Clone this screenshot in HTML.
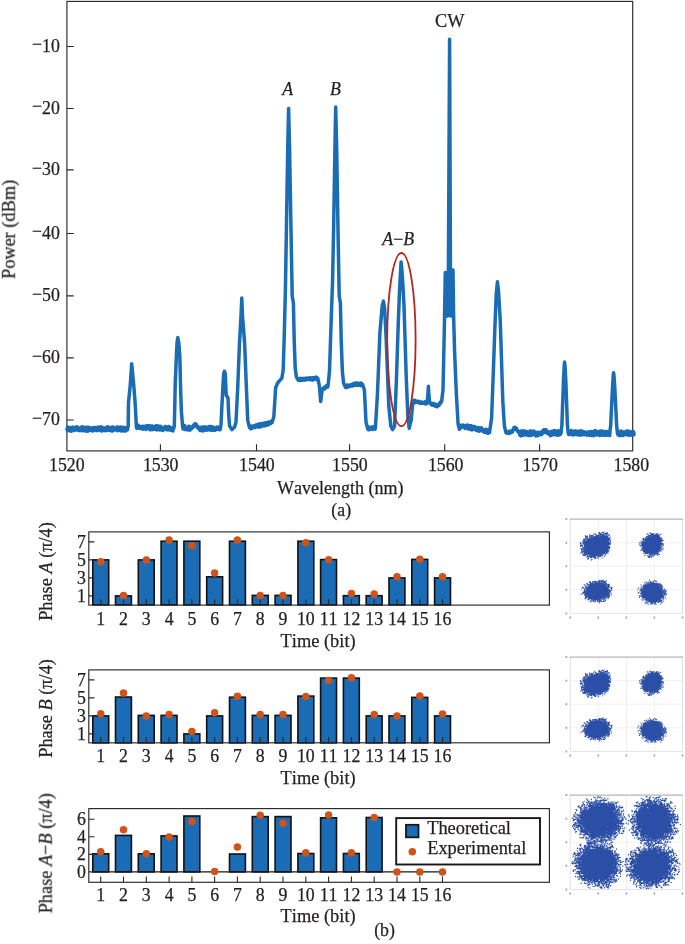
<!DOCTYPE html>
<html lang="en">
<head>
<meta charset="utf-8">
<title>Figure</title>
<style>
html,body{margin:0;padding:0;background:#fff;}
body{width:685px;height:944px;overflow:hidden;font-family:"Liberation Serif",serif;}
svg{display:block;}
svg text{font-family:"Liberation Serif",serif;font-size:17.8px;fill:#231f20;font-kerning:none;stroke:#231f20;stroke-width:0.25px;}
</style>
</head>
<body>
<svg width="685" height="944" viewBox="0 0 685 944">
<rect width="685" height="944" fill="#fff"/>
<g opacity="0.999">
<rect x="66.9" y="1.4" width="565.8000000000001" height="449.5" fill="none" stroke="#2b2728" stroke-width="1.15"/>
<path d="M66.9 420.0h6.8M66.9 357.9h6.8M66.9 295.9h6.8M66.9 233.5h6.8M66.9 169.9h6.8M66.9 108.5h6.8M66.9 46.5h6.8M160.4 450.9v-6.6M256.5 450.9v-6.6M349.6 450.9v-6.6M444.7 450.9v-6.6M539.6 450.9v-6.6" stroke="#2b2728" stroke-width="1.1" fill="none"/>
<text x="59.8" y="425.4" text-anchor="end"><tspan dy="-1.7">−</tspan><tspan dy="1.7">70</tspan></text>
<text x="59.8" y="363.3" text-anchor="end"><tspan dy="-1.7">−</tspan><tspan dy="1.7">60</tspan></text>
<text x="59.8" y="301.3" text-anchor="end"><tspan dy="-1.7">−</tspan><tspan dy="1.7">50</tspan></text>
<text x="59.8" y="238.9" text-anchor="end"><tspan dy="-1.7">−</tspan><tspan dy="1.7">40</tspan></text>
<text x="59.8" y="175.3" text-anchor="end"><tspan dy="-1.7">−</tspan><tspan dy="1.7">30</tspan></text>
<text x="59.8" y="113.9" text-anchor="end"><tspan dy="-1.7">−</tspan><tspan dy="1.7">20</tspan></text>
<text x="59.8" y="51.9" text-anchor="end"><tspan dy="-1.7">−</tspan><tspan dy="1.7">10</tspan></text>
<text x="66.8" y="470.8" text-anchor="middle">1520</text>
<text x="160.7" y="470.8" text-anchor="middle">1530</text>
<text x="256.9" y="470.8" text-anchor="middle">1540</text>
<text x="349.9" y="470.8" text-anchor="middle">1550</text>
<text x="445.7" y="470.8" text-anchor="middle">1560</text>
<text x="540.2" y="470.8" text-anchor="middle">1570</text>
<text x="631.3" y="470.8" text-anchor="middle">1580</text>
<text x="340.2" y="494" text-anchor="middle" style="font-size:18px">Wavelength (nm)</text>
<text x="341.2" y="516.1" text-anchor="middle">(a)</text>
<text transform="translate(14.8 229.4) rotate(-90)" text-anchor="middle" style="font-size:18.3px">Power (dBm)</text>
<text x="287.6" y="95" text-anchor="middle" font-style="italic">A</text>
<text x="335.4" y="95" text-anchor="middle" font-style="italic">B</text>
<text x="398.2" y="244.6" text-anchor="middle"><tspan font-style="italic">A</tspan>−<tspan font-style="italic">B</tspan></text>
<text x="449.8" y="27.4" text-anchor="middle" style="font-size:18.3px">CW</text>
<path d="M67.0 428.9 L67.5 430.7 L68.0 426.9 L68.5 430.1 L69.0 428.5 L69.5 430.7 L70.0 427.7 L70.5 429.8 L71.0 427.6 L71.5 431.2 L72.0 427.7 L72.5 429.6 L73.0 427.1 L73.5 429.5 L74.0 427.9 L74.5 430.5 L75.0 427.4 L75.5 429.3 L76.0 427.1 L76.5 429.7 L77.0 426.8 L77.5 430.1 L78.0 427.7 L78.5 430.6 L79.0 428.2 L79.5 430.5 L80.0 427.8 L80.5 429.5 L81.0 427.6 L81.5 430.7 L82.0 426.8 L82.5 430.5 L83.0 427.1 L83.5 430.0 L84.0 427.5 L84.5 430.8 L85.0 427.2 L85.5 430.9 L86.0 428.4 L86.5 431.2 L87.0 427.2 L87.5 430.0 L88.0 427.3 L88.5 430.9 L89.0 427.4 L89.5 429.9 L90.0 428.5 L90.5 430.2 L91.0 428.0 L91.5 429.4 L92.0 428.1 L92.5 431.1 L93.0 427.7 L93.5 430.8 L94.0 427.5 L94.5 430.0 L95.0 427.4 L95.5 429.9 L96.0 428.5 L96.5 430.5 L97.0 427.9 L97.5 429.5 L98.0 427.1 L98.5 430.4 L99.0 428.0 L99.5 429.6 L100.0 426.9 L100.5 429.8 L101.0 426.8 L101.5 431.0 L102.0 427.8 L102.5 430.7 L103.0 427.9 L103.5 430.4 L104.0 428.2 L104.5 430.5 L105.0 428.1 L105.5 430.7 L106.0 427.6 L106.5 429.9 L107.0 427.8 L107.5 430.0 L108.0 426.8 L108.5 430.4 L109.0 427.5 L109.5 430.2 L110.0 427.7 L110.5 430.3 L111.0 428.2 L111.5 430.9 L112.0 427.0 L112.5 431.1 L113.0 427.0 L113.5 430.6 L114.0 428.0 L114.5 429.7 L115.0 428.1 L115.5 429.6 L116.0 428.2 L116.5 429.4 L117.0 426.9 L117.5 430.8 L118.0 427.2 L118.5 430.1 L119.0 427.3 L119.5 430.5 L120.0 427.7 L120.5 429.7 L121.0 427.0 L121.5 431.0 L122.0 428.3 L122.5 430.7 L123.0 427.5 L123.5 430.2 L124.0 427.4 L124.5 430.9 L125.0 428.0 L125.5 431.1 L126.0 427.8 L126.5 430.3 L127.0 427.7 L127.5 429.9 L127.6 428.9 L128.2 426.0 L128.5 402.5 L130.3 384.6 L131.7 363.7 L133.7 384.6 L135.1 402.5 L136.4 427.0 L136.9 428.4 L137.4 426.3 L137.9 427.9 L138.4 425.2 L138.9 428.3 L139.4 426.1 L139.9 428.2 L140.4 426.7 L140.9 428.6 L141.4 426.8 L141.9 427.8 L142.4 426.3 L142.9 429.2 L143.4 426.5 L143.9 428.7 L144.4 426.4 L144.9 428.7 L145.4 426.9 L145.9 429.5 L146.4 425.8 L146.9 428.2 L147.4 425.6 L147.9 428.6 L148.4 426.1 L148.9 428.2 L149.4 425.9 L149.9 429.7 L150.4 425.9 L150.9 429.5 L151.4 426.0 L151.9 429.7 L152.4 426.1 L152.9 428.9 L153.4 427.5 L153.9 429.2 L154.4 426.6 L154.9 429.3 L155.4 425.9 L155.9 428.9 L156.4 425.7 L156.9 429.9 L157.4 425.8 L157.9 429.1 L158.4 427.2 L158.9 429.6 L159.4 426.2 L159.9 430.0 L160.4 426.2 L160.9 429.3 L161.4 427.1 L161.9 430.0 L162.4 428.0 L162.9 430.6 L163.4 427.4 L163.9 429.1 L164.4 427.8 L164.9 429.0 L165.4 426.5 L165.9 429.4 L166.4 427.6 L166.9 429.6 L167.4 427.1 L167.9 430.0 L168.4 426.5 L168.9 429.2 L169.4 426.8 L169.9 429.9 L170.4 427.9 L170.9 430.4 L171.4 428.1 L171.9 430.1 L172.4 427.9 L172.9 431.0 L173.4 427.2 L173.6 428.9 L174.3 426.0 L174.8 405.0 L175.2 384.6 L176.4 355.8 L177.0 343.0 L177.8 337.5 L178.8 343.0 L179.8 355.8 L180.5 384.6 L181.3 410.0 L182.6 427.0 L183.1 429.0 L183.6 425.7 L184.1 428.2 L184.6 425.5 L185.1 429.6 L185.6 426.9 L186.1 428.6 L186.6 427.5 L187.1 429.7 L187.6 427.3 L188.1 430.0 L188.6 426.2 L189.1 429.8 L189.6 426.6 L190.1 430.1 L190.6 427.5 L191.0 428.9 L191.5 428.8 L192.0 427.7 L192.5 427.9 L193.0 425.7 L193.5 426.8 L194.0 424.7 L194.5 425.8 L195.0 423.7 L195.3 424.0 L195.8 425.1 L196.3 424.2 L196.8 426.5 L197.3 425.8 L197.8 428.0 L198.3 426.9 L198.8 428.9 L199.3 427.7 L199.5 428.9 L200.0 430.4 L200.5 427.4 L201.0 430.5 L201.5 427.7 L202.0 430.1 L202.5 426.9 L203.0 430.9 L203.5 427.7 L204.0 429.3 L204.5 426.9 L205.0 430.3 L205.5 427.1 L206.0 429.7 L206.5 427.6 L207.0 430.2 L207.5 427.5 L208.0 429.8 L208.5 426.8 L209.0 429.6 L209.5 426.6 L210.0 430.0 L210.5 426.5 L211.0 429.7 L211.5 427.5 L212.0 430.4 L212.5 426.7 L213.0 429.7 L213.5 427.5 L214.0 430.3 L214.5 428.0 L215.0 430.3 L215.5 427.9 L216.0 429.4 L216.5 427.3 L217.0 429.3 L217.5 427.1 L218.0 429.5 L218.5 427.2 L219.0 429.0 L219.5 427.3 L220.0 429.8 L220.4 428.3 L221.0 425.0 L221.7 410.0 L223.0 385.0 L223.7 373.6 L224.4 371.2 L225.3 373.6 L226.2 395.2 L228.0 398.0 L228.7 415.0 L229.6 426.0 L232.0 429.6 L234.6 427.0 L236.0 422.0 L237.7 388.0 L239.5 343.0 L241.0 316.0 L241.8 298.0 L242.5 316.0 L244.6 343.0 L246.4 388.0 L247.7 420.0 L249.5 427.6 L250.0 427.9 L250.5 426.0 L251.0 428.9 L251.5 426.2 L252.0 428.3 L252.5 426.2 L253.0 427.6 L253.5 425.9 L254.0 426.9 L254.5 425.8 L255.0 427.6 L255.5 425.4 L256.0 426.8 L256.5 424.9 L257.0 426.8 L257.5 425.3 L258.0 426.5 L258.5 424.0 L259.0 427.2 L259.5 423.9 L260.0 426.5 L260.5 423.7 L261.0 426.8 L261.5 424.3 L262.0 425.5 L262.5 423.5 L263.0 425.8 L263.5 423.3 L264.0 426.0 L264.5 423.5 L265.0 424.7 L265.5 422.8 L266.0 425.5 L266.5 422.8 L267.0 424.1 L267.5 422.8 L268.0 424.9 L268.5 422.0 L269.0 424.6 L269.5 422.9 L270.0 423.5 L270.5 421.7 L271.0 423.3 L271.5 421.0 L272.0 422.6 L273.8 417.0 L274.9 400.0 L275.6 388.0 L277.4 383.5 L277.9 383.0 L278.4 381.7 L278.9 381.6 L279.4 381.0 L279.9 380.4 L280.4 379.6 L280.9 379.5 L281.4 378.6 L281.9 378.0 L283.2 370.0 L284.3 334.0 L285.4 290.0 L286.4 230.0 L287.7 150.0 L288.6 108.4 L289.6 150.0 L291.0 230.0 L292.2 296.0 L293.4 303.0 L294.2 340.0 L295.2 368.0 L296.4 377.0 L298.0 379.8 L298.5 380.5 L299.0 378.9 L299.5 380.5 L300.0 378.6 L300.5 380.2 L301.0 378.4 L301.5 380.4 L302.0 378.9 L302.5 380.1 L303.0 378.5 L303.5 379.8 L304.0 378.6 L304.5 379.9 L305.0 378.5 L305.5 379.9 L306.0 378.1 L306.5 379.8 L307.0 378.5 L307.5 379.5 L308.0 378.1 L308.5 379.3 L309.0 378.4 L309.5 379.2 L310.0 377.8 L310.5 379.9 L311.0 377.9 L311.5 379.3 L312.0 378.4 L312.5 380.0 L313.0 377.6 L313.5 379.7 L314.0 377.9 L314.5 379.2 L315.0 377.6 L315.5 379.0 L316.0 377.1 L316.5 379.4 L317.0 377.5 L317.5 379.0 L317.8 378.3 L319.4 386.0 L320.7 401.5 L322.2 389.0 L322.7 389.6 L323.2 388.4 L323.7 389.0 L324.2 387.4 L324.7 389.0 L325.2 387.2 L325.7 387.7 L326.2 385.9 L326.7 387.3 L327.2 386.2 L327.7 386.8 L328.0 386.3 L329.5 371.0 L331.2 320.0 L332.6 280.0 L333.6 230.0 L334.9 150.0 L335.7 107.0 L336.7 150.0 L338.0 230.0 L339.2 296.0 L340.4 303.0 L341.2 340.0 L342.4 372.0 L343.6 383.0 L345.2 386.8 L345.7 387.6 L346.2 385.3 L346.7 387.4 L347.2 384.9 L347.7 387.2 L348.2 385.4 L348.7 386.6 L349.2 385.2 L349.7 385.9 L350.2 385.1 L350.7 386.2 L351.2 384.5 L351.7 386.0 L352.2 384.5 L352.7 386.0 L353.2 383.9 L353.7 385.5 L354.2 383.8 L354.7 385.3 L355.2 382.9 L355.7 385.3 L356.0 384.2 L356.5 385.0 L357.0 383.0 L357.5 385.3 L358.0 383.8 L358.5 385.3 L359.0 383.2 L359.5 384.8 L360.0 383.7 L360.5 385.6 L361.0 383.0 L361.5 385.6 L362.0 383.7 L362.5 385.7 L362.6 384.6 L364.4 390.0 L366.0 422.0 L367.6 428.5 L368.1 429.6 L368.6 426.9 L369.1 429.8 L369.6 427.7 L370.1 429.2 L370.6 427.5 L371.1 428.5 L371.6 427.1 L372.1 429.5 L372.6 427.4 L373.1 428.7 L373.6 426.8 L374.1 428.9 L374.6 427.2 L375.1 429.3 L375.4 428.0 L377.4 395.0 L379.9 333.0 L382.2 306.0 L383.4 301.1 L384.6 308.0 L386.0 335.0 L388.8 406.0 L390.8 426.0 L392.5 429.6 L393.0 429.1 L393.5 427.7 L394.0 427.3 L394.5 425.9 L394.6 426.0 L396.4 380.0 L398.2 325.0 L399.6 289.0 L401.1 262.0 L402.3 275.0 L404.0 305.0 L406.2 376.0 L407.8 415.0 L409.2 428.2 L409.7 426.3 L410.2 423.5 L410.7 422.4 L411.2 420.0 L412.9 401.5 L413.4 401.9 L413.9 400.4 L414.4 402.7 L414.9 400.4 L415.4 402.6 L415.9 400.9 L416.4 402.2 L416.9 401.7 L417.4 402.2 L417.9 401.3 L418.4 402.7 L418.9 401.4 L419.4 402.8 L419.9 402.1 L420.4 403.5 L420.9 402.0 L421.4 402.7 L421.9 402.1 L422.4 403.2 L422.9 402.5 L423.4 403.2 L423.9 402.7 L424.4 403.7 L424.9 401.9 L425.4 403.5 L425.9 402.2 L426.4 403.9 L426.9 403.1 L427.0 403.2 L427.9 395.0 L428.4 386.3 L428.9 395.0 L429.8 403.2 L430.3 403.5 L430.8 402.9 L431.3 404.6 L431.8 403.2 L432.3 405.3 L432.8 403.9 L433.3 404.9 L433.8 403.5 L434.3 405.2 L434.8 404.0 L435.3 406.3 L435.8 404.5 L436.3 406.4 L436.8 404.9 L437.3 406.8 L437.6 405.8 L438.1 405.5 L438.6 404.2 L439.1 405.2 L439.6 403.2 L440.1 403.8 L440.6 402.1 L441.1 402.4 L441.6 401.5 L443.0 390.0 L444.3 330.0 L445.3 272.6 L446.2 316.0 L446.9 272.6 L447.6 316.0 L448.3 290.0 L449.6 39.2 L450.6 316.0 L451.5 272.0 L452.2 316.0 L453.0 270.0 L453.6 316.0 L454.6 352.0 L456.4 395.0 L458.1 424.0 L459.4 429.4 L459.9 428.8 L460.4 427.0 L460.9 427.5 L461.4 425.3 L461.5 425.8 L462.0 427.1 L462.5 425.3 L463.0 426.7 L463.5 425.1 L464.0 427.3 L464.5 425.9 L465.0 428.5 L465.5 425.6 L466.0 427.8 L466.5 426.0 L467.0 428.0 L467.5 424.9 L468.0 428.9 L468.5 426.1 L469.0 427.8 L469.5 425.8 L470.0 429.3 L470.5 425.9 L471.0 429.3 L471.5 425.7 L472.0 430.0 L472.5 426.6 L473.0 429.0 L473.5 427.1 L474.0 429.2 L474.5 426.4 L475.0 428.9 L475.5 427.8 L476.0 430.1 L476.5 427.5 L477.0 430.3 L477.5 428.0 L478.0 430.9 L478.5 427.6 L479.0 431.2 L479.5 428.4 L480.0 430.8 L480.5 429.3 L481.0 430.2 L481.5 427.7 L482.0 430.6 L482.5 429.4 L483.0 431.5 L483.5 429.8 L484.0 430.4 L484.5 432.3 L485.0 430.1 L485.5 432.4 L486.0 429.3 L486.5 432.4 L487.0 430.4 L487.5 433.3 L488.0 430.1 L488.5 433.3 L489.0 430.5 L489.5 432.6 L491.6 418.0 L493.4 370.0 L494.8 330.0 L496.2 295.0 L497.4 281.8 L498.6 292.0 L500.3 322.0 L502.8 401.0 L504.4 426.0 L505.8 432.0 L506.3 433.2 L506.8 431.4 L507.3 433.0 L507.8 431.8 L508.3 433.1 L508.8 431.8 L509.3 433.5 L509.8 431.1 L510.3 432.9 L510.8 432.2 L511.0 432.6 L511.5 432.3 L512.0 430.9 L512.5 431.9 L513.0 429.6 L513.5 429.7 L514.0 427.5 L514.5 429.3 L515.0 427.2 L515.3 427.2 L515.8 428.7 L516.3 428.1 L516.8 430.3 L517.3 429.8 L517.8 431.4 L518.3 431.0 L518.8 432.7 L519.3 432.0 L519.5 433.4 L520.0 435.2 L520.5 431.2 L521.0 435.9 L521.5 430.9 L522.0 435.2 L522.5 432.2 L523.0 435.2 L523.5 430.7 L524.0 434.3 L524.5 431.3 L525.0 435.1 L525.5 431.4 L526.0 434.2 L526.5 431.2 L527.0 434.1 L527.5 432.1 L528.0 435.4 L528.5 432.1 L529.0 435.4 L529.5 431.4 L530.0 435.5 L530.5 430.8 L531.0 434.5 L531.5 432.4 L532.0 435.2 L532.5 432.8 L533.0 434.4 L533.5 431.0 L534.0 434.5 L534.5 431.7 L535.0 434.8 L535.5 432.1 L536.0 435.9 L536.5 432.5 L537.0 435.2 L537.5 432.6 L538.0 435.7 L538.5 432.3 L539.0 434.9 L539.5 432.4 L540.0 434.3 L540.5 432.5 L541.0 433.4 L541.5 434.7 L542.0 431.7 L542.5 433.4 L543.0 430.4 L543.5 432.9 L544.0 429.8 L544.5 432.3 L545.0 430.4 L545.5 431.3 L546.0 429.7 L546.5 432.6 L547.0 430.9 L547.5 433.6 L548.0 431.4 L548.5 433.7 L549.0 433.4 L549.5 434.5 L550.0 432.1 L550.5 435.7 L551.0 431.6 L551.5 433.8 L552.0 431.5 L552.5 435.0 L553.0 431.5 L553.5 433.8 L554.0 430.7 L554.5 434.6 L555.0 430.6 L555.5 434.6 L556.0 431.5 L556.5 435.1 L557.0 432.5 L557.5 435.3 L558.0 430.8 L558.5 434.6 L559.0 431.6 L559.5 434.9 L560.0 431.0 L560.5 434.3 L561.0 433.0 L561.9 425.0 L562.5 408.0 L563.5 380.0 L564.2 366.0 L564.6 362.1 L565.0 366.0 L565.8 380.0 L566.8 408.0 L567.4 425.0 L568.2 433.0 L568.7 434.4 L569.2 431.7 L569.7 434.3 L570.2 431.0 L570.7 434.4 L571.2 430.6 L571.7 434.6 L572.2 431.5 L572.7 434.2 L573.2 431.3 L573.7 435.1 L574.2 431.9 L574.7 434.2 L575.2 431.0 L575.7 434.0 L576.2 431.0 L576.7 434.4 L577.2 432.4 L577.7 434.8 L578.2 431.4 L578.7 435.0 L579.2 430.9 L579.7 433.9 L580.2 431.5 L580.7 435.1 L581.2 430.8 L581.7 434.9 L582.2 431.8 L582.7 434.8 L583.2 431.4 L583.7 434.5 L584.2 431.9 L584.7 434.6 L585.2 432.4 L585.7 434.1 L586.2 432.4 L586.7 435.3 L587.2 432.3 L587.7 434.2 L588.2 432.2 L588.7 434.4 L589.2 431.7 L589.7 435.4 L590.2 432.0 L590.7 434.0 L591.2 431.5 L591.7 435.4 L592.2 432.1 L592.7 435.6 L593.2 431.6 L593.7 435.7 L594.2 431.1 L594.7 434.5 L595.2 430.6 L595.7 434.2 L596.2 431.2 L596.7 435.1 L597.2 431.4 L597.7 434.5 L598.2 431.9 L598.7 433.9 L599.2 431.5 L599.7 435.5 L600.2 431.0 L600.7 434.8 L601.2 431.1 L601.7 435.3 L602.2 430.9 L602.7 435.1 L603.2 431.8 L603.7 434.1 L604.2 431.8 L604.7 435.5 L605.2 431.6 L605.7 434.2 L606.2 432.3 L606.7 435.3 L607.2 431.4 L607.7 434.9 L608.2 431.7 L608.7 434.6 L609.2 431.9 L609.7 435.6 L609.8 433.2 L610.7 425.0 L611.4 410.0 L612.6 386.0 L613.2 376.0 L613.6 372.7 L614.0 376.0 L614.7 386.0 L615.9 410.0 L616.6 425.0 L617.4 433.2 L617.9 434.5 L618.4 432.6 L618.9 435.5 L619.4 431.6 L619.9 433.8 L620.4 431.9 L620.9 435.6 L621.4 430.9 L621.9 434.1 L622.4 432.0 L622.9 435.5 L623.4 432.0 L623.9 435.0 L624.4 432.7 L624.9 434.5 L625.4 431.7 L625.9 434.8 L626.4 430.9 L626.9 434.0 L627.4 431.9 L627.9 434.0 L628.4 430.9 L628.9 435.5 L629.4 431.9 L629.9 434.5 L630.4 431.9 L630.9 433.8 L631.4 431.8 L631.9 435.2 L632.4 432.2 L632.9 434.3 L633.4 431.5 L633.9 434.8 L634.0 433.2" fill="none" stroke="#1a6cb4" stroke-width="3.5" stroke-linejoin="round" stroke-linecap="round"/>
<ellipse cx="401.4" cy="339.6" rx="14.2" ry="86.6" fill="none" stroke="#b4261c" stroke-width="1.8"/>
<rect x="92.8" y="559.9" width="15.9" height="45.0" fill="#1a6cb4" stroke="#151112" stroke-width="1.6"/>
<rect x="115.5" y="595.9" width="15.9" height="9.0" fill="#1a6cb4" stroke="#151112" stroke-width="1.6"/>
<rect x="138.3" y="559.9" width="15.9" height="45.0" fill="#1a6cb4" stroke="#151112" stroke-width="1.6"/>
<rect x="161.1" y="541.2" width="15.9" height="63.7" fill="#1a6cb4" stroke="#151112" stroke-width="1.6"/>
<rect x="183.9" y="541.2" width="15.9" height="63.7" fill="#1a6cb4" stroke="#151112" stroke-width="1.6"/>
<rect x="206.7" y="576.8" width="15.9" height="28.1" fill="#1a6cb4" stroke="#151112" stroke-width="1.6"/>
<rect x="229.5" y="541.2" width="15.9" height="63.7" fill="#1a6cb4" stroke="#151112" stroke-width="1.6"/>
<rect x="252.3" y="595.4" width="15.9" height="9.5" fill="#1a6cb4" stroke="#151112" stroke-width="1.6"/>
<rect x="275.1" y="595.4" width="15.9" height="9.5" fill="#1a6cb4" stroke="#151112" stroke-width="1.6"/>
<rect x="297.9" y="541.2" width="15.9" height="63.7" fill="#1a6cb4" stroke="#151112" stroke-width="1.6"/>
<rect x="320.6" y="559.6" width="15.9" height="45.3" fill="#1a6cb4" stroke="#151112" stroke-width="1.6"/>
<rect x="343.4" y="595.7" width="15.9" height="9.2" fill="#1a6cb4" stroke="#151112" stroke-width="1.6"/>
<rect x="366.2" y="595.7" width="15.9" height="9.2" fill="#1a6cb4" stroke="#151112" stroke-width="1.6"/>
<rect x="389.0" y="577.9" width="15.9" height="27.0" fill="#1a6cb4" stroke="#151112" stroke-width="1.6"/>
<rect x="411.8" y="559.4" width="15.9" height="45.5" fill="#1a6cb4" stroke="#151112" stroke-width="1.6"/>
<rect x="434.6" y="577.9" width="15.9" height="27.0" fill="#1a6cb4" stroke="#151112" stroke-width="1.6"/>
<rect x="88.8" y="531.9" width="460.59999999999997" height="73.20000000000005" fill="none" stroke="#2b2728" stroke-width="1.15"/>
<text x="86" y="601.8" text-anchor="end">1</text>
<text x="86" y="583.8" text-anchor="end">3</text>
<text x="86" y="565.8" text-anchor="end">5</text>
<text x="86" y="547.8" text-anchor="end">7</text>
<text x="100.7" y="624.8" text-anchor="middle">1</text>
<text x="123.5" y="624.8" text-anchor="middle">2</text>
<text x="146.3" y="624.8" text-anchor="middle">3</text>
<text x="169.1" y="624.8" text-anchor="middle">4</text>
<text x="191.9" y="624.8" text-anchor="middle">5</text>
<text x="214.6" y="624.8" text-anchor="middle">6</text>
<text x="237.4" y="624.8" text-anchor="middle">7</text>
<text x="260.2" y="624.8" text-anchor="middle">8</text>
<text x="283.0" y="624.8" text-anchor="middle">9</text>
<text x="305.8" y="624.8" text-anchor="middle">10</text>
<text x="328.6" y="624.8" text-anchor="middle">11</text>
<text x="351.4" y="624.8" text-anchor="middle">12</text>
<text x="374.2" y="624.8" text-anchor="middle">13</text>
<text x="397.0" y="624.8" text-anchor="middle">14</text>
<text x="419.8" y="624.8" text-anchor="middle">15</text>
<text x="442.5" y="624.8" text-anchor="middle">16</text>
<path d="M88.8 595.9h5.6M88.8 577.9h5.6M88.8 559.9h5.6M88.8 541.9h5.6M100.7 605.1v-5.8M123.5 605.1v-5.8M146.3 605.1v-5.8M169.1 605.1v-5.8M191.9 605.1v-5.8M214.6 605.1v-5.8M237.4 605.1v-5.8M260.2 605.1v-5.8M283.0 605.1v-5.8M305.8 605.1v-5.8M328.6 605.1v-5.8M351.4 605.1v-5.8M374.2 605.1v-5.8M397.0 605.1v-5.8M419.8 605.1v-5.8M442.5 605.1v-5.8" stroke="#2b2728" stroke-width="1.1" fill="none"/>
<circle cx="100.7" cy="561.7" r="3.75" fill="#cf541c"/>
<circle cx="123.5" cy="595.4" r="3.75" fill="#cf541c"/>
<circle cx="146.3" cy="559.9" r="3.75" fill="#cf541c"/>
<circle cx="169.1" cy="540.1" r="3.75" fill="#cf541c"/>
<circle cx="191.9" cy="545.8" r="3.75" fill="#cf541c"/>
<circle cx="214.6" cy="572.9" r="3.75" fill="#cf541c"/>
<circle cx="237.4" cy="540.1" r="3.75" fill="#cf541c"/>
<circle cx="260.2" cy="595.6" r="3.75" fill="#cf541c"/>
<circle cx="283.0" cy="595.6" r="3.75" fill="#cf541c"/>
<circle cx="305.8" cy="542.8" r="3.75" fill="#cf541c"/>
<circle cx="328.6" cy="559.7" r="3.75" fill="#cf541c"/>
<circle cx="351.4" cy="593.5" r="3.75" fill="#cf541c"/>
<circle cx="374.2" cy="593.9" r="3.75" fill="#cf541c"/>
<circle cx="397.0" cy="576.8" r="3.75" fill="#cf541c"/>
<circle cx="419.8" cy="559.3" r="3.75" fill="#cf541c"/>
<circle cx="442.5" cy="576.8" r="3.75" fill="#cf541c"/>
<text x="318.1" y="646.8" text-anchor="middle" style="font-size:18.4px">Time (bit)</text>
<text transform="translate(51.7 571.5) rotate(-90)" text-anchor="middle" style="font-size:18.3px">Phase <tspan font-style="italic">A</tspan> (π/4)</text>
<rect x="92.8" y="715.9" width="15.9" height="27.0" fill="#1a6cb4" stroke="#151112" stroke-width="1.6"/>
<rect x="115.5" y="697.0" width="15.9" height="45.9" fill="#1a6cb4" stroke="#151112" stroke-width="1.6"/>
<rect x="138.3" y="715.4" width="15.9" height="27.5" fill="#1a6cb4" stroke="#151112" stroke-width="1.6"/>
<rect x="161.1" y="715.4" width="15.9" height="27.5" fill="#1a6cb4" stroke="#151112" stroke-width="1.6"/>
<rect x="183.9" y="733.9" width="15.9" height="9.0" fill="#1a6cb4" stroke="#151112" stroke-width="1.6"/>
<rect x="206.7" y="715.9" width="15.9" height="27.0" fill="#1a6cb4" stroke="#151112" stroke-width="1.6"/>
<rect x="229.5" y="697.2" width="15.9" height="45.7" fill="#1a6cb4" stroke="#151112" stroke-width="1.6"/>
<rect x="252.3" y="715.4" width="15.9" height="27.5" fill="#1a6cb4" stroke="#151112" stroke-width="1.6"/>
<rect x="275.1" y="715.4" width="15.9" height="27.5" fill="#1a6cb4" stroke="#151112" stroke-width="1.6"/>
<rect x="297.9" y="696.1" width="15.9" height="46.8" fill="#1a6cb4" stroke="#151112" stroke-width="1.6"/>
<rect x="320.6" y="678.1" width="15.9" height="64.8" fill="#1a6cb4" stroke="#151112" stroke-width="1.6"/>
<rect x="343.4" y="678.1" width="15.9" height="64.8" fill="#1a6cb4" stroke="#151112" stroke-width="1.6"/>
<rect x="366.2" y="715.9" width="15.9" height="27.0" fill="#1a6cb4" stroke="#151112" stroke-width="1.6"/>
<rect x="389.0" y="715.9" width="15.9" height="27.0" fill="#1a6cb4" stroke="#151112" stroke-width="1.6"/>
<rect x="411.8" y="697.4" width="15.9" height="45.5" fill="#1a6cb4" stroke="#151112" stroke-width="1.6"/>
<rect x="434.6" y="715.9" width="15.9" height="27.0" fill="#1a6cb4" stroke="#151112" stroke-width="1.6"/>
<rect x="88.8" y="669.9" width="460.59999999999997" height="72.89999999999998" fill="none" stroke="#2b2728" stroke-width="1.15"/>
<text x="86" y="739.8" text-anchor="end">1</text>
<text x="86" y="721.8" text-anchor="end">3</text>
<text x="86" y="703.8" text-anchor="end">5</text>
<text x="86" y="685.8" text-anchor="end">7</text>
<text x="100.7" y="762.3" text-anchor="middle">1</text>
<text x="123.5" y="762.3" text-anchor="middle">2</text>
<text x="146.3" y="762.3" text-anchor="middle">3</text>
<text x="169.1" y="762.3" text-anchor="middle">4</text>
<text x="191.9" y="762.3" text-anchor="middle">5</text>
<text x="214.6" y="762.3" text-anchor="middle">6</text>
<text x="237.4" y="762.3" text-anchor="middle">7</text>
<text x="260.2" y="762.3" text-anchor="middle">8</text>
<text x="283.0" y="762.3" text-anchor="middle">9</text>
<text x="305.8" y="762.3" text-anchor="middle">10</text>
<text x="328.6" y="762.3" text-anchor="middle">11</text>
<text x="351.4" y="762.3" text-anchor="middle">12</text>
<text x="374.2" y="762.3" text-anchor="middle">13</text>
<text x="397.0" y="762.3" text-anchor="middle">14</text>
<text x="419.8" y="762.3" text-anchor="middle">15</text>
<text x="442.5" y="762.3" text-anchor="middle">16</text>
<path d="M88.8 733.9h5.6M88.8 715.9h5.6M88.8 697.9h5.6M88.8 679.9h5.6M100.7 742.8v-5.8M123.5 742.8v-5.8M146.3 742.8v-5.8M169.1 742.8v-5.8M191.9 742.8v-5.8M214.6 742.8v-5.8M237.4 742.8v-5.8M260.2 742.8v-5.8M283.0 742.8v-5.8M305.8 742.8v-5.8M328.6 742.8v-5.8M351.4 742.8v-5.8M374.2 742.8v-5.8M397.0 742.8v-5.8M419.8 742.8v-5.8M442.5 742.8v-5.8" stroke="#2b2728" stroke-width="1.1" fill="none"/>
<circle cx="100.7" cy="713.8" r="3.75" fill="#cf541c"/>
<circle cx="123.5" cy="692.9" r="3.75" fill="#cf541c"/>
<circle cx="146.3" cy="715.9" r="3.75" fill="#cf541c"/>
<circle cx="169.1" cy="714.5" r="3.75" fill="#cf541c"/>
<circle cx="191.9" cy="731.4" r="3.75" fill="#cf541c"/>
<circle cx="214.6" cy="712.8" r="3.75" fill="#cf541c"/>
<circle cx="237.4" cy="696.2" r="3.75" fill="#cf541c"/>
<circle cx="260.2" cy="714.5" r="3.75" fill="#cf541c"/>
<circle cx="283.0" cy="714.5" r="3.75" fill="#cf541c"/>
<circle cx="305.8" cy="696.4" r="3.75" fill="#cf541c"/>
<circle cx="328.6" cy="680.6" r="3.75" fill="#cf541c"/>
<circle cx="351.4" cy="677.8" r="3.75" fill="#cf541c"/>
<circle cx="374.2" cy="714.4" r="3.75" fill="#cf541c"/>
<circle cx="397.0" cy="715.9" r="3.75" fill="#cf541c"/>
<circle cx="419.8" cy="696.1" r="3.75" fill="#cf541c"/>
<circle cx="442.5" cy="714.1" r="3.75" fill="#cf541c"/>
<text x="318.1" y="784.3" text-anchor="middle" style="font-size:18.4px">Time (bit)</text>
<text transform="translate(51.7 708.4) rotate(-90)" text-anchor="middle" style="font-size:18.3px">Phase <tspan font-style="italic">B</tspan> (π/4)</text>
<rect x="92.8" y="853.8" width="15.9" height="18.1" fill="#1a6cb4" stroke="#151112" stroke-width="1.6"/>
<rect x="115.5" y="835.4" width="15.9" height="36.5" fill="#1a6cb4" stroke="#151112" stroke-width="1.6"/>
<rect x="138.3" y="853.8" width="15.9" height="18.1" fill="#1a6cb4" stroke="#151112" stroke-width="1.6"/>
<rect x="161.1" y="835.9" width="15.9" height="36.0" fill="#1a6cb4" stroke="#151112" stroke-width="1.6"/>
<rect x="183.9" y="816.0" width="15.9" height="55.9" fill="#1a6cb4" stroke="#151112" stroke-width="1.6"/>
<rect x="229.5" y="854.0" width="15.9" height="17.9" fill="#1a6cb4" stroke="#151112" stroke-width="1.6"/>
<rect x="252.3" y="816.6" width="15.9" height="55.3" fill="#1a6cb4" stroke="#151112" stroke-width="1.6"/>
<rect x="275.1" y="816.6" width="15.9" height="55.3" fill="#1a6cb4" stroke="#151112" stroke-width="1.6"/>
<rect x="297.9" y="853.5" width="15.9" height="18.4" fill="#1a6cb4" stroke="#151112" stroke-width="1.6"/>
<rect x="320.6" y="817.8" width="15.9" height="54.1" fill="#1a6cb4" stroke="#151112" stroke-width="1.6"/>
<rect x="343.4" y="853.5" width="15.9" height="18.4" fill="#1a6cb4" stroke="#151112" stroke-width="1.6"/>
<rect x="366.2" y="817.5" width="15.9" height="54.4" fill="#1a6cb4" stroke="#151112" stroke-width="1.6"/>
<path d="M92.2 871.9H442.5" stroke="#1a1617" stroke-width="1.2"/>
<rect x="88.8" y="808.6" width="460.59999999999997" height="73.69999999999993" fill="none" stroke="#2b2728" stroke-width="1.15"/>
<text x="86" y="877.8" text-anchor="end">0</text>
<text x="86" y="860.3" text-anchor="end">2</text>
<text x="86" y="842.7" text-anchor="end">4</text>
<text x="86" y="825.2" text-anchor="end">6</text>
<text x="100.7" y="901.3" text-anchor="middle">1</text>
<text x="123.5" y="901.3" text-anchor="middle">2</text>
<text x="146.3" y="901.3" text-anchor="middle">3</text>
<text x="169.1" y="901.3" text-anchor="middle">4</text>
<text x="191.9" y="901.3" text-anchor="middle">5</text>
<text x="214.6" y="901.3" text-anchor="middle">6</text>
<text x="237.4" y="901.3" text-anchor="middle">7</text>
<text x="260.2" y="901.3" text-anchor="middle">8</text>
<text x="283.0" y="901.3" text-anchor="middle">9</text>
<text x="305.8" y="901.3" text-anchor="middle">10</text>
<text x="328.6" y="901.3" text-anchor="middle">11</text>
<text x="351.4" y="901.3" text-anchor="middle">12</text>
<text x="374.2" y="901.3" text-anchor="middle">13</text>
<text x="397.0" y="901.3" text-anchor="middle">14</text>
<text x="419.8" y="901.3" text-anchor="middle">15</text>
<text x="442.5" y="901.3" text-anchor="middle">16</text>
<path d="M88.8 871.9h5.6M88.8 854.4h5.6M88.8 836.8h5.6M88.8 819.3h5.6M100.7 882.3v-5.8M123.5 882.3v-5.8M146.3 882.3v-5.8M169.1 882.3v-5.8M191.9 882.3v-5.8M214.6 882.3v-5.8M237.4 882.3v-5.8M260.2 882.3v-5.8M283.0 882.3v-5.8M305.8 882.3v-5.8M328.6 882.3v-5.8M351.4 882.3v-5.8M374.2 882.3v-5.8M397.0 882.3v-5.8M419.8 882.3v-5.8M442.5 882.3v-5.8" stroke="#2b2728" stroke-width="1.1" fill="none"/>
<circle cx="100.7" cy="851.7" r="3.75" fill="#cf541c"/>
<circle cx="123.5" cy="829.8" r="3.75" fill="#cf541c"/>
<circle cx="146.3" cy="853.8" r="3.75" fill="#cf541c"/>
<circle cx="169.1" cy="837.1" r="3.75" fill="#cf541c"/>
<circle cx="191.9" cy="821.5" r="3.75" fill="#cf541c"/>
<circle cx="214.6" cy="871.5" r="3.75" fill="#cf541c"/>
<circle cx="237.4" cy="847.1" r="3.75" fill="#cf541c"/>
<circle cx="260.2" cy="815.3" r="3.75" fill="#cf541c"/>
<circle cx="283.0" cy="823.2" r="3.75" fill="#cf541c"/>
<circle cx="305.8" cy="852.8" r="3.75" fill="#cf541c"/>
<circle cx="328.6" cy="814.9" r="3.75" fill="#cf541c"/>
<circle cx="351.4" cy="852.8" r="3.75" fill="#cf541c"/>
<circle cx="374.2" cy="817.4" r="3.75" fill="#cf541c"/>
<circle cx="397.0" cy="871.9" r="3.75" fill="#cf541c"/>
<circle cx="419.8" cy="871.9" r="3.75" fill="#cf541c"/>
<circle cx="442.5" cy="871.9" r="3.75" fill="#cf541c"/>
<text x="318.1" y="922.3" text-anchor="middle" style="font-size:18.4px">Time (bit)</text>
<text transform="translate(51.7 853.3) rotate(-90)" text-anchor="middle" style="font-size:18.3px">Phase <tspan font-style="italic">A</tspan>−<tspan font-style="italic">B</tspan> (π/4)</text>
<rect x="396.2" y="818.1" width="143.8" height="46.4" fill="#fff" stroke="#1a1617" stroke-width="1.9"/>
<rect x="406.0" y="824.8" width="12.5" height="12.5" fill="#1a6cb4" stroke="#1a1617" stroke-width="1.8"/>
<circle cx="412.3" cy="851.7" r="3.75" fill="#cf541c"/>
<text x="427.2" y="833.6" style="font-size:18.4px">Theoretical</text>
<text x="427.2" y="853.8" style="font-size:18.4px">Experimental</text>
<text x="384.5" y="936.2" text-anchor="middle">(b)</text>
<g id="c1"><path d="M598.3 519.1V613.4M626.4 519.1V613.4M654.4 519.1V613.4M570.2 542.7H682.5M570.2 566.2H682.5M570.2 589.8H682.5" stroke="#ebebeb" stroke-width="0.8" fill="none"/><path d="M570.2 519.1V613.4H682.5V519.1" stroke="#dcdcdc" stroke-width="0.8" fill="none"/><path d="M569.7 519.1H683.0" stroke="#9a9a9a" stroke-width="0.9" fill="none"/><path d="M565.6 519.1h1.6M565.6 542.7h1.6M565.6 566.2h1.6M565.6 589.8h1.6M565.6 613.4h1.6M569.4 617.4h1.6M597.5 617.4h1.6M625.6 617.4h1.6M653.6 617.4h1.6M681.7 617.4h1.6" stroke="#777" stroke-width="2" fill="none" opacity="0.7"/><g fill="#2b4ea6"><ellipse cx="594.5" cy="546.4" rx="9.8" ry="8.6" transform="rotate(-15 594.5 546.4)"/><ellipse cx="603.2" cy="544.2" rx="5.4" ry="8.6" transform="rotate(5 603.2 544.2)"/><ellipse cx="651.8" cy="545.1" rx="8.0" ry="7.6" transform="rotate(-30 651.8 545.1)"/><ellipse cx="655.6" cy="540.4" rx="4.8" ry="4.8" transform="rotate(0 655.6 540.4)"/><ellipse cx="596.9" cy="591.2" rx="10.0" ry="7.6" transform="rotate(-8 596.9 591.2)"/><ellipse cx="652.2" cy="592.7" rx="9.2" ry="7.8" transform="rotate(22 652.2 592.7)"/></g><path d="M586.6 541.7h0M594.5 556.4h0M589.1 540.3h0M595.9 554.9h0M583.2 555.4h0M585.1 547.1h0M593.5 538.4h0M595.4 537.5h0M588.2 554.1h0M591.6 555.7h0M601.4 555.1h0M600.7 555.0h0M593.2 537.8h0M583.9 549.4h0M598.5 554.1h0M581.8 545.9h0M589.3 534.8h0M585.4 552.8h0M587.7 552.6h0M600.3 552.3h0M588.3 541.1h0M607.2 539.4h0M592.8 538.6h0M584.8 539.8h0M580.4 545.0h0M598.1 538.7h0M601.9 535.9h0M592.6 538.1h0M594.8 533.2h0M592.8 554.3h0M587.7 559.1h0M589.3 553.9h0M591.1 555.1h0M592.7 556.1h0M592.7 538.2h0M588.4 539.8h0M585.3 545.3h0M591.4 554.2h0M582.7 548.8h0M609.3 543.0h0M585.2 545.5h0M592.2 554.2h0M595.2 554.7h0M585.1 542.9h0M587.6 540.3h0M588.3 540.7h0M590.1 539.7h0M594.3 536.7h0M585.5 537.9h0M585.4 555.7h0M602.4 553.5h0M602.0 534.1h0M585.1 543.1h0M589.2 536.8h0M586.5 542.3h0M587.1 541.4h0M597.0 537.1h0M596.1 554.3h0M597.6 536.3h0M599.6 552.7h0M585.1 543.2h0M596.1 538.2h0M595.0 557.2h0M588.0 552.6h0M595.2 538.4h0M584.6 552.7h0M598.4 555.0h0M599.8 538.3h0M597.2 555.3h0M600.8 553.3h0M599.2 555.6h0M592.4 538.8h0M588.7 553.7h0M595.5 557.4h0M585.4 553.0h0M587.6 541.0h0M589.2 557.0h0M600.0 537.7h0M589.6 556.1h0M583.0 541.3h0M598.3 538.0h0M588.2 541.1h0M591.6 556.8h0M583.9 542.4h0M596.4 536.9h0M584.3 545.6h0M587.8 555.6h0M595.9 557.0h0M581.3 548.7h0M580.7 553.1h0M594.3 554.4h0M589.2 553.4h0M605.0 553.0h0M605.1 551.0h0M585.8 549.5h0M594.1 537.4h0M588.1 556.0h0M585.1 542.2h0M593.2 538.2h0M587.8 541.6h0M595.6 558.3h0M584.9 551.7h0M583.9 547.0h0M585.2 551.3h0M583.9 547.8h0M582.1 552.1h0M597.2 537.0h0M583.6 543.6h0M584.6 553.2h0M604.8 552.0h0M594.3 556.7h0M584.1 540.7h0M593.7 535.1h0M599.4 533.3h0M585.4 546.4h0M586.1 543.4h0M583.9 540.5h0M594.8 554.4h0M585.5 554.5h0M585.7 554.1h0M601.9 555.0h0M587.2 542.1h0M586.6 550.6h0M581.0 545.4h0M585.1 544.9h0M590.6 536.9h0M585.1 541.6h0M597.9 557.5h0M599.9 552.4h0M585.0 552.1h0M590.5 539.2h0M590.2 555.1h0M588.4 539.3h0M594.3 556.9h0M584.3 549.4h0M600.3 554.4h0M586.5 550.7h0M590.4 539.4h0M590.3 539.0h0M587.7 555.7h0M601.7 555.6h0M586.7 557.1h0M601.1 535.8h0M595.4 554.6h0M581.6 544.1h0M580.4 542.6h0M604.6 551.5h0M592.2 554.7h0M585.7 541.0h0M585.3 548.6h0M596.7 555.4h0M604.3 556.5h0M582.2 546.3h0M594.9 536.8h0M592.6 536.4h0M582.8 542.8h0M585.8 542.3h0M596.3 536.5h0M587.4 552.4h0M595.9 558.5h0M598.3 536.3h0M591.4 538.7h0M595.2 555.2h0M588.4 556.3h0M585.3 545.5h0M588.5 540.2h0M586.5 554.0h0M585.7 545.0h0M604.5 536.4h0M586.9 552.6h0M581.2 550.8h0M590.2 536.7h0M586.5 541.6h0M584.8 541.4h0M585.7 549.3h0M590.8 539.2h0M608.4 551.0h0M585.8 538.7h0M583.1 548.8h0M597.5 554.3h0M605.5 554.8h0M599.9 552.6h0M585.2 548.4h0M606.0 550.1h0M581.2 545.5h0M593.7 534.3h0M594.6 536.9h0M601.4 552.5h0M583.1 541.1h0M591.1 557.5h0M587.2 536.4h0M584.5 555.4h0M598.3 536.8h0M595.2 536.3h0M582.9 552.8h0M586.7 552.8h0M598.5 538.3h0M588.5 553.7h0M583.9 543.2h0M587.1 542.2h0M586.1 550.9h0M609.7 542.7h0M584.8 546.0h0M588.6 540.2h0M596.8 555.5h0M598.6 554.6h0M586.5 536.8h0M594.8 537.1h0M582.9 549.6h0M590.8 537.4h0M584.3 542.4h0M585.5 544.9h0M581.7 550.1h0M584.8 546.5h0M600.4 554.0h0M599.4 554.1h0M590.2 553.9h0M587.2 536.4h0M584.8 548.4h0M588.2 538.7h0M593.4 556.8h0M591.8 554.1h0M596.8 538.7h0M599.2 537.7h0M601.5 553.0h0M600.0 539.0h0M588.1 541.2h0M582.4 549.7h0M590.4 556.6h0M596.6 555.3h0M583.4 551.5h0M587.8 554.9h0M584.7 551.4h0M597.5 538.6h0M589.5 538.0h0M585.6 544.6h0M589.0 540.1h0M598.6 556.0h0M604.5 552.1h0M589.3 557.2h0M586.0 544.5h0M586.5 552.8h0M586.6 538.1h0M599.9 538.9h0M582.8 548.8h0M591.5 554.6h0M587.8 552.5h0M585.1 550.3h0M589.4 554.7h0M588.1 557.9h0M586.0 550.4h0M590.9 553.9h0M592.7 556.4h0M592.4 537.2h0M595.2 554.9h0M597.1 537.5h0M587.7 553.9h0M585.1 538.9h0M595.7 536.5h0M585.4 535.6h0M583.6 540.8h0M602.9 553.9h0M586.4 539.8h0M588.8 538.5h0M587.6 540.3h0M600.8 538.0h0M587.6 541.6h0M581.5 549.0h0M600.4 556.3h0M598.3 554.5h0M591.4 535.4h0M598.5 558.5h0M599.5 535.2h0M590.9 538.0h0M585.4 535.9h0M594.5 538.4h0M589.2 556.7h0M594.4 554.9h0M609.4 543.7h0M593.9 537.9h0M585.1 546.1h0M590.6 555.5h0M585.7 551.0h0M589.7 554.6h0M595.8 538.1h0M597.7 538.5h0M593.0 537.3h0M595.5 534.6h0M586.4 552.9h0M607.7 546.7h0M585.9 542.8h0M583.9 538.9h0M592.5 535.5h0M591.4 537.9h0M595.9 536.8h0M591.8 538.6h0M586.8 552.7h0M585.9 541.4h0M601.3 551.6h0M587.6 556.3h0M585.6 542.1h0M587.6 539.2h0M598.6 538.5h0M585.5 549.2h0M582.9 554.1h0M581.1 548.4h0M584.4 544.1h0M583.2 550.8h0M586.9 553.2h0M602.2 557.8h0M590.8 553.9h0M592.0 554.8h0M595.1 537.5h0M587.4 541.7h0M594.1 557.7h0M580.4 546.1h0M587.8 558.9h0M584.0 550.5h0M585.4 544.5h0M593.9 538.5h0M598.1 554.0h0M590.9 537.7h0M588.0 553.2h0M598.6 553.6h0M587.7 540.2h0M592.8 536.9h0M582.7 551.9h0M594.0 555.7h0M591.9 557.5h0M594.3 537.6h0M584.4 551.0h0M585.6 549.8h0M598.0 536.9h0M599.4 552.7h0M598.6 535.4h0M596.2 538.4h0M590.0 554.7h0M597.3 536.5h0M588.6 553.3h0M601.3 552.7h0M602.6 555.6h0M585.2 550.9h0M601.2 537.1h0M599.5 539.3h0M592.0 537.7h0M584.1 543.2h0M596.7 555.0h0M599.3 554.1h0M585.7 548.3h0M586.2 551.4h0M585.2 543.7h0M594.5 558.1h0M598.8 533.8h0M598.8 536.3h0M586.2 551.7h0M586.2 541.4h0M591.8 536.4h0M592.5 555.2h0M588.3 541.0h0M586.8 553.6h0M589.5 539.9h0M593.5 556.6h0M592.6 555.7h0M600.4 555.4h0M584.4 544.5h0M588.8 539.9h0M587.7 541.7h0M584.8 544.8h0M586.9 554.8h0M585.7 551.1h0M591.7 556.3h0M592.0 559.5h0M583.9 551.7h0M590.2 535.6h0M584.8 551.4h0M586.5 541.3h0M601.6 536.8h0M598.6 539.0h0M599.8 553.0h0M585.9 552.7h0M599.4 554.1h0M584.7 553.0h0M593.2 555.5h0M581.6 551.8h0M598.5 555.5h0M594.3 555.2h0M603.5 536.2h0M599.4 537.8h0M595.7 534.5h0M597.6 556.3h0M606.7 550.7h0M596.8 555.8h0M586.7 552.7h0M580.5 543.4h0M598.9 533.1h0M597.9 537.8h0M608.0 547.6h0M585.7 550.5h0M599.4 537.0h0M599.4 556.4h0M584.6 554.2h0M598.2 537.8h0M582.8 547.3h0M606.5 552.6h0M597.6 538.8h0M593.7 555.2h0M584.2 547.0h0M596.8 555.1h0M585.1 541.2h0M609.1 550.6h0M584.6 549.6h0M594.2 554.8h0M594.1 554.6h0M595.1 536.5h0M596.5 554.0h0M589.8 536.3h0M597.7 538.8h0M601.3 553.0h0M583.8 554.4h0M585.9 540.9h0M601.9 552.4h0M587.4 537.5h0M596.4 535.4h0M585.8 540.9h0M600.8 552.6h0M586.1 550.8h0M598.5 538.8h0M592.6 554.3h0M582.8 541.8h0M598.1 538.7h0M585.6 536.4h0M595.4 555.6h0M589.1 539.4h0M592.6 555.7h0M601.8 552.1h0M599.5 538.4h0M588.5 553.3h0M592.3 554.4h0M598.2 538.0h0M596.3 555.6h0M597.5 535.7h0M584.6 551.3h0M583.9 544.3h0M586.0 550.0h0M584.9 546.6h0M587.1 551.7h0M581.6 552.1h0M591.4 559.9h0M598.5 553.7h0M587.3 541.8h0M583.5 551.3h0M593.9 538.1h0M580.9 543.5h0M605.6 537.1h0M590.6 557.5h0M585.9 541.4h0M597.1 538.5h0M593.1 555.5h0M582.4 545.4h0M596.3 535.9h0M584.5 548.1h0M592.3 538.2h0M593.8 555.2h0M596.9 538.6h0M592.1 554.2h0M584.7 548.1h0M600.4 535.5h0M602.6 552.7h0M587.9 552.5h0M582.1 545.6h0M597.4 538.4h0M583.3 540.1h0M596.6 535.1h0M588.7 558.8h0M603.6 552.2h0M585.4 545.6h0M584.4 539.5h0M585.6 549.7h0M590.7 538.5h0M587.9 553.3h0M583.7 544.1h0M587.5 536.2h0M591.1 555.5h0M606.7 533.7h0M609.5 548.6h0M603.9 553.6h0M600.1 538.8h0M607.5 532.8h0M608.2 539.7h0M608.3 543.5h0M609.5 544.4h0M610.4 544.2h0M608.0 550.9h0M600.5 534.9h0M606.6 536.7h0M607.6 547.0h0M608.4 539.6h0M598.2 553.7h0M607.8 550.1h0M605.7 533.4h0M607.7 540.1h0M610.2 544.2h0M606.7 548.8h0M601.8 534.3h0M601.4 551.6h0M609.3 540.1h0M604.9 534.5h0M600.5 536.1h0M605.0 552.0h0M608.1 545.2h0M602.2 552.3h0M600.5 553.5h0M600.6 538.2h0M598.2 538.2h0M606.2 533.3h0M599.6 553.4h0M608.1 552.8h0M605.4 551.1h0M607.9 536.4h0M609.1 538.5h0M600.1 536.8h0M606.5 553.2h0M601.9 532.4h0M608.5 547.5h0M601.2 536.8h0M607.8 535.9h0M604.3 552.4h0M598.8 536.8h0M609.0 547.4h0M601.4 554.8h0M608.8 540.5h0M604.8 536.1h0M606.6 538.2h0M602.1 532.4h0M602.8 532.4h0M607.1 549.9h0M606.6 551.4h0M603.8 552.7h0M608.2 542.1h0M607.7 540.3h0M603.0 552.3h0M609.9 537.0h0M607.1 548.1h0M605.2 535.0h0M608.8 544.0h0M600.9 537.2h0M599.3 539.1h0M603.8 535.5h0M606.2 536.5h0M605.7 551.9h0M599.7 535.3h0M597.4 538.6h0M609.7 543.0h0M607.2 538.4h0M597.2 537.2h0M598.3 537.0h0M606.7 534.2h0M607.6 552.0h0M598.7 538.6h0M606.5 537.3h0M599.7 537.6h0M608.7 534.6h0M603.7 552.8h0M601.6 537.1h0M605.6 533.4h0M600.1 538.0h0M605.0 535.9h0M608.5 541.1h0M607.0 535.9h0M598.3 554.0h0M600.0 537.4h0M607.1 538.6h0M604.1 552.9h0M599.3 537.0h0M601.4 553.1h0M607.2 549.0h0M603.1 535.3h0M600.1 534.7h0M606.7 551.5h0M609.3 543.3h0M608.7 542.4h0M600.3 533.5h0M600.3 536.7h0M600.5 536.7h0M608.0 548.8h0M608.5 541.7h0M604.8 535.8h0M602.5 535.0h0M601.7 536.1h0M605.8 550.3h0M604.5 552.0h0M606.2 550.7h0M608.1 540.6h0M604.9 553.5h0M603.7 552.9h0M606.3 551.4h0M603.4 536.2h0M603.1 554.0h0M601.6 554.3h0M603.2 553.4h0M604.5 535.9h0M607.0 538.4h0M601.5 555.4h0M608.8 548.8h0M608.1 546.4h0M608.3 539.5h0M607.3 547.5h0M603.0 535.9h0M605.9 533.6h0M600.6 537.4h0M599.6 553.9h0M603.9 552.3h0M608.8 543.2h0M606.6 550.2h0M603.4 553.7h0M601.6 534.3h0M607.2 551.5h0M610.1 539.0h0M599.9 552.6h0M608.5 547.1h0M600.3 537.9h0M608.1 551.4h0M604.2 552.1h0M602.9 552.1h0M605.6 537.2h0M610.3 542.9h0M600.9 537.1h0M601.7 536.6h0M598.8 555.2h0M607.0 548.3h0M606.8 533.0h0M602.2 552.1h0M602.8 536.4h0M598.2 538.0h0M600.9 536.9h0M602.3 536.5h0M603.7 533.7h0M603.6 552.2h0M607.4 538.9h0M600.2 552.9h0M609.3 535.4h0M603.1 534.3h0M608.1 539.4h0M608.2 545.6h0M600.2 555.2h0M603.6 553.5h0M608.2 548.2h0M600.0 539.1h0M608.9 538.5h0M608.2 548.1h0M606.6 536.6h0M608.0 545.6h0M607.7 549.8h0M607.4 538.2h0M598.8 535.9h0M605.0 534.1h0M600.0 552.9h0M601.2 537.0h0M610.4 540.5h0M609.1 543.4h0M608.6 541.5h0M599.0 553.1h0M606.3 536.1h0M608.1 547.6h0M603.0 552.5h0M606.8 553.5h0M599.1 538.7h0M600.7 537.6h0M606.6 550.2h0M600.9 533.5h0M602.6 552.8h0M604.8 555.0h0M608.5 543.4h0M607.4 533.5h0M607.9 542.5h0M601.3 534.3h0M602.7 553.9h0M605.1 536.1h0M600.5 536.6h0M608.8 546.2h0M607.5 537.5h0M608.4 546.0h0M599.7 554.2h0M608.4 537.8h0M600.2 537.4h0M604.0 533.7h0M600.7 552.8h0M603.5 533.9h0M609.8 543.8h0M605.3 536.6h0M600.8 551.6h0M604.6 551.9h0M610.0 537.7h0M607.8 544.6h0M605.6 551.5h0M608.6 542.2h0M604.1 532.1h0M597.4 535.8h0M606.7 534.5h0M607.7 538.1h0M602.7 535.4h0M608.3 541.0h0M606.7 538.2h0M606.4 536.0h0M608.3 540.9h0M609.7 543.5h0M602.4 553.7h0M607.9 547.0h0M602.0 536.2h0M609.3 539.7h0M600.5 552.9h0M608.0 545.0h0M608.0 538.6h0M610.7 541.3h0M602.0 535.9h0M599.8 538.6h0M607.3 538.8h0M608.7 541.7h0M606.5 551.3h0M604.8 534.8h0M609.0 542.6h0M599.5 532.7h0M609.7 547.8h0M608.4 538.9h0M609.8 546.8h0M608.6 542.5h0M603.5 535.1h0M607.5 550.3h0M606.3 549.6h0M599.6 537.3h0M604.0 552.2h0M601.9 536.2h0M608.0 541.5h0M607.2 534.2h0M596.5 536.5h0M607.0 549.5h0M601.1 536.8h0M605.2 553.6h0M599.3 538.4h0M658.9 549.4h0M643.1 544.9h0M655.3 551.4h0M644.5 539.3h0M660.9 545.6h0M651.4 536.3h0M644.5 550.9h0M645.9 538.1h0M643.4 545.5h0M643.2 538.2h0M658.4 548.3h0M656.0 553.6h0M641.5 549.1h0M659.1 550.0h0M644.5 545.8h0M646.2 539.7h0M644.8 542.1h0M656.0 550.9h0M643.5 544.9h0M656.4 552.0h0M647.4 539.2h0M650.5 554.1h0M658.5 548.1h0M644.9 539.7h0M640.4 546.0h0M647.0 537.8h0M643.7 544.6h0M643.2 547.6h0M647.8 539.2h0M652.2 534.4h0M659.9 541.5h0M658.8 547.0h0M644.7 543.0h0M641.7 543.3h0M644.1 544.7h0M649.0 553.3h0M645.9 552.5h0M652.5 553.5h0M650.6 553.4h0M645.4 549.4h0M651.7 553.5h0M658.1 548.7h0M644.1 543.7h0M647.3 533.9h0M659.8 546.1h0M645.3 549.2h0M649.8 537.9h0M648.8 538.1h0M646.9 540.0h0M658.5 554.2h0M646.4 550.6h0M643.5 545.6h0M644.1 546.2h0M660.1 539.8h0M658.1 553.8h0M645.5 541.0h0M644.3 542.5h0M650.0 552.2h0M642.4 550.2h0M645.8 549.7h0M658.9 543.5h0M647.4 553.4h0M646.6 551.7h0M648.0 537.0h0M650.9 537.3h0M659.6 548.9h0M646.6 551.7h0M645.3 541.1h0M659.6 541.1h0M648.2 552.7h0M641.1 541.5h0M655.9 551.6h0M646.8 536.9h0M644.4 545.8h0M656.9 536.2h0M660.1 550.5h0M662.5 540.5h0M651.1 534.2h0M657.6 551.7h0M648.1 534.2h0M652.9 537.1h0M650.9 537.5h0M655.9 551.8h0M647.2 552.1h0M658.6 552.0h0M650.4 537.6h0M660.4 547.2h0M644.9 542.2h0M647.8 551.2h0M652.8 553.3h0M643.9 543.9h0M653.7 551.7h0M658.0 550.1h0M644.9 540.0h0M645.3 552.8h0M655.1 552.7h0M643.5 544.3h0M645.5 549.2h0M660.8 544.8h0M643.0 543.1h0M644.9 540.8h0M642.2 542.1h0M651.5 555.5h0M659.5 549.3h0M644.3 550.3h0M642.7 548.1h0M655.9 550.6h0M651.5 553.3h0M659.4 554.5h0M656.1 550.9h0M646.7 551.7h0M651.6 554.1h0M656.5 550.8h0M647.1 550.8h0M645.8 549.3h0M643.2 540.6h0M648.2 539.0h0M645.5 551.1h0M643.2 548.0h0M645.8 539.7h0M661.3 540.5h0M646.6 538.8h0M643.8 539.5h0M658.1 549.0h0M656.3 553.0h0M647.1 553.4h0M644.0 546.2h0M644.7 552.1h0M645.4 549.0h0M661.9 549.0h0M644.3 548.4h0M649.8 537.8h0M656.8 551.3h0M653.2 537.2h0M645.7 541.8h0M646.6 551.2h0M647.6 551.9h0M660.3 541.9h0M646.6 553.5h0M653.5 552.1h0M660.1 547.7h0M648.5 538.2h0M641.8 542.6h0M656.7 550.4h0M643.9 544.3h0M655.7 536.4h0M647.2 538.4h0M658.2 552.0h0M648.9 538.2h0M652.9 552.5h0M659.0 547.7h0M653.2 553.0h0M649.0 557.3h0M649.9 552.3h0M654.2 553.0h0M659.3 543.4h0M644.3 542.4h0M653.5 552.3h0M660.3 544.4h0M645.7 554.0h0M653.0 555.1h0M644.9 547.8h0M650.5 552.3h0M643.9 544.6h0M648.3 551.6h0M652.4 554.0h0M643.6 538.5h0M663.0 540.4h0M643.9 549.8h0M640.8 545.6h0M643.9 544.7h0M645.3 542.2h0M653.0 536.4h0M648.3 551.9h0M649.8 552.0h0M645.3 542.3h0M657.6 550.3h0M655.3 536.0h0M643.1 547.0h0M642.9 545.3h0M648.2 552.8h0M655.4 551.4h0M648.4 538.5h0M659.1 551.6h0M656.7 535.6h0M654.4 552.8h0M661.1 551.2h0M643.9 543.0h0M648.8 537.8h0M659.9 542.9h0M652.9 534.9h0M647.0 536.7h0M649.1 552.0h0M650.1 538.1h0M644.8 549.3h0M653.4 555.1h0M643.8 548.9h0M651.7 537.2h0M659.5 547.6h0M656.2 553.2h0M642.3 544.0h0M657.1 536.2h0M645.9 538.5h0M660.6 542.8h0M650.9 536.3h0M652.3 552.0h0M644.8 548.2h0M650.6 535.1h0M643.5 545.2h0M644.0 551.7h0M651.1 537.3h0M644.6 542.4h0M658.6 548.7h0M644.5 545.4h0M649.2 537.9h0M657.4 535.1h0M649.3 552.2h0M644.6 544.6h0M658.3 549.3h0M641.9 545.6h0M654.2 552.9h0M644.1 544.4h0M660.3 548.8h0M649.8 533.2h0M659.2 549.5h0M649.4 538.0h0M647.3 552.1h0M644.0 539.8h0M651.1 554.4h0M652.9 556.3h0M661.7 544.0h0M659.8 542.6h0M659.2 537.1h0M659.2 544.9h0M647.2 539.2h0M645.7 538.5h0M642.1 543.0h0M661.9 544.3h0M657.1 549.8h0M648.4 537.7h0M645.4 540.4h0M646.1 541.2h0M644.6 545.2h0M647.1 538.7h0M648.1 538.6h0M659.9 545.6h0M657.5 555.2h0M651.3 553.4h0M659.8 542.1h0M660.8 543.2h0M651.2 537.8h0M661.4 546.1h0M642.6 545.8h0M657.5 550.0h0M643.3 543.7h0M643.7 544.4h0M654.9 535.5h0M647.0 540.2h0M644.5 544.5h0M645.3 549.6h0M649.9 538.1h0M655.4 553.4h0M640.0 543.2h0M646.0 550.3h0M652.7 552.1h0M663.3 544.7h0M659.5 547.2h0M659.6 549.7h0M659.0 542.8h0M657.7 550.9h0M645.4 539.8h0M659.9 543.7h0M655.7 552.7h0M661.0 541.7h0M662.5 543.8h0M650.4 537.4h0M659.6 539.1h0M653.1 551.9h0M661.0 544.1h0M642.3 542.0h0M656.7 550.2h0M659.0 545.6h0M646.4 539.3h0M660.2 541.3h0M654.8 551.3h0M661.9 543.3h0M643.7 553.2h0M655.2 552.5h0M659.7 545.2h0M656.3 554.2h0M663.1 548.1h0M653.8 552.4h0M648.7 551.9h0M645.0 541.8h0M647.4 551.2h0M644.8 543.0h0M648.9 551.7h0M652.4 537.6h0M658.0 548.5h0M648.6 552.5h0M645.0 542.1h0M642.8 545.8h0M644.3 549.2h0M648.7 537.0h0M651.7 536.0h0M645.2 553.5h0M652.7 551.9h0M651.5 533.6h0M643.1 540.8h0M650.6 537.9h0M660.0 541.3h0M650.2 537.3h0M660.7 542.0h0M650.4 552.5h0M656.7 551.5h0M658.8 546.7h0M646.3 551.6h0M643.7 550.1h0M648.1 551.3h0M659.3 543.9h0M657.0 550.4h0M646.9 551.0h0M646.1 541.1h0M653.6 552.5h0M661.9 538.1h0M652.1 536.1h0M642.2 548.3h0M651.6 536.9h0M663.2 545.3h0M655.0 535.8h0M643.9 543.9h0M645.1 541.1h0M645.7 538.3h0M649.2 551.7h0M644.2 546.1h0M643.5 549.6h0M651.5 538.0h0M648.9 556.3h0M641.8 544.7h0M644.3 544.6h0M659.7 541.4h0M642.7 543.8h0M652.6 552.2h0M647.8 539.1h0M643.1 544.7h0M643.7 551.3h0M646.0 550.3h0M646.0 551.5h0M654.8 536.4h0M660.0 540.2h0M654.4 553.7h0M656.9 551.7h0M660.3 541.2h0M645.1 551.6h0M652.8 553.5h0M660.5 540.3h0M654.0 551.7h0M648.9 535.6h0M652.7 537.3h0M653.0 556.2h0M661.4 546.2h0M650.0 556.4h0M651.7 553.8h0M651.4 537.7h0M644.8 550.8h0M643.8 542.7h0M644.9 550.2h0M644.8 555.6h0M646.8 539.3h0M646.1 539.6h0M657.1 536.6h0M649.0 551.6h0M657.1 553.7h0M649.7 537.0h0M649.5 553.8h0M647.7 539.3h0M646.4 550.8h0M661.2 544.1h0M651.4 535.9h0M660.0 543.9h0M662.8 549.7h0M654.1 536.2h0M644.1 546.9h0M660.3 542.2h0M648.6 538.4h0M652.8 553.0h0M659.0 543.8h0M645.6 540.4h0M650.9 553.0h0M661.4 541.3h0M651.6 552.4h0M643.7 548.7h0M645.0 541.3h0M654.4 552.6h0M659.3 544.3h0M645.1 541.8h0M642.4 546.0h0M646.6 550.2h0M661.8 541.1h0M645.2 542.7h0M644.1 551.4h0M652.9 552.5h0M660.4 545.3h0M661.3 540.5h0M644.9 539.9h0M654.9 535.8h0M656.6 550.1h0M643.9 544.8h0M648.0 536.1h0M649.0 538.4h0M659.6 545.2h0M660.1 545.0h0M643.3 551.3h0M645.6 548.8h0M643.0 546.2h0M651.5 538.0h0M651.5 552.2h0M655.7 551.2h0M654.8 552.7h0M647.0 552.7h0M645.6 539.7h0M658.7 551.0h0M655.9 536.2h0M653.7 552.1h0M649.2 537.1h0M643.5 540.0h0M655.6 552.3h0M643.2 541.7h0M644.4 547.8h0M653.6 551.8h0M651.5 537.2h0M654.4 555.0h0M641.3 545.7h0M652.7 537.4h0M646.4 551.2h0M646.6 551.4h0M642.9 541.4h0M660.7 539.5h0M653.1 553.1h0M644.2 539.3h0M660.7 540.0h0M643.3 548.7h0M639.2 544.8h0M657.1 549.9h0M655.8 553.1h0M661.2 540.2h0M644.0 544.7h0M650.9 552.6h0M644.4 543.5h0M660.5 550.3h0M650.6 552.0h0M641.2 541.3h0M639.7 542.5h0M642.7 547.9h0M662.9 546.1h0M648.3 538.9h0M644.8 541.2h0M645.7 539.5h0M652.9 555.4h0M652.4 552.6h0M660.7 545.6h0M646.4 552.1h0M655.2 554.2h0M649.8 535.7h0M656.4 552.3h0M642.8 543.5h0M644.6 542.5h0M641.0 545.0h0M643.7 548.6h0M658.6 535.9h0M659.7 550.4h0M647.0 538.5h0M646.9 552.5h0M643.4 548.1h0M650.2 532.9h0M658.0 549.3h0M649.5 552.1h0M657.3 551.4h0M657.4 550.0h0M645.9 538.7h0M646.7 539.2h0M643.6 542.9h0M654.2 552.0h0M651.0 553.3h0M646.6 536.3h0M644.0 539.3h0M658.4 547.8h0M658.3 536.6h0M661.0 544.5h0M643.7 547.3h0M661.6 543.3h0M649.5 536.5h0M646.6 540.5h0M646.5 551.0h0M649.3 555.8h0M647.1 551.5h0M646.8 540.4h0M643.7 543.4h0M645.0 541.6h0M660.1 541.5h0M642.8 544.8h0M655.8 551.1h0M648.1 536.3h0M657.6 552.8h0M659.6 539.8h0M646.7 538.4h0M652.6 553.9h0M644.1 542.7h0M645.4 548.8h0M657.2 549.8h0M654.4 553.7h0M660.1 541.4h0M643.9 544.9h0M651.4 557.2h0M646.4 539.8h0M649.7 557.3h0M653.0 553.7h0M650.6 556.2h0M655.9 551.4h0M652.6 536.6h0M645.3 549.1h0M644.5 546.3h0M644.8 542.0h0M643.4 550.2h0M658.0 549.7h0M643.8 550.3h0M658.8 537.4h0M659.3 537.7h0M661.0 538.2h0M649.0 538.6h0M658.0 548.5h0M654.2 535.5h0M648.4 538.9h0M659.3 545.9h0M642.0 547.9h0M646.5 540.7h0M656.6 551.7h0M647.9 551.1h0M642.8 543.4h0M656.0 551.6h0M652.0 552.2h0M645.8 540.7h0M646.4 552.5h0M645.2 542.3h0M649.0 554.5h0M643.2 549.5h0M653.4 552.4h0M644.4 548.0h0M652.9 552.1h0M659.2 543.9h0M649.8 552.0h0M659.1 546.7h0M643.5 544.0h0M658.1 548.3h0M659.5 545.9h0M640.9 550.4h0M645.9 551.7h0M659.9 542.2h0M646.4 538.5h0M646.6 539.7h0M660.5 542.2h0M644.5 542.5h0M659.0 548.7h0M645.3 537.5h0M653.4 552.8h0M663.0 543.5h0M644.3 543.1h0M644.8 551.3h0M644.7 545.8h0M642.1 548.1h0M647.7 555.7h0M648.8 553.1h0M645.4 541.9h0M651.7 553.2h0M649.6 554.2h0M659.1 547.3h0M653.4 537.0h0M648.3 557.0h0M643.5 546.7h0M644.8 542.4h0M650.6 537.9h0M651.7 537.8h0M644.9 540.0h0M654.4 535.0h0M645.2 551.2h0M644.3 543.1h0M657.2 551.7h0M642.8 539.2h0M659.9 543.0h0M650.6 554.6h0M648.3 535.7h0M661.3 548.6h0M661.6 547.3h0M660.4 539.6h0M660.1 549.1h0M646.1 549.6h0M646.4 550.3h0M646.8 550.5h0M662.1 540.5h0M649.9 552.3h0M644.3 547.8h0M655.3 551.5h0M652.0 552.4h0M660.1 542.9h0M659.1 543.4h0M650.4 552.4h0M654.7 552.7h0M645.3 548.5h0M651.1 535.7h0M660.1 550.1h0M654.0 554.6h0M651.3 537.4h0M646.6 539.2h0M659.5 544.1h0M659.9 537.2h0M658.8 538.0h0M660.3 541.5h0M659.0 542.5h0M659.6 542.9h0M660.1 540.7h0M659.4 543.0h0M659.0 537.1h0M661.0 541.6h0M659.4 544.9h0M660.0 540.8h0M655.8 534.2h0M651.6 536.2h0M653.4 536.5h0M651.3 534.3h0M660.7 534.4h0M660.4 539.3h0M659.2 544.2h0M659.9 537.7h0M660.7 542.7h0M660.6 538.6h0M659.9 538.7h0M658.0 536.6h0M658.3 535.8h0M659.9 540.5h0M657.7 536.8h0M656.5 535.9h0M659.4 541.8h0M661.1 539.6h0M662.2 541.1h0M661.2 540.5h0M653.7 535.5h0M659.8 540.8h0M657.9 533.8h0M653.9 534.7h0M657.3 535.6h0M653.9 534.7h0M655.2 535.7h0M652.3 535.2h0M653.9 535.8h0M657.1 536.4h0M652.8 537.1h0M659.6 539.4h0M659.6 538.3h0M656.1 534.4h0M653.1 536.6h0M659.8 542.5h0M651.3 535.5h0M660.4 540.9h0M651.5 535.8h0M659.4 537.7h0M653.2 536.1h0M661.0 538.8h0M656.9 533.5h0M655.2 536.0h0M657.1 536.7h0M660.2 538.3h0M655.7 535.2h0M650.4 537.2h0M662.0 540.1h0M658.9 537.1h0M655.8 535.8h0M659.5 535.1h0M651.9 536.9h0M653.8 533.7h0M650.8 534.9h0M661.2 540.3h0M662.3 539.9h0M652.6 537.7h0M652.4 538.0h0M655.2 535.8h0M659.8 543.1h0M653.3 535.7h0M661.0 543.2h0M654.8 535.5h0M651.9 537.5h0M659.2 536.7h0M649.5 537.6h0M660.2 539.0h0M658.3 535.4h0M652.7 533.8h0M649.5 537.0h0M652.9 536.5h0M658.1 534.4h0M650.4 538.3h0M659.9 540.5h0M657.9 535.2h0M653.3 536.8h0M658.0 535.0h0M655.7 534.9h0M657.4 536.6h0M659.9 541.8h0M657.4 535.6h0M658.7 543.0h0M656.8 535.1h0M656.5 535.9h0M653.2 535.2h0M659.8 542.2h0M654.8 535.5h0M659.7 544.0h0M652.4 538.1h0M588.0 590.1h0M601.4 597.7h0M597.0 598.3h0M586.6 595.1h0M597.2 582.8h0M591.7 585.5h0M608.5 589.0h0M587.2 584.6h0M606.4 584.9h0M605.5 586.7h0M603.5 584.7h0M598.4 584.2h0M599.2 600.2h0M587.7 594.9h0M606.1 587.8h0M593.5 600.1h0M604.4 601.4h0M600.7 599.1h0M587.3 595.7h0M606.6 591.4h0M609.7 586.8h0M586.5 596.0h0M599.5 581.7h0M591.7 599.4h0M606.8 589.4h0M586.8 588.4h0M591.8 583.2h0M588.8 594.9h0M586.1 588.2h0M588.4 595.4h0M605.5 587.9h0M588.8 588.0h0M593.7 598.2h0M612.1 587.5h0M594.9 598.7h0M581.8 588.8h0M586.0 596.6h0M590.2 597.4h0M604.0 596.4h0M604.5 585.4h0M600.7 597.7h0M602.1 585.0h0M605.9 586.4h0M585.4 587.9h0M604.4 595.6h0M597.3 601.2h0M602.7 584.9h0M581.3 594.2h0M599.4 597.6h0M591.5 597.7h0M602.7 581.2h0M587.4 587.3h0M599.7 597.9h0M587.5 591.2h0M589.7 581.3h0M606.0 587.0h0M587.4 592.7h0M595.2 581.4h0M589.9 597.5h0M594.8 598.2h0M603.8 585.0h0M608.8 584.3h0M606.2 594.8h0M605.5 587.6h0M597.9 598.6h0M586.7 595.1h0M608.5 590.5h0M587.7 594.9h0M586.2 593.3h0M599.5 598.6h0M609.1 585.2h0M584.6 584.9h0M597.7 599.2h0M602.3 585.3h0M593.2 598.6h0M586.5 592.4h0M600.0 598.3h0M590.4 596.8h0M589.3 597.9h0M590.7 586.5h0M599.4 602.8h0M585.0 592.0h0M606.0 589.0h0M589.0 598.9h0M594.8 583.0h0M587.3 588.2h0M611.7 589.5h0M585.4 591.1h0M605.5 594.3h0M601.9 597.6h0M611.3 590.3h0M590.9 585.9h0M599.9 597.5h0M607.1 588.9h0M590.4 583.0h0M608.2 588.6h0M606.4 593.3h0M594.2 583.2h0M605.2 584.0h0M599.3 599.4h0M599.7 582.9h0M584.7 588.9h0M586.8 593.5h0M587.2 595.7h0M605.6 596.3h0M585.7 587.9h0M609.5 595.3h0M609.5 596.7h0M588.7 587.7h0M595.6 583.5h0M606.0 588.9h0M605.0 587.3h0M605.2 594.3h0M591.8 598.7h0M588.0 599.4h0M600.4 581.9h0M588.4 586.8h0M605.5 593.6h0M606.3 580.8h0M607.5 594.6h0M609.1 590.0h0M584.1 590.7h0M596.8 583.5h0M606.8 589.6h0M602.6 599.1h0M608.3 587.4h0M604.2 586.2h0M598.2 583.3h0M589.4 584.8h0M604.4 594.7h0M600.9 600.7h0M591.2 597.4h0M587.1 593.3h0M600.8 597.1h0M599.7 602.7h0M585.7 597.5h0M601.9 584.8h0M603.9 583.8h0M604.8 596.0h0M585.7 591.2h0M600.0 597.8h0M603.5 585.0h0M603.1 597.0h0M587.1 592.1h0M594.1 584.2h0M605.1 584.8h0M593.0 600.7h0M607.8 593.2h0M591.7 597.3h0M585.3 587.5h0M603.2 596.4h0M603.5 585.7h0M585.1 588.6h0M588.7 586.1h0M596.2 584.2h0M585.0 593.1h0M588.4 588.3h0M601.2 584.7h0M593.4 599.9h0M602.1 598.9h0M597.7 599.6h0M592.3 597.9h0M587.1 589.9h0M598.1 598.0h0M597.5 600.5h0M596.0 599.8h0M585.3 595.8h0M588.5 584.8h0M589.8 586.7h0M606.7 592.2h0M594.1 582.7h0M584.8 590.2h0M609.6 589.9h0M584.6 592.5h0M598.1 582.4h0M599.9 601.1h0M601.8 583.1h0M586.7 592.3h0M589.3 587.1h0M597.1 583.7h0M586.0 591.2h0M589.0 586.6h0M599.2 598.2h0M608.0 590.2h0M586.8 593.9h0M611.0 588.3h0M588.5 594.7h0M605.0 586.7h0M593.8 599.2h0M606.4 592.7h0M607.4 593.9h0M611.0 587.4h0M605.8 587.1h0M611.6 595.1h0M591.8 585.6h0M584.9 598.6h0M608.0 592.7h0M605.9 592.1h0M606.0 591.9h0M608.6 587.2h0M607.1 592.3h0M588.0 594.8h0M604.3 585.3h0M601.1 597.2h0M602.6 585.3h0M585.9 590.5h0M605.6 581.8h0M601.3 584.1h0M587.9 596.9h0M598.0 601.4h0M608.3 584.5h0M595.3 599.8h0M607.5 596.6h0M596.6 581.6h0M608.0 587.3h0M606.6 590.8h0M596.2 598.3h0M601.5 584.6h0M595.4 600.6h0M604.6 586.0h0M597.1 598.1h0M596.6 583.1h0M594.2 583.7h0M589.6 597.1h0M592.1 597.9h0M604.9 581.4h0M589.9 585.4h0M596.2 584.4h0M599.0 598.5h0M591.6 586.0h0M590.5 586.4h0M599.1 599.3h0M606.3 588.2h0M591.1 598.4h0M605.3 597.7h0M586.6 594.8h0M608.6 593.9h0M594.7 584.4h0M597.7 582.5h0M593.8 584.8h0M589.8 598.3h0M587.9 589.6h0M586.6 594.0h0M596.0 599.4h0M594.5 581.6h0M603.2 579.9h0M587.8 591.1h0M605.5 600.3h0M605.5 586.8h0M592.1 584.2h0M593.3 601.1h0M603.9 596.2h0M605.7 583.9h0M589.5 586.7h0M608.5 592.7h0M584.7 589.7h0M587.9 597.0h0M603.7 595.5h0M589.7 582.5h0M591.0 601.0h0M589.8 581.8h0M599.0 584.3h0M599.9 600.0h0M607.4 591.9h0M586.7 593.0h0M607.2 590.9h0M599.9 584.6h0M586.3 591.1h0M604.9 597.0h0M598.6 581.0h0M595.9 584.0h0M603.3 585.3h0M599.5 599.1h0M587.4 587.7h0M597.0 581.3h0M586.9 583.5h0M594.5 599.7h0M590.2 597.7h0M583.1 593.3h0M589.7 586.2h0M588.8 586.8h0M582.5 587.4h0M607.7 584.3h0M608.3 598.3h0M603.9 596.9h0M587.6 584.3h0M591.2 585.6h0M591.5 585.1h0M610.0 592.1h0M587.9 596.9h0M600.8 597.5h0M607.0 584.8h0M604.3 584.0h0M604.0 583.3h0M602.1 599.2h0M592.7 584.6h0M584.3 590.8h0M609.3 592.2h0M612.0 587.8h0M598.9 598.3h0M594.5 599.6h0M601.3 601.5h0M604.9 595.9h0M596.4 584.4h0M586.5 589.2h0M596.7 598.2h0M609.2 589.9h0M607.3 588.5h0M591.4 585.4h0M600.1 584.1h0M585.2 593.9h0M590.9 585.8h0M606.3 586.6h0M601.7 581.9h0M595.4 598.8h0M598.0 584.1h0M604.0 581.3h0M603.4 601.4h0M607.2 587.0h0M604.4 599.0h0M605.2 582.8h0M605.1 595.4h0M586.3 592.2h0M605.2 584.4h0M600.5 600.7h0M588.2 597.1h0M586.6 596.3h0M589.0 586.0h0M592.7 598.0h0M583.2 592.8h0M608.8 596.2h0M592.9 598.4h0M605.4 593.6h0M606.5 585.8h0M582.4 593.0h0M589.0 599.4h0M601.0 598.4h0M608.6 596.6h0M597.9 584.2h0M607.1 591.5h0M606.2 590.6h0M596.2 583.2h0M594.9 584.5h0M608.5 591.1h0M589.8 597.4h0M597.3 601.0h0M587.4 587.3h0M605.2 585.6h0M587.3 590.8h0M608.3 594.1h0M588.7 585.2h0M591.2 597.6h0M584.1 592.3h0M609.2 594.7h0M588.6 595.5h0M593.5 597.8h0M607.3 588.5h0M603.9 599.9h0M593.8 601.2h0M606.4 585.4h0M600.0 598.8h0M588.4 599.9h0M588.7 587.3h0M587.7 592.5h0M600.5 584.4h0M585.5 594.1h0M592.6 584.8h0M586.6 586.5h0M607.4 593.6h0M607.7 595.3h0M593.2 598.5h0M603.4 596.5h0M603.1 596.5h0M591.2 585.7h0M596.6 583.8h0M606.2 596.5h0M604.4 586.1h0M605.9 596.5h0M595.9 598.2h0M587.7 594.0h0M588.6 588.5h0M606.5 587.1h0M603.9 585.5h0M591.3 586.0h0M607.9 588.9h0M599.0 599.4h0M602.8 599.1h0M591.7 597.7h0M595.5 599.3h0M587.8 597.7h0M598.6 599.6h0M586.9 596.5h0M584.4 590.6h0M587.6 592.4h0M599.3 583.2h0M597.1 599.1h0M590.0 598.4h0M606.1 593.5h0M607.7 598.2h0M608.7 586.7h0M599.7 598.0h0M600.5 584.1h0M587.9 590.1h0M589.6 596.8h0M583.5 592.3h0M589.4 596.1h0M590.3 596.8h0M594.0 598.5h0M605.2 584.2h0M593.0 583.6h0M602.2 585.3h0M599.8 597.9h0M605.2 593.9h0M606.2 588.6h0M608.3 589.9h0M594.6 583.3h0M592.0 597.8h0M586.7 597.1h0M583.6 588.1h0M604.6 595.1h0M593.5 584.3h0M596.2 599.6h0M588.2 594.2h0M599.1 599.0h0M595.4 598.2h0M584.4 591.0h0M600.1 583.3h0M585.9 586.4h0M587.4 592.2h0M595.4 583.3h0M601.4 582.3h0M606.3 589.8h0M595.0 600.8h0M608.1 586.4h0M605.3 597.8h0M592.0 598.0h0M606.6 588.8h0M587.1 587.9h0M586.3 594.9h0M601.5 596.9h0M608.5 585.4h0M606.1 588.4h0M604.9 585.4h0M599.5 584.0h0M607.2 593.3h0M604.0 595.5h0M586.8 593.0h0M606.3 588.3h0M607.4 593.8h0M611.5 588.5h0M585.6 598.6h0M600.1 580.4h0M591.8 597.9h0M606.3 590.5h0M589.9 596.8h0M609.6 593.9h0M606.3 593.8h0M608.1 593.7h0M590.0 586.9h0M604.3 597.7h0M590.7 582.7h0M595.0 584.2h0M595.0 601.9h0M590.3 596.5h0M602.0 583.0h0M590.4 585.1h0M593.0 585.0h0M589.9 584.1h0M594.0 581.3h0M594.0 598.5h0M595.9 584.3h0M609.6 592.3h0M599.9 597.8h0M598.3 584.0h0M606.7 595.0h0M609.5 594.5h0M606.8 589.9h0M599.0 601.1h0M596.8 584.3h0M592.4 599.2h0M588.3 597.0h0M606.2 593.1h0M600.5 599.3h0M608.0 595.7h0M605.5 594.8h0M599.6 597.6h0M603.7 597.5h0M603.3 596.1h0M594.1 599.9h0M592.0 583.8h0M604.4 596.9h0M594.8 582.7h0M592.8 585.2h0M593.2 584.7h0M598.6 597.8h0M589.1 585.8h0M609.1 585.5h0M586.0 598.5h0M600.8 597.4h0M600.0 597.9h0M590.3 596.8h0M596.0 598.6h0M587.3 589.4h0M598.9 598.9h0M593.4 597.8h0M596.9 599.0h0M606.5 585.5h0M605.7 592.6h0M593.4 598.8h0M587.4 595.1h0M601.4 584.3h0M589.8 587.2h0M592.2 597.7h0M606.1 595.2h0M609.3 591.2h0M598.9 581.9h0M603.7 597.2h0M604.9 586.1h0M586.1 593.2h0M597.6 584.2h0M601.3 584.1h0M584.6 591.1h0M588.2 589.2h0M603.4 582.1h0M585.3 593.2h0M597.4 599.5h0M607.8 588.2h0M588.1 589.5h0M606.9 595.6h0M609.2 584.0h0M587.6 584.6h0M591.0 583.0h0M599.0 597.9h0M587.4 588.1h0M583.4 587.8h0M596.6 598.5h0M594.8 598.8h0M605.9 587.2h0M588.5 595.1h0M589.3 597.4h0M596.4 584.3h0M607.0 588.6h0M610.3 590.9h0M606.1 591.7h0M582.8 587.4h0M592.7 582.6h0M592.0 584.5h0M603.6 583.5h0M591.3 584.6h0M592.7 581.7h0M595.9 582.0h0M599.9 599.1h0M599.6 597.6h0M584.2 594.6h0M597.1 599.2h0M599.0 598.6h0M587.7 584.0h0M606.1 590.0h0M588.5 598.8h0M588.0 587.2h0M587.7 591.3h0M585.8 585.7h0M588.4 588.7h0M590.5 585.0h0M600.1 583.7h0M590.6 598.2h0M590.3 598.2h0M585.9 592.6h0M587.8 592.7h0M606.5 583.1h0M585.1 592.3h0M611.1 593.2h0M598.3 597.9h0M608.0 595.6h0M596.5 598.1h0M587.1 593.7h0M596.6 584.0h0M595.7 599.1h0M602.0 583.5h0M607.2 591.2h0M599.7 600.3h0M604.7 586.2h0M586.9 592.9h0M608.4 597.2h0M606.1 588.4h0M602.1 580.7h0M587.8 588.6h0M589.5 597.5h0M587.3 592.7h0M603.8 585.7h0M592.3 598.8h0M587.2 589.3h0M601.7 597.0h0M592.9 584.5h0M601.8 596.7h0M598.4 583.8h0M605.3 582.1h0M592.4 585.5h0M596.6 584.2h0M585.3 596.7h0M605.9 598.9h0M608.4 590.6h0M606.8 591.8h0M590.6 586.1h0M604.6 582.4h0M593.9 599.3h0M596.8 599.7h0M599.7 598.7h0M605.2 594.8h0M606.9 589.5h0M583.7 592.0h0M592.2 597.8h0M588.3 588.6h0M607.3 589.3h0M597.2 584.0h0M587.1 593.8h0M607.4 586.9h0M604.3 599.4h0M604.1 585.2h0M589.7 585.2h0M609.0 586.9h0M586.6 590.6h0M593.1 584.1h0M608.2 585.8h0M587.5 591.5h0M592.8 597.9h0M595.6 583.4h0M601.4 580.9h0M600.8 583.5h0M600.4 598.5h0M593.0 583.9h0M603.7 600.0h0M587.3 591.9h0M585.1 595.2h0M590.3 583.7h0M587.4 589.1h0M608.0 589.0h0M605.2 595.9h0M599.5 600.5h0M590.9 600.1h0M589.1 597.0h0M605.3 595.4h0M599.4 583.5h0M603.0 596.6h0M608.1 594.7h0M606.2 588.3h0M608.5 596.9h0M585.0 592.2h0M607.7 590.4h0M587.0 591.3h0M586.9 592.5h0M588.7 587.8h0M586.9 594.7h0M594.1 599.2h0M606.7 597.2h0M608.6 591.2h0M598.5 583.7h0M584.1 585.0h0M602.6 583.7h0M587.4 593.5h0M590.2 601.8h0M595.7 584.0h0M607.9 590.8h0M601.2 581.5h0M606.0 593.7h0M605.1 597.2h0M588.6 596.7h0M589.2 599.0h0M607.5 591.4h0M596.4 583.5h0M608.0 585.9h0M589.7 596.1h0M584.7 593.0h0M590.5 596.7h0M601.6 584.8h0M588.2 594.6h0M591.9 601.2h0M603.2 582.5h0M601.9 601.2h0M595.6 584.5h0M587.1 595.7h0M593.3 598.5h0M606.5 588.1h0M606.6 594.6h0M587.3 587.1h0M604.0 598.4h0M587.2 583.3h0M604.6 585.4h0M587.7 595.3h0M588.9 585.4h0M608.9 594.4h0M602.5 598.1h0M586.0 586.3h0M588.5 587.5h0M604.5 594.8h0M605.3 587.0h0M587.7 594.5h0M607.0 587.4h0M587.4 589.2h0M602.4 597.6h0M599.1 583.4h0M590.6 586.6h0M595.9 581.9h0M606.6 592.4h0M601.6 597.1h0M599.6 580.6h0M597.9 582.9h0M596.5 584.2h0M606.3 593.6h0M590.6 597.4h0M586.6 588.8h0M602.1 597.2h0M589.7 597.6h0M597.3 584.3h0M604.1 586.2h0M590.9 600.1h0M584.2 592.0h0M589.1 587.3h0M608.7 589.7h0M610.4 591.7h0M605.3 585.9h0M597.0 584.0h0M587.1 593.1h0M659.7 601.2h0M644.9 599.5h0M653.9 602.6h0M661.2 591.6h0M653.9 585.5h0M642.2 589.5h0M647.0 598.6h0M652.8 600.7h0M655.0 585.6h0M651.8 585.0h0M649.4 600.3h0M652.5 583.6h0M642.8 591.0h0M658.9 584.4h0M646.1 586.8h0M655.2 585.2h0M655.9 586.0h0M658.8 598.3h0M652.4 583.6h0M661.9 588.0h0M643.9 595.0h0M660.1 601.1h0M647.3 586.1h0M661.3 592.3h0M637.8 589.8h0M657.8 599.0h0M659.0 587.9h0M654.4 585.7h0M659.2 588.3h0M661.7 590.8h0M656.1 584.3h0M646.2 600.9h0M644.5 586.2h0M655.7 602.3h0M648.3 584.1h0M658.6 585.6h0M648.3 599.3h0M650.8 582.3h0M643.1 595.0h0M645.6 584.6h0M660.0 586.4h0M650.0 584.5h0M643.8 596.0h0M645.2 602.5h0M648.3 584.8h0M641.5 592.3h0M643.9 594.4h0M659.3 589.7h0M660.3 590.7h0M660.8 597.9h0M650.1 599.8h0M643.2 587.5h0M657.4 586.1h0M647.5 599.2h0M656.2 600.6h0M644.9 597.0h0M646.4 597.6h0M664.2 592.5h0M661.4 590.7h0M655.5 581.2h0M646.8 584.9h0M649.6 585.1h0M659.4 597.5h0M653.3 600.1h0M661.2 593.6h0M648.9 599.4h0M660.2 589.7h0M659.2 589.7h0M661.3 598.0h0M654.5 585.5h0M644.5 588.3h0M660.3 590.6h0M657.6 598.7h0M656.9 584.6h0M661.3 594.2h0M662.1 602.3h0M649.4 585.3h0M660.5 591.6h0M653.6 584.9h0M656.0 603.9h0M645.6 599.3h0M656.1 586.3h0M646.5 599.9h0M645.9 587.3h0M648.7 600.2h0M660.5 596.8h0M661.8 596.4h0M661.8 589.4h0M650.2 583.1h0M660.5 597.6h0M638.2 593.0h0M663.9 597.9h0M641.3 590.2h0M662.6 589.3h0M650.7 583.3h0M647.4 583.6h0M657.9 587.4h0M643.6 592.5h0M653.9 602.0h0M652.7 584.3h0M660.7 584.2h0M655.3 600.8h0M643.2 594.2h0M666.0 590.1h0M652.8 585.6h0M643.1 592.4h0M647.9 599.2h0M666.3 594.3h0M654.2 599.9h0M658.9 585.7h0M663.0 596.1h0M659.2 600.0h0M648.7 601.8h0M642.1 594.8h0M654.3 601.1h0M656.2 586.3h0M657.0 586.4h0M646.2 598.5h0M649.8 585.0h0M660.3 596.6h0M646.7 586.5h0M652.0 599.9h0M642.8 591.2h0M650.1 600.7h0M643.1 591.4h0M647.2 599.9h0M648.9 601.9h0M663.6 601.0h0M660.5 588.3h0M643.5 595.3h0M663.4 591.0h0M644.7 585.9h0M643.4 589.5h0M650.7 585.1h0M643.9 591.4h0M651.2 600.1h0M647.7 586.0h0M643.9 589.4h0M648.3 604.1h0M658.7 587.7h0M645.9 586.0h0M649.2 599.2h0M657.8 588.1h0M660.4 598.4h0M655.2 583.7h0M658.3 598.9h0M642.5 596.7h0M647.6 583.5h0M646.1 586.5h0M643.8 589.7h0M663.4 595.9h0M646.8 585.5h0M660.5 596.0h0M650.1 601.7h0M648.3 582.4h0M649.1 600.2h0M659.3 588.0h0M660.1 586.8h0M662.2 593.1h0M661.9 595.9h0M657.6 600.1h0M646.3 597.1h0M649.2 600.0h0M661.7 594.3h0M644.8 585.9h0M653.9 583.6h0M663.0 596.4h0M649.0 600.1h0M660.2 591.0h0M659.6 585.2h0M648.1 584.1h0M656.9 600.6h0M650.7 600.6h0M643.1 598.7h0M660.1 588.1h0M644.8 585.7h0M647.9 599.5h0M658.1 599.8h0M644.8 587.0h0M645.0 596.4h0M651.4 603.8h0M661.5 596.3h0M658.7 586.5h0M658.8 588.7h0M643.4 595.5h0M651.9 601.2h0M647.1 584.9h0M652.3 585.0h0M659.5 590.2h0M645.5 596.4h0M659.1 588.2h0M652.5 584.7h0M654.7 585.0h0M646.7 598.0h0M656.5 585.7h0M644.6 595.2h0M645.7 597.2h0M655.8 583.6h0M641.9 599.5h0M649.8 582.0h0M664.2 593.0h0M645.4 584.4h0M662.2 594.6h0M652.4 585.1h0M655.3 600.9h0M662.7 593.6h0M661.3 602.2h0M641.8 590.8h0M665.7 598.1h0M649.9 599.5h0M650.7 584.2h0M661.6 600.7h0M643.8 587.9h0M644.5 588.6h0M653.4 585.7h0M641.8 588.8h0M661.3 590.7h0M662.9 590.2h0M661.1 589.6h0M647.1 603.7h0M645.7 585.3h0M641.5 593.1h0M649.6 584.6h0M647.3 585.6h0M643.8 598.8h0M651.7 585.4h0M660.9 591.2h0M652.7 584.7h0M656.7 586.2h0M656.7 583.6h0M641.9 590.9h0M644.9 595.7h0M649.8 599.5h0M660.7 591.2h0M664.1 595.7h0M658.6 584.6h0M659.2 602.1h0M644.5 586.8h0M660.2 600.2h0M657.0 601.6h0M664.4 592.1h0M641.7 593.9h0M638.6 587.9h0M640.2 588.8h0M651.4 600.6h0M659.6 596.7h0M643.7 593.1h0M661.7 594.2h0M651.5 601.2h0M662.1 589.1h0M650.9 583.0h0M657.7 585.9h0M656.3 600.8h0M643.7 590.4h0M661.0 597.1h0M650.2 601.7h0M657.5 599.4h0M660.4 596.0h0M652.3 584.4h0M644.5 597.3h0M647.4 585.9h0M661.4 593.2h0M652.4 601.2h0M653.5 584.0h0M644.0 595.0h0M648.2 582.0h0M660.3 597.4h0M643.4 591.6h0M656.0 586.7h0M647.9 599.7h0M643.7 591.9h0M646.9 599.1h0M655.3 603.9h0M662.5 594.5h0M650.2 583.1h0M661.0 592.7h0M644.3 586.1h0M658.3 598.8h0M654.8 585.2h0M658.6 588.3h0M649.4 600.0h0M649.4 599.9h0M651.8 600.0h0M647.0 598.0h0M659.8 597.3h0M653.9 582.7h0M643.3 591.0h0M660.3 595.5h0M658.7 587.8h0M644.9 585.4h0M644.9 588.1h0M645.9 582.9h0M643.6 588.9h0M642.7 594.1h0M649.2 599.5h0M660.0 596.2h0M655.2 602.8h0M645.8 598.3h0M656.3 585.9h0M653.8 599.9h0M644.8 597.4h0M648.7 599.2h0M657.1 599.9h0M644.9 588.4h0M658.5 585.6h0M653.6 600.5h0M660.5 591.6h0M641.9 595.4h0M665.1 590.3h0M660.6 594.2h0M655.5 601.0h0M656.6 600.6h0M656.1 583.2h0M659.9 589.3h0M643.4 596.5h0M642.1 594.5h0M642.0 589.8h0M657.0 599.3h0M643.7 595.9h0M652.6 584.4h0M662.6 589.7h0M645.1 596.1h0M653.0 600.1h0M643.3 592.9h0M653.7 600.1h0M650.4 585.1h0M653.0 600.7h0M642.9 589.6h0M638.1 593.0h0M649.0 585.7h0M656.9 587.0h0M653.0 601.5h0M656.0 600.1h0M641.0 584.8h0M660.8 593.3h0M660.0 600.6h0M645.3 596.1h0M659.5 601.0h0M650.2 584.2h0M660.3 598.6h0M647.0 584.0h0M650.6 602.2h0M651.6 585.2h0M656.2 600.7h0M650.5 599.8h0M646.5 598.6h0M662.1 585.7h0M646.2 598.7h0M656.3 601.3h0M661.7 587.0h0M660.5 591.5h0M644.2 587.8h0M654.8 600.8h0M666.1 591.6h0M649.3 585.6h0M645.2 587.5h0M662.1 591.7h0M640.1 590.3h0M659.1 597.4h0M654.0 600.8h0M647.5 598.2h0M654.0 584.3h0M644.9 596.3h0M662.5 597.9h0M662.3 594.4h0M644.1 588.3h0M660.4 585.3h0M658.3 586.6h0M651.9 584.6h0M648.1 598.6h0M660.0 598.7h0M655.3 583.5h0M656.2 584.2h0M653.6 601.1h0M651.0 599.9h0M645.4 586.0h0M658.1 598.8h0M661.4 592.2h0M664.3 595.1h0M641.4 587.0h0M652.8 603.8h0M648.6 600.8h0M658.2 588.3h0M663.1 592.1h0M647.0 586.4h0M641.9 596.0h0M657.0 599.2h0M644.9 596.0h0M642.9 593.0h0M642.0 594.7h0M658.1 585.5h0M662.8 591.2h0M649.3 600.1h0M651.0 602.1h0M664.3 594.8h0M640.6 593.8h0M644.2 587.9h0M648.4 599.0h0M643.3 590.9h0M656.6 585.5h0M656.0 599.7h0M643.1 592.8h0M652.3 602.5h0M646.6 582.1h0M661.0 596.2h0M663.4 596.7h0M655.3 586.0h0M647.5 601.1h0M663.5 596.2h0M658.1 587.0h0M660.0 591.0h0M657.7 598.6h0M662.2 594.6h0M658.1 588.1h0M662.7 594.8h0M643.5 597.7h0M642.9 595.9h0M639.2 592.2h0M657.1 586.9h0M663.2 598.3h0M652.4 601.5h0M648.5 600.4h0M651.1 583.5h0M660.9 593.9h0M664.7 591.1h0M650.8 583.4h0M665.4 593.2h0M643.8 596.3h0M650.5 600.0h0M652.1 583.9h0M644.0 595.4h0M661.2 592.4h0M646.1 585.7h0M661.3 593.0h0M662.6 596.6h0M656.0 585.8h0M652.4 585.5h0M654.9 600.6h0M648.6 599.4h0M647.5 585.8h0M655.6 583.9h0M643.2 595.3h0M660.6 594.0h0M665.9 595.8h0M650.5 583.2h0M660.5 599.6h0M660.4 585.6h0M641.8 593.9h0M646.2 587.0h0M660.4 594.5h0M645.1 603.2h0M657.8 587.6h0M651.5 583.6h0M655.3 602.2h0M661.2 595.5h0M659.6 589.0h0M646.3 587.0h0M655.8 584.8h0M661.4 592.0h0M655.6 585.9h0M648.7 601.6h0M657.5 585.4h0M642.9 600.7h0M643.9 594.4h0M642.8 588.1h0M655.6 584.5h0M659.3 598.7h0M661.7 596.0h0M643.1 585.7h0M646.0 600.2h0M643.1 592.4h0M642.0 594.2h0M643.8 593.8h0M656.6 583.6h0M659.0 587.1h0M639.5 597.4h0M656.1 599.8h0M645.4 587.7h0M646.5 597.9h0M660.3 598.0h0M648.7 600.1h0M656.5 583.8h0M654.7 583.7h0M656.6 600.0h0M645.3 586.7h0M654.9 602.1h0M646.8 598.1h0M662.0 600.0h0M657.8 602.1h0M660.8 591.5h0M660.5 590.2h0M658.6 599.3h0M653.2 583.0h0M653.1 600.5h0M660.3 595.7h0M666.2 593.7h0M643.7 586.6h0M650.7 585.2h0M644.3 589.1h0M644.3 586.3h0M642.9 594.0h0M654.2 583.5h0M643.9 587.3h0M648.6 585.7h0M648.2 599.2h0M665.5 591.9h0M647.1 599.0h0M643.8 588.6h0M662.2 595.0h0M656.9 599.4h0M651.4 584.8h0M642.4 592.5h0M641.3 586.5h0M655.7 600.9h0M644.0 596.6h0M657.3 587.3h0M652.7 585.5h0M647.1 586.4h0M659.8 588.9h0M656.9 583.4h0M641.2 592.8h0M653.0 581.5h0M648.4 584.0h0M645.5 596.3h0M644.5 595.5h0M657.2 586.6h0M649.0 601.0h0M653.0 583.2h0M650.5 604.1h0M660.9 603.9h0M651.2 583.8h0M654.6 604.1h0M659.1 601.3h0M645.3 598.0h0M661.6 586.1h0M660.6 590.4h0M659.9 596.6h0M647.1 586.5h0M643.3 593.4h0M646.1 598.2h0M640.0 596.0h0M663.0 591.9h0M648.2 598.8h0M648.2 599.0h0M661.2 600.6h0M644.3 595.0h0M659.1 587.6h0M654.8 600.3h0M652.1 602.4h0M641.0 591.0h0M650.4 584.3h0M662.5 593.5h0M649.2 599.1h0M653.1 585.6h0M642.9 587.5h0M653.7 584.2h0M640.7 593.7h0M655.6 586.5h0M647.1 602.1h0M642.9 590.8h0M645.0 597.1h0M648.8 585.7h0M652.4 584.2h0M659.2 598.6h0M657.3 599.6h0M664.7 590.1h0M657.0 585.6h0M646.2 586.1h0M650.8 585.4h0M644.3 582.8h0M648.8 584.5h0M658.5 584.4h0M654.3 601.1h0M644.5 594.4h0M658.0 586.7h0M644.7 597.2h0M651.2 599.9h0M662.0 593.2h0M661.6 585.2h0M662.9 595.3h0M644.0 597.5h0M654.5 585.3h0M660.5 593.7h0M664.0 594.2h0M655.5 584.4h0M652.5 603.0h0M653.5 581.0h0M660.7 587.1h0M655.8 600.8h0M660.4 587.6h0M648.3 583.7h0M645.1 596.8h0M657.4 586.4h0M650.2 583.7h0M660.6 591.1h0M649.4 601.9h0M660.7 593.2h0M658.5 585.0h0M658.6 583.3h0M657.5 599.0h0M650.4 584.5h0M660.8 590.9h0M649.3 584.2h0M655.0 585.7h0M643.2 595.1h0M645.0 584.9h0M646.1 587.1h0M661.2 592.5h0M659.0 588.3h0M642.9 594.6h0M658.5 599.8h0M647.8 585.7h0M648.7 600.9h0M657.6 584.0h0M650.9 582.8h0M658.9 598.6h0M642.8 595.5h0M658.5 601.3h0M660.7 601.3h0M660.4 596.4h0M643.2 588.4h0M657.4 599.4h0M657.6 587.3h0M652.1 603.3h0M644.7 585.9h0M657.0 599.4h0M658.3 601.4h0M662.6 595.4h0M661.2 591.4h0M651.0 581.9h0M650.1 584.8h0M660.3 591.6h0M656.6 585.1h0M639.1 595.6h0M654.7 580.5h0M652.8 600.1h0M651.0 584.4h0M658.2 602.2h0M659.9 583.9h0M661.2 591.0h0M661.3 589.2h0M647.8 599.7h0M663.2 592.4h0M645.8 587.4h0M647.4 586.0h0M659.3 597.6h0M652.8 584.9h0M651.6 600.7h0M659.1 589.3h0M660.8 588.2h0M660.6 599.8h0M647.2 598.0h0M654.5 601.7h0M661.7 597.2h0M651.5 601.0h0M643.7 595.8h0M644.0 591.5h0M642.5 597.5h0M642.5 596.1h0M647.9 599.0h0M643.2 590.7h0M659.2 599.4h0M656.7 581.3h0M643.1 589.9h0M657.3 600.9h0M651.6 585.4h0M658.7 588.8h0M663.8 593.3h0M656.6 586.8h0M659.0 598.2h0M660.7 594.9h0M651.8 582.6h0M651.7 603.0h0M646.6 602.4h0M647.4 583.5h0M649.7 580.2h0M663.5 590.5h0M658.9 599.0h0M644.2 596.7h0M652.8 584.7h0M664.9 594.2h0M652.9 585.4h0M649.3 599.2h0M643.7 590.1h0M644.8 595.2h0M651.0 584.0h0M642.9 593.9h0M652.9 600.1h0M641.2 589.0h0M657.1 586.9h0M649.9 582.9h0M655.5 586.3h0M640.9 593.5h0M651.3 601.9h0M664.5 589.1h0M651.8 599.9h0M645.5 586.6h0M656.3 599.5h0M642.3 591.9h0M644.3 585.8h0M660.1 590.0h0M659.0 584.5h0M641.8 595.2h0M644.2 589.8h0M645.7 587.1h0M645.4 587.8h0M645.4 596.2h0M652.1 583.2h0M658.6 587.4h0M661.0 589.8h0M651.2 602.4h0M650.9 600.4h0M650.8 581.5h0M649.7 601.6h0M649.6 585.4h0M643.8 587.7h0M663.0 595.3h0M658.0 586.8h0M651.9 585.4h0M651.7 584.8h0M645.0 587.1h0M655.7 583.7h0M654.3 585.8h0M651.4 583.9h0M657.1 600.4h0M645.4 597.7h0M645.7 599.6h0M643.6 591.3h0M649.8 599.5h0M640.7 596.2h0M641.2 592.1h0M661.2 588.7h0M661.0 593.4h0M641.0 588.8h0M657.2 599.2h0M643.6 585.1h0M662.8 587.0h0M643.2 591.4h0M659.5 587.6h0M661.9 587.5h0M657.9 598.7h0M663.2 599.2h0M651.3 583.4h0" stroke="#2b4ea6" stroke-width="1.25" stroke-linecap="round" fill="none"/></g>
<use href="#c1" y="138"/>
<path d="M598.3 795.1V889.4M626.4 795.1V889.4M654.4 795.1V889.4M570.2 818.7H682.5M570.2 842.2H682.5M570.2 865.8H682.5" stroke="#ebebeb" stroke-width="0.8" fill="none"/><path d="M570.2 795.1V889.4H682.5V795.1" stroke="#dcdcdc" stroke-width="0.8" fill="none"/><path d="M569.7 795.1H683.0" stroke="#9a9a9a" stroke-width="0.9" fill="none"/><path d="M565.6 795.1h1.6M565.6 818.7h1.6M565.6 842.2h1.6M565.6 865.8h1.6M565.6 889.4h1.6M569.4 893.4h1.6M597.5 893.4h1.6M625.6 893.4h1.6M653.6 893.4h1.6M681.7 893.4h1.6" stroke="#777" stroke-width="2" fill="none" opacity="0.7"/><g fill="#2b4ea6"><ellipse cx="599.6" cy="820.5" rx="14.4" ry="12.8" transform="rotate(-8 599.6 820.5)"/><ellipse cx="654.1" cy="821.3" rx="13.8" ry="13.4" transform="rotate(30 654.1 821.3)"/><ellipse cx="597.7" cy="864.2" rx="13.6" ry="13.1" transform="rotate(30 597.7 864.2)"/><ellipse cx="652.2" cy="866.1" rx="14.7" ry="12.5" transform="rotate(-8 652.2 866.1)"/></g><path d="M615.7 803.0h0M577.3 827.1h0M596.2 832.7h0M593.9 809.2h0M581.2 820.0h0M605.5 800.3h0M612.8 814.1h0M617.3 821.6h0M593.9 797.1h0M574.8 826.7h0M585.9 831.1h0M610.5 807.2h0M598.8 802.6h0M611.5 833.3h0M578.0 827.8h0M607.4 831.1h0M606.4 836.8h0M583.9 814.8h0M604.4 805.6h0M580.1 813.0h0M611.1 827.6h0M579.3 815.4h0M614.8 825.6h0M584.1 821.5h0M615.0 821.4h0M608.6 811.2h0M590.0 803.8h0M612.9 826.7h0M588.1 833.3h0M592.4 807.9h0M603.0 807.7h0M584.0 821.5h0M599.7 807.3h0M594.1 832.4h0M621.5 811.2h0M612.0 812.1h0M611.2 806.0h0M582.2 828.4h0M592.5 809.6h0M580.8 834.1h0M611.3 828.0h0M588.8 806.8h0M616.2 806.1h0M614.0 809.4h0M610.3 808.1h0M614.7 830.9h0M592.8 832.0h0M623.6 831.8h0M608.6 829.9h0M584.6 812.3h0M590.6 809.6h0M603.8 808.4h0M614.2 814.5h0M579.9 815.4h0M606.9 805.5h0M613.8 817.6h0M618.4 814.8h0M621.2 833.2h0M599.4 808.5h0M613.4 814.3h0M610.5 830.6h0M595.4 832.4h0M607.5 836.2h0M612.0 803.5h0M599.4 806.4h0M586.9 834.4h0M586.0 837.4h0M602.2 843.2h0M596.0 806.8h0M580.6 823.6h0M587.5 811.8h0M610.9 828.4h0M581.2 816.0h0M600.5 834.8h0M583.7 821.4h0M587.7 815.1h0M607.0 833.2h0M615.4 820.4h0M588.8 809.1h0M596.4 801.7h0M620.6 821.8h0M620.5 822.0h0M587.6 811.4h0M598.1 807.8h0M607.6 830.3h0M598.1 832.6h0M617.7 826.2h0M584.8 834.0h0M586.6 827.3h0M615.4 815.0h0M614.1 804.5h0M592.8 809.3h0M599.1 804.5h0M585.5 807.6h0M583.3 814.4h0M611.9 809.5h0M591.5 835.7h0M600.2 805.4h0M593.2 805.5h0M590.0 836.1h0M586.2 826.6h0M588.3 811.9h0M607.4 832.6h0M591.1 809.9h0M572.6 826.4h0M604.9 807.0h0M612.5 816.1h0M611.5 805.0h0M588.7 812.7h0M613.1 822.5h0M609.6 837.6h0M602.7 805.1h0M620.8 820.3h0M575.3 812.5h0M593.3 833.3h0M613.9 823.2h0M591.3 806.5h0M587.7 814.8h0M603.0 807.4h0M608.0 836.8h0M596.1 837.2h0M615.1 818.5h0M596.7 833.1h0M610.9 830.9h0M580.6 808.5h0M604.9 806.9h0M594.3 807.3h0M611.0 809.2h0M613.9 825.0h0M617.0 813.2h0M580.6 817.5h0M607.5 809.4h0M586.4 812.6h0M592.7 809.4h0M584.7 829.1h0M586.7 830.8h0M597.4 833.9h0M597.3 807.6h0M591.2 807.3h0M610.7 835.5h0M594.0 806.3h0M608.9 833.0h0M614.3 813.0h0M623.6 823.8h0M578.7 819.4h0M597.6 806.9h0M586.8 799.0h0M585.1 818.8h0M600.7 841.9h0M585.9 814.2h0M587.4 811.7h0M616.2 823.9h0M590.0 831.1h0M612.0 804.0h0M614.4 817.4h0M603.3 835.3h0M618.1 827.7h0M601.3 835.0h0M589.8 829.7h0M615.6 824.9h0M604.4 837.6h0M614.6 823.1h0M611.8 825.7h0M594.0 804.8h0M584.4 823.5h0M607.2 837.4h0M597.3 805.5h0M614.7 816.6h0M580.0 825.1h0M592.7 838.8h0M596.1 834.4h0M605.8 831.7h0M612.2 825.9h0M622.6 817.6h0M580.0 821.6h0M610.6 829.2h0M590.7 808.2h0M599.7 835.8h0M608.0 830.4h0M612.4 831.7h0M599.6 837.8h0M593.8 832.1h0M583.3 818.8h0M615.5 827.3h0M622.4 826.4h0M576.7 810.5h0M598.6 802.6h0M608.8 829.9h0M613.9 833.8h0M614.2 825.4h0M586.5 807.4h0M586.0 814.0h0M596.0 804.0h0M615.6 826.9h0M609.1 808.2h0M581.9 829.2h0M614.5 821.3h0M610.6 836.6h0M601.7 803.2h0M605.4 808.5h0M605.1 804.1h0M623.5 823.9h0M621.2 823.2h0M612.7 827.4h0M616.4 828.5h0M596.4 833.5h0M588.1 829.8h0M600.9 805.8h0M608.4 831.7h0M616.6 827.2h0M579.8 819.4h0M613.7 833.8h0M582.5 817.6h0M584.9 823.6h0M605.7 841.4h0M584.7 826.3h0M616.5 826.2h0M572.9 818.0h0M619.1 823.8h0M595.4 800.9h0M604.0 837.0h0M590.4 831.6h0M612.5 824.1h0M608.9 829.2h0M584.8 806.6h0M591.2 804.9h0M593.6 832.5h0M591.7 831.4h0M613.7 824.8h0M591.1 830.5h0M585.6 823.5h0M596.7 832.9h0M585.0 813.4h0M614.0 820.6h0M584.6 830.5h0M612.6 807.8h0M613.9 815.7h0M594.0 808.5h0M587.5 813.2h0M619.1 830.3h0M583.8 818.9h0M590.2 836.8h0M585.0 826.7h0M610.6 828.3h0M587.1 831.1h0M582.6 819.4h0M586.3 831.5h0M608.5 808.6h0M615.1 836.7h0M609.6 830.5h0M594.3 832.3h0M592.4 837.5h0M605.6 834.6h0M593.0 834.0h0M587.9 810.5h0M607.3 806.4h0M616.3 820.7h0M612.8 808.1h0M619.1 818.7h0M585.9 824.8h0M615.6 837.6h0M584.8 820.0h0M591.8 834.2h0M613.6 824.4h0M607.3 832.6h0M585.1 824.6h0M587.1 829.3h0M583.8 832.7h0M597.3 807.0h0M593.1 809.7h0M613.2 825.0h0M613.8 824.6h0M604.6 800.7h0M593.3 837.8h0M586.2 818.0h0M595.4 807.6h0M610.5 807.2h0M586.0 809.6h0M581.3 832.3h0M597.3 797.9h0M588.1 827.9h0M592.5 808.9h0M591.9 832.9h0M614.2 829.9h0M583.5 823.6h0M608.1 804.9h0M600.0 832.7h0M614.7 821.1h0M613.4 818.6h0M606.0 804.2h0M585.9 818.4h0M590.9 810.5h0M613.2 811.2h0M617.2 810.0h0M585.8 816.9h0M573.6 828.3h0M592.1 833.9h0M615.3 815.6h0M614.8 814.2h0M585.8 825.1h0M624.7 828.0h0M612.5 827.3h0M608.0 834.5h0M613.7 814.2h0M592.0 809.9h0M613.9 803.8h0M615.2 812.2h0M606.6 805.3h0M610.4 811.4h0M619.6 826.7h0M593.3 807.5h0M610.8 832.9h0M585.3 811.5h0M582.1 823.4h0M580.1 831.1h0M595.3 845.0h0M609.5 807.3h0M602.3 836.4h0M593.9 808.0h0M598.1 833.3h0M603.3 803.2h0M596.7 804.7h0M580.1 823.0h0M590.1 810.9h0M604.8 839.5h0M608.7 810.4h0M601.4 808.5h0M605.3 840.3h0M584.1 816.8h0M583.5 814.6h0M612.5 825.3h0M586.0 823.5h0M610.4 810.8h0M593.3 836.4h0M589.4 811.5h0M584.1 808.5h0M611.3 828.5h0M611.6 811.5h0M586.7 825.3h0M592.2 802.5h0M578.2 806.5h0M611.6 828.3h0M595.0 832.2h0M610.6 829.7h0M585.9 821.5h0M589.9 835.7h0M578.8 805.9h0M586.0 810.1h0M603.3 805.4h0M616.5 812.9h0M607.6 834.1h0M597.3 807.0h0M588.2 813.4h0M594.8 841.6h0M610.8 835.4h0M612.9 834.2h0M603.4 832.9h0M603.4 840.3h0M584.5 809.7h0M593.3 807.9h0M586.1 818.6h0M580.4 823.3h0M611.3 811.4h0M600.2 804.4h0M589.7 831.6h0M602.3 805.7h0M617.3 820.8h0M586.6 826.0h0M591.3 832.9h0M613.6 820.2h0M589.2 803.8h0M619.1 826.8h0M590.0 830.1h0M607.0 807.7h0M600.7 832.7h0M586.9 828.3h0M614.1 805.8h0M614.4 816.2h0M584.5 819.6h0M610.1 811.2h0M602.5 839.8h0M591.0 811.2h0M611.1 834.8h0M586.4 824.9h0M611.8 829.5h0M596.3 833.9h0M580.0 816.4h0M605.6 833.2h0M589.0 812.3h0M620.9 821.1h0M621.6 823.0h0M611.1 828.7h0M613.7 813.4h0M597.4 807.1h0M583.4 830.7h0M589.9 836.9h0M583.7 826.1h0M589.1 803.7h0M613.9 829.2h0M593.3 807.7h0M614.7 806.5h0M613.6 819.5h0M583.4 813.5h0M606.6 809.8h0M604.7 808.3h0M585.0 814.8h0M619.3 833.3h0M609.3 829.5h0M605.7 806.7h0M613.3 821.4h0M608.6 830.5h0M595.0 836.5h0M611.6 811.8h0M623.1 819.0h0M613.1 818.4h0M603.8 802.3h0M595.9 805.2h0M590.8 804.9h0M601.5 807.4h0M581.3 827.0h0M608.6 831.0h0M590.8 808.9h0M596.2 808.8h0M612.8 824.5h0M588.3 811.5h0M623.0 828.5h0M577.9 822.1h0M614.6 837.0h0M587.9 807.1h0M585.6 818.9h0M593.9 834.5h0M613.5 813.9h0M604.9 831.4h0M605.9 806.7h0M597.1 800.6h0M594.1 836.0h0M586.7 826.5h0M613.0 809.5h0M589.5 832.1h0M582.6 816.8h0M591.4 810.4h0M591.7 835.9h0M583.1 827.2h0M595.7 809.1h0M601.3 804.5h0M606.5 836.2h0M607.3 808.2h0M586.8 830.0h0M593.9 835.8h0M595.4 835.0h0M612.0 832.3h0M595.6 807.6h0M583.2 826.8h0M584.5 824.2h0M593.7 836.1h0M616.3 833.0h0M601.7 833.2h0M592.3 835.2h0M612.6 810.3h0M612.2 815.1h0M597.9 833.9h0M596.8 804.2h0M617.0 816.4h0M603.3 835.6h0M604.7 798.0h0M611.2 827.9h0M576.1 822.9h0M599.3 841.5h0M614.6 825.6h0M614.0 831.5h0M595.9 836.7h0M596.0 807.0h0M614.3 812.7h0M611.7 827.0h0M586.9 828.9h0M614.1 817.8h0M605.2 835.6h0M588.9 837.7h0M616.3 815.9h0M593.1 809.8h0M614.9 837.8h0M602.7 834.3h0M613.8 823.4h0M595.0 833.2h0M609.4 809.1h0M613.0 817.2h0M611.7 801.9h0M614.4 839.6h0M611.3 837.9h0M614.7 832.1h0M584.9 819.9h0M598.6 808.5h0M596.4 835.5h0M599.6 804.1h0M603.8 834.6h0M606.2 833.8h0M612.9 833.9h0M610.5 829.6h0M583.6 824.4h0M596.9 801.1h0M614.4 818.3h0M577.4 825.8h0M594.9 809.2h0M587.0 833.1h0M589.7 812.1h0M605.4 803.5h0M583.8 813.1h0M606.1 808.0h0M620.1 821.3h0M613.1 823.6h0M602.8 836.3h0M612.5 810.1h0M613.5 827.3h0M618.2 815.1h0M622.8 831.0h0M616.7 820.9h0M596.9 807.8h0M608.1 833.2h0M594.6 832.9h0M608.0 831.3h0M601.1 805.7h0M584.8 827.3h0M611.9 814.0h0M579.2 823.4h0M592.5 835.5h0M596.7 832.9h0M618.4 825.5h0M608.5 833.4h0M620.9 822.5h0M609.3 840.2h0M595.1 809.3h0M576.1 809.6h0M583.0 825.1h0M613.9 820.3h0M611.8 809.4h0M592.3 831.4h0M614.0 807.3h0M591.8 810.5h0M575.1 824.0h0M613.4 819.6h0M602.7 837.6h0M613.1 810.2h0M616.8 807.5h0M619.1 811.6h0M611.0 811.7h0M613.3 829.9h0M602.7 804.6h0M604.2 836.4h0M612.6 808.8h0M588.6 829.5h0M586.7 837.6h0M588.0 828.7h0M578.1 823.0h0M612.8 811.4h0M591.9 806.1h0M600.0 832.9h0M587.5 810.9h0M621.0 820.6h0M597.1 806.6h0M604.4 806.5h0M586.0 826.5h0M586.8 814.7h0M605.2 806.8h0M586.3 816.6h0M598.7 807.7h0M610.2 807.3h0M616.7 820.4h0M603.8 807.7h0M608.2 801.9h0M591.7 837.4h0M586.3 826.5h0M615.4 822.5h0M586.8 826.1h0M605.4 808.7h0M585.1 822.3h0M594.7 808.4h0M583.1 813.6h0M620.2 828.2h0M588.1 834.2h0M583.5 803.7h0M595.7 832.4h0M580.7 810.5h0M590.0 830.1h0M597.0 806.6h0M610.6 809.5h0M618.6 827.1h0M603.4 806.2h0M588.7 812.5h0M590.3 804.3h0M582.8 829.8h0M616.6 805.7h0M613.4 809.1h0M614.5 823.7h0M598.5 835.0h0M614.9 818.3h0M581.7 815.3h0M605.3 833.7h0M612.7 805.9h0M585.6 812.6h0M615.7 823.8h0M589.9 808.5h0M592.2 842.4h0M598.1 796.7h0M590.5 806.2h0M582.2 829.0h0M587.1 826.4h0M584.0 807.6h0M623.5 815.1h0M588.4 809.6h0M586.8 802.3h0M581.0 821.0h0M608.8 807.3h0M616.3 811.1h0M600.6 805.5h0M583.2 810.3h0M585.9 820.9h0M614.7 829.8h0M588.7 811.2h0M576.9 810.4h0M598.9 832.8h0M585.1 830.6h0M594.5 801.9h0M590.1 830.9h0M584.7 822.2h0M591.6 838.3h0M600.7 832.7h0M595.8 805.9h0M613.4 821.0h0M583.6 816.3h0M588.9 806.3h0M596.5 833.9h0M614.9 823.6h0M586.6 811.8h0M575.7 824.1h0M616.4 836.1h0M587.6 828.6h0M609.8 834.7h0M609.5 805.9h0M615.5 819.7h0M596.4 834.2h0M600.9 803.2h0M585.8 813.1h0M616.9 818.2h0M593.4 834.3h0M600.7 800.1h0M616.6 820.7h0M590.1 829.7h0M581.6 828.4h0M597.8 808.0h0M609.3 811.4h0M602.9 804.8h0M609.2 834.0h0M618.2 824.5h0M619.5 820.6h0M610.3 839.1h0M603.9 835.3h0M617.5 821.8h0M598.6 802.7h0M588.8 805.7h0M609.4 811.6h0M595.6 832.2h0M578.1 829.4h0M579.8 815.7h0M582.0 812.3h0M606.5 807.2h0M591.6 809.5h0M580.8 831.4h0M604.6 835.8h0M605.8 831.6h0M581.3 806.6h0M599.2 803.4h0M589.3 836.5h0M592.6 831.1h0M626.2 823.3h0M605.1 804.9h0M599.8 807.9h0M614.4 807.6h0M607.7 830.1h0M600.3 834.0h0M620.2 829.1h0M610.5 807.4h0M618.1 823.9h0M577.1 820.6h0M615.2 809.9h0M618.8 814.8h0M595.9 838.3h0M613.8 826.7h0M612.8 823.2h0M611.3 827.1h0M591.8 832.3h0M590.4 811.3h0M583.7 818.7h0M603.5 836.3h0M617.2 821.9h0M603.9 807.7h0M610.5 811.0h0M581.0 817.3h0M615.8 807.9h0M603.3 799.6h0M606.1 807.8h0M592.3 833.5h0M614.6 824.6h0M585.0 825.8h0M615.4 815.6h0M616.0 832.6h0M598.2 839.1h0M612.1 810.5h0M594.3 805.9h0M613.8 829.3h0M601.2 834.5h0M601.9 806.3h0M586.7 830.5h0M603.1 836.8h0M582.4 830.0h0M606.6 808.6h0M618.2 824.0h0M583.9 831.3h0M592.5 806.2h0M584.1 825.6h0M582.7 823.8h0M613.4 825.3h0M590.4 808.0h0M594.2 803.3h0M582.4 810.4h0M576.5 823.6h0M622.1 820.9h0M593.8 808.6h0M578.0 815.0h0M591.7 833.6h0M597.9 807.1h0M622.5 823.6h0M594.5 808.0h0M612.7 816.5h0M585.6 813.2h0M596.1 834.5h0M606.9 808.0h0M611.8 814.0h0M612.3 804.8h0M608.0 834.2h0M590.7 808.5h0M619.0 820.6h0M611.0 828.1h0M583.1 822.3h0M607.1 830.5h0M616.3 825.9h0M579.2 819.7h0M618.6 809.2h0M593.9 807.5h0M584.5 804.6h0M603.6 806.9h0M608.9 807.3h0M591.7 803.2h0M587.8 802.8h0M598.4 802.9h0M591.5 842.3h0M621.6 820.7h0M574.5 825.4h0M590.9 833.0h0M597.6 832.6h0M584.1 816.8h0M581.4 822.9h0M586.0 819.8h0M594.3 834.5h0M623.5 813.6h0M595.0 837.4h0M609.6 811.6h0M610.6 827.5h0M581.2 815.4h0M581.3 818.1h0M600.8 808.2h0M600.5 840.0h0M606.7 835.4h0M619.2 829.9h0M602.7 837.6h0M581.8 808.6h0M585.8 827.4h0M599.2 835.7h0M616.5 803.2h0M584.1 810.3h0M610.9 834.2h0M616.2 802.4h0M599.8 836.6h0M586.5 830.5h0M587.0 808.4h0M574.8 822.6h0M585.3 811.3h0M605.4 834.7h0M587.2 832.1h0M585.7 831.1h0M584.3 829.7h0M606.4 832.4h0M601.0 834.4h0M605.6 835.2h0M594.6 832.4h0M596.4 805.0h0M613.4 805.0h0M603.9 808.2h0M606.3 809.2h0M596.7 806.9h0M617.1 818.9h0M585.0 827.3h0M617.7 829.7h0M607.3 807.1h0M587.3 813.7h0M595.8 838.9h0M580.9 826.0h0M616.9 835.3h0M582.1 805.0h0M597.8 841.3h0M616.9 823.0h0M585.9 827.0h0M595.3 806.7h0M585.3 822.6h0M614.4 808.1h0M613.5 820.6h0M582.5 830.4h0M613.5 814.7h0M582.8 834.6h0M604.0 835.6h0M587.0 826.8h0M598.0 807.4h0M596.7 805.9h0M597.5 835.4h0M612.6 827.6h0M613.9 819.6h0M613.6 821.2h0M592.7 835.8h0M608.3 830.8h0M589.8 804.5h0M614.5 825.3h0M607.7 809.6h0M604.4 807.8h0M582.1 821.9h0M595.8 806.8h0M595.4 809.0h0M602.2 807.0h0M582.1 823.0h0M582.2 805.5h0M611.3 813.6h0M617.9 814.9h0M614.9 814.5h0M581.0 809.2h0M595.6 837.0h0M585.3 819.5h0M615.8 813.5h0M612.6 809.6h0M600.0 834.1h0M587.0 825.9h0M613.2 812.2h0M598.4 835.1h0M583.9 835.1h0M582.8 819.5h0M599.4 801.0h0M580.9 809.6h0M612.1 814.6h0M583.8 831.3h0M584.2 813.3h0M584.7 811.4h0M609.0 806.0h0M585.8 829.4h0M602.3 806.3h0M611.4 805.2h0M615.0 813.2h0M591.2 810.4h0M603.5 837.0h0M596.1 835.4h0M578.5 826.0h0M585.0 817.2h0M612.8 828.0h0M610.1 830.9h0M610.8 805.6h0M592.9 839.5h0M581.4 821.3h0M584.5 816.4h0M605.9 833.0h0M580.8 827.6h0M604.0 833.1h0M611.6 812.8h0M590.6 844.2h0M615.9 825.5h0M595.4 842.9h0M617.3 814.6h0M585.4 829.0h0M581.8 813.5h0M610.3 807.9h0M618.8 822.3h0M618.1 813.9h0M580.2 823.6h0M616.2 803.2h0M600.0 832.5h0M591.4 833.0h0M599.1 833.6h0M618.0 822.5h0M591.4 810.4h0M597.9 833.3h0M610.0 830.2h0M583.2 816.2h0M587.0 805.2h0M604.9 807.8h0M586.1 818.6h0M601.7 805.0h0M574.1 824.1h0M624.2 816.8h0M614.8 824.7h0M590.9 834.5h0M590.5 835.4h0M614.2 817.1h0M589.5 830.5h0M588.8 813.0h0M608.0 810.0h0M617.0 821.4h0M618.1 812.1h0M607.8 833.0h0M617.6 812.9h0M596.5 804.4h0M582.5 827.9h0M588.9 829.5h0M601.3 805.5h0M601.7 805.0h0M592.8 808.1h0M608.2 807.9h0M611.8 809.5h0M592.5 806.2h0M600.7 807.6h0M595.7 808.0h0M581.2 811.9h0M611.6 813.8h0M593.9 838.3h0M603.3 803.9h0M617.7 825.4h0M606.8 803.9h0M597.3 832.8h0M586.1 833.7h0M608.2 835.9h0M584.7 823.5h0M612.5 842.1h0M585.7 827.2h0M580.0 816.0h0M622.5 833.5h0M573.8 819.6h0M581.9 837.7h0M608.6 805.0h0M591.4 834.4h0M577.2 819.4h0M613.8 816.5h0M613.1 813.8h0M618.6 820.0h0M614.0 823.6h0M599.5 803.6h0M581.6 815.8h0M621.5 821.2h0M573.3 820.7h0M616.6 815.7h0M611.3 835.5h0M591.2 802.0h0M606.5 835.9h0M583.5 830.5h0M585.8 812.2h0M576.2 823.5h0M615.1 833.5h0M605.3 831.7h0M612.7 825.9h0M591.2 807.0h0M603.9 834.0h0M589.8 831.4h0M581.7 820.6h0M610.7 812.1h0M612.6 814.3h0M612.4 815.4h0M581.3 813.9h0M614.5 808.6h0M585.5 826.1h0M602.4 836.1h0M598.3 804.4h0M617.6 810.1h0M612.5 814.9h0M619.1 807.8h0M585.0 834.6h0M586.8 813.9h0M610.8 827.5h0M604.7 806.6h0M593.7 834.5h0M607.7 830.7h0M612.4 830.1h0M614.6 821.9h0M591.0 811.5h0M601.8 807.7h0M585.6 833.4h0M602.3 832.8h0M586.8 840.0h0M617.9 819.5h0M608.6 809.9h0M577.4 821.0h0M610.8 832.4h0M604.1 803.0h0M589.4 811.0h0M611.5 826.1h0M614.5 834.5h0M608.9 839.0h0M600.7 833.4h0M584.5 826.7h0M604.5 833.9h0M608.9 833.9h0M606.3 803.5h0M594.9 808.0h0M605.6 806.3h0M585.5 829.2h0M615.2 816.9h0M614.1 806.1h0M595.8 799.6h0M613.9 825.9h0M622.0 817.9h0M612.6 813.6h0M585.2 834.8h0M588.2 812.9h0M588.6 828.0h0M614.7 813.2h0M589.6 832.6h0M587.3 838.6h0M579.5 824.2h0M614.2 813.5h0M596.1 804.6h0M597.8 807.0h0M583.3 820.9h0M613.6 816.2h0M579.2 817.6h0M615.5 821.0h0M611.5 832.6h0M608.7 802.4h0M588.2 814.2h0M590.0 832.9h0M615.1 829.9h0M617.8 823.0h0M613.9 828.5h0M598.0 840.4h0M586.1 827.1h0M597.2 839.7h0M611.0 811.8h0M586.9 814.5h0M597.8 807.9h0M612.9 817.3h0M608.9 809.2h0M585.7 830.0h0M598.8 832.8h0M605.2 832.4h0M582.2 810.3h0M582.9 829.2h0M582.1 806.4h0M583.0 812.8h0M614.1 831.8h0M616.8 832.7h0M584.9 823.8h0M606.9 806.5h0M609.0 836.9h0M585.1 809.1h0M594.1 834.8h0M603.9 840.3h0M589.8 809.4h0M607.6 832.4h0M617.5 815.5h0M599.9 801.8h0M600.4 797.1h0M584.5 821.8h0M604.3 844.0h0M606.1 841.6h0M610.1 835.7h0M621.2 812.9h0M593.1 834.9h0M616.3 810.9h0M607.7 806.5h0M601.4 835.3h0M587.8 830.1h0M614.3 809.0h0M580.4 834.2h0M587.4 827.1h0M582.1 816.1h0M585.0 823.0h0M603.6 833.5h0M580.2 816.0h0M590.2 806.1h0M575.8 813.6h0M594.6 808.3h0M573.6 816.0h0M586.2 818.2h0M618.0 810.1h0M598.3 806.9h0M587.9 811.8h0M590.4 806.2h0M599.7 834.6h0M606.7 840.2h0M601.8 808.1h0M602.1 837.3h0M593.5 836.3h0M597.7 837.3h0M599.7 835.5h0M607.6 833.0h0M611.6 812.6h0M593.9 836.9h0M583.3 837.7h0M586.6 831.5h0M615.6 826.2h0M599.3 836.0h0M593.3 802.1h0M616.0 816.3h0M578.3 820.1h0M585.0 829.4h0M619.2 812.7h0M611.8 811.6h0M597.2 808.6h0M614.5 815.7h0M587.2 827.7h0M606.0 800.0h0M586.8 811.8h0M603.0 807.3h0M614.0 828.9h0M605.3 809.3h0M600.3 806.3h0M606.4 831.8h0M614.1 815.4h0M613.9 824.0h0M584.7 817.0h0M596.9 832.5h0M586.5 807.2h0M587.1 826.3h0M612.5 814.2h0M615.2 808.7h0M578.2 821.8h0M609.0 810.6h0M575.6 831.9h0M613.3 832.1h0M603.6 806.7h0M617.1 810.0h0M609.8 810.5h0M580.1 815.2h0M604.2 835.6h0M609.5 833.4h0M583.7 816.3h0M587.7 830.5h0M623.7 810.0h0M606.0 806.0h0M605.9 807.0h0M587.2 815.1h0M610.7 829.4h0M602.5 806.7h0M617.9 829.8h0M597.3 836.1h0M584.0 816.3h0M582.8 816.5h0M599.7 807.6h0M609.3 830.9h0M585.3 822.7h0M614.7 821.7h0M587.8 829.1h0M608.0 834.6h0M599.7 806.7h0M584.2 819.6h0M608.3 804.5h0M586.0 828.2h0M611.3 804.5h0M594.4 833.8h0M584.9 824.2h0M575.7 819.2h0M590.7 811.2h0M576.5 817.4h0M584.2 822.8h0M622.1 807.3h0M574.7 816.2h0M590.0 834.5h0M594.2 834.7h0M619.2 825.8h0M616.0 827.9h0M590.1 809.9h0M586.2 814.7h0M615.3 812.3h0M608.0 832.6h0M614.4 826.3h0M609.4 831.9h0M593.6 807.6h0M589.9 835.8h0M612.8 811.6h0M588.4 834.7h0M593.7 809.8h0M609.2 834.8h0M589.7 832.1h0M584.1 826.1h0M585.6 818.0h0M601.6 833.7h0M606.7 809.1h0M609.7 809.0h0M586.0 824.2h0M611.3 835.5h0M597.4 804.8h0M585.1 830.2h0M601.0 838.2h0M576.7 831.6h0M593.8 808.8h0M587.0 826.5h0M579.8 815.1h0M594.2 807.2h0M592.2 806.5h0M608.3 830.5h0M601.6 806.8h0M612.4 830.8h0M608.8 838.7h0M588.1 842.0h0M600.1 837.6h0M582.8 810.9h0M617.3 825.8h0M599.6 806.8h0M590.9 832.3h0M608.6 830.5h0M595.9 834.4h0M597.2 835.8h0M608.8 809.4h0M621.1 813.9h0M586.4 826.5h0M590.8 836.1h0M583.8 818.4h0M610.2 829.1h0M608.1 810.4h0M574.6 829.9h0M608.1 831.3h0M596.1 842.7h0M612.9 825.9h0M618.2 817.0h0M611.4 842.6h0M612.0 827.7h0M606.4 800.6h0M617.8 816.4h0M583.2 812.1h0M621.8 820.2h0M581.8 827.1h0M605.1 831.4h0M582.7 837.6h0M608.5 804.9h0M585.8 817.5h0M614.9 817.9h0M605.1 832.2h0M611.2 831.4h0M601.4 837.3h0M612.7 810.2h0M577.7 817.9h0M611.8 829.2h0M600.3 808.3h0M611.5 829.5h0M592.3 831.3h0M602.5 836.9h0M613.1 833.7h0M601.9 797.9h0M600.2 835.5h0M618.7 808.2h0M621.1 808.0h0M604.6 809.1h0M598.4 806.7h0M607.1 830.6h0M612.6 825.1h0M609.2 829.6h0M602.9 839.0h0M594.3 841.2h0M586.5 808.2h0M600.8 841.5h0M614.4 823.9h0M591.2 810.6h0M601.0 838.0h0M586.7 827.8h0M580.6 830.8h0M589.8 835.0h0M585.2 810.6h0M604.9 837.6h0M591.3 809.4h0M615.4 817.6h0M580.6 807.7h0M619.2 806.2h0M601.5 801.1h0M598.6 804.6h0M611.3 833.0h0M578.7 815.4h0M616.1 823.8h0M582.4 815.3h0M614.4 823.7h0M610.1 832.0h0M598.8 807.7h0M614.9 815.4h0M608.3 838.1h0M606.9 830.5h0M596.7 836.1h0M580.7 828.8h0M582.1 818.3h0M599.5 832.9h0M597.4 806.9h0M595.3 833.5h0M592.0 809.6h0M602.2 834.5h0M621.5 807.2h0M601.9 834.7h0M611.7 826.7h0M619.9 823.3h0M585.9 829.1h0M587.1 842.5h0M617.0 817.9h0M611.2 807.4h0M588.5 809.6h0M619.2 829.2h0M613.3 821.6h0M585.0 821.3h0M584.9 826.8h0M593.7 806.8h0M587.9 829.6h0M586.5 816.4h0M591.4 831.9h0M591.7 810.0h0M613.2 829.7h0M591.4 808.7h0M585.8 819.5h0M618.0 819.0h0M610.2 810.1h0M615.4 826.4h0M584.3 822.7h0M598.6 808.5h0M589.1 810.0h0M583.5 819.8h0M587.3 815.7h0M611.9 806.9h0M585.5 838.6h0M614.2 817.6h0M594.1 808.5h0M584.0 819.9h0M616.3 822.3h0M618.6 828.4h0M608.5 830.0h0M592.1 835.6h0M606.8 807.4h0M599.8 837.7h0M591.9 836.7h0M605.4 832.6h0M603.1 803.4h0M616.4 812.9h0M584.8 829.4h0M581.3 816.4h0M582.7 831.9h0M584.7 816.9h0M615.4 821.8h0M606.2 832.1h0M603.7 834.3h0M606.6 830.9h0M603.2 804.0h0M593.5 836.6h0M579.1 821.2h0M590.4 830.0h0M612.2 825.1h0M611.1 840.8h0M604.0 807.2h0M609.7 833.8h0M610.6 811.3h0M595.9 834.8h0M584.1 825.7h0M596.8 833.2h0M594.2 808.8h0M584.5 834.5h0M600.4 803.5h0M596.6 841.3h0M582.3 817.2h0M591.4 837.4h0M588.6 801.5h0M583.2 818.8h0M591.4 806.7h0M613.2 807.5h0M600.6 800.7h0M586.0 828.1h0M597.5 807.0h0M609.1 807.6h0M582.3 829.7h0M582.0 813.9h0M585.2 832.7h0M576.2 827.4h0M591.2 830.2h0M589.0 810.2h0M579.8 821.4h0M617.6 834.6h0M618.7 821.6h0M614.9 829.4h0M589.0 811.3h0M616.3 818.8h0M617.7 815.6h0M617.4 820.4h0M617.0 818.8h0M587.8 813.3h0M594.7 841.9h0M578.8 826.2h0M615.1 836.2h0M605.8 832.5h0M608.3 807.3h0M603.1 835.7h0M615.3 808.4h0M585.6 822.6h0M614.2 827.2h0M583.2 820.9h0M617.0 817.0h0M585.6 821.8h0M579.0 806.5h0M624.9 817.4h0M596.1 833.0h0M612.0 806.9h0M609.7 829.5h0M591.8 809.9h0M586.9 826.4h0M619.5 815.3h0M607.4 830.7h0M609.5 811.0h0M614.2 823.3h0M613.2 815.3h0M599.6 834.4h0M614.7 821.2h0M614.7 815.9h0M585.6 831.1h0M602.9 832.6h0M613.2 817.1h0M617.0 822.2h0M613.4 814.7h0M581.9 817.4h0M598.4 838.6h0M592.4 809.8h0M620.4 826.8h0M590.7 831.3h0M591.1 810.0h0M589.1 829.5h0M585.7 811.9h0M608.1 834.5h0M614.9 821.7h0M616.8 822.7h0M591.6 809.2h0M604.3 804.7h0M611.0 833.4h0M589.4 808.8h0M604.2 803.1h0M613.6 825.4h0M605.8 840.0h0M607.8 840.0h0M582.3 813.9h0M606.3 831.6h0M591.3 807.9h0M600.5 808.5h0M598.8 836.1h0M616.6 827.4h0M611.5 810.3h0M610.9 831.9h0M584.0 814.4h0M590.8 810.7h0M584.4 815.0h0M620.6 815.0h0M586.7 812.2h0M610.7 830.2h0M602.6 808.2h0M578.5 815.9h0M592.8 806.5h0M609.4 829.8h0M590.1 830.5h0M611.3 826.9h0M583.3 821.7h0M595.1 797.8h0M610.4 812.9h0M606.4 832.0h0M588.5 827.8h0M606.5 835.8h0M612.6 827.8h0M590.3 810.8h0M595.8 804.7h0M586.2 814.9h0M603.7 807.0h0M584.8 816.1h0M586.5 815.6h0M586.2 837.0h0M584.9 821.9h0M614.5 817.9h0M618.1 816.7h0M620.5 807.8h0M609.8 803.1h0M617.2 821.0h0M598.8 832.9h0M612.9 838.8h0M604.2 808.2h0M580.1 818.1h0M575.8 822.9h0M605.2 832.5h0M613.3 819.2h0M574.1 814.6h0M586.4 826.2h0M591.9 832.3h0M587.9 833.6h0M603.6 842.3h0M596.5 804.5h0M614.3 813.4h0M584.0 814.0h0M576.3 825.8h0M619.7 806.1h0M575.4 829.0h0M585.5 824.3h0M610.7 836.9h0M613.5 812.9h0M589.8 804.9h0M599.5 833.1h0M610.6 834.2h0M617.7 814.6h0M587.7 827.1h0M593.4 831.7h0M620.1 814.1h0M618.0 802.0h0M584.3 830.7h0M612.4 832.8h0M616.4 817.8h0M615.2 831.0h0M582.6 817.6h0M581.3 815.6h0M587.0 815.4h0M612.6 811.3h0M593.9 834.8h0M610.1 812.2h0M608.9 838.5h0M598.1 805.7h0M599.4 806.6h0M612.3 825.3h0M598.1 803.1h0M585.6 827.0h0M619.2 823.0h0M588.3 811.2h0M615.3 820.5h0M583.6 811.1h0M616.3 828.6h0M580.2 807.8h0M611.2 830.0h0M609.2 804.5h0M606.0 803.9h0M587.6 827.2h0M623.9 830.6h0M621.3 824.0h0M586.6 832.2h0M607.8 834.8h0M595.1 807.0h0M588.0 829.5h0M588.8 813.3h0M618.0 828.8h0M583.6 826.3h0M585.7 820.4h0M603.8 836.3h0M607.7 810.6h0M614.0 812.7h0M587.8 829.5h0M615.8 826.5h0M613.7 823.4h0M595.3 808.4h0M592.6 831.9h0M587.6 814.4h0M603.0 839.1h0M605.7 831.7h0M621.0 822.8h0M609.3 830.5h0M614.8 822.4h0M611.2 813.2h0M580.8 826.3h0M603.7 800.4h0M614.5 826.5h0M602.7 807.1h0M616.0 812.1h0M612.3 825.6h0M607.1 803.8h0M594.2 832.3h0M582.4 831.2h0M581.3 830.3h0M594.2 833.6h0M613.9 814.9h0M584.2 815.7h0M594.8 840.7h0M613.0 808.1h0M583.9 816.8h0M615.6 810.9h0M593.3 833.5h0M593.0 808.4h0M589.5 805.4h0M586.8 809.8h0M585.7 813.1h0M614.5 814.3h0M614.8 813.8h0M585.5 828.8h0M612.1 802.5h0M585.8 827.1h0M615.8 818.4h0M597.8 833.5h0M590.5 810.0h0M605.9 832.5h0M612.8 827.4h0M602.6 833.2h0M604.1 832.0h0M607.3 805.2h0M614.9 818.5h0M599.9 805.7h0M584.7 805.2h0M612.3 833.1h0M609.0 809.3h0M607.7 806.5h0M603.3 835.8h0M586.3 829.1h0M602.1 832.8h0M587.4 833.4h0M609.3 809.2h0M592.9 835.1h0M612.0 808.9h0M588.1 835.6h0M616.4 818.1h0M591.4 805.5h0M612.6 814.9h0M604.2 808.8h0M611.8 808.1h0M587.5 826.4h0M574.5 819.4h0M589.4 828.8h0M587.5 827.8h0M588.0 810.4h0M606.3 807.8h0M584.8 821.2h0M588.6 829.8h0M588.2 833.1h0M604.6 831.8h0M586.4 825.5h0M619.4 831.2h0M610.2 802.9h0M580.9 825.2h0M616.3 819.7h0M604.5 834.1h0M582.0 824.2h0M605.9 808.2h0M607.4 809.9h0M614.6 805.9h0M600.6 834.1h0M579.3 815.0h0M617.3 828.3h0M614.3 822.0h0M595.8 806.0h0M585.9 830.3h0M625.9 819.2h0M612.6 826.5h0M582.8 827.8h0M615.2 830.1h0M603.6 832.1h0M617.2 814.2h0M612.9 812.1h0M587.2 804.3h0M599.0 834.5h0M575.8 817.3h0M594.8 806.5h0M583.9 830.4h0M578.2 825.1h0M600.0 835.8h0M589.2 806.7h0M592.9 838.4h0M605.3 806.3h0M600.5 806.8h0M611.2 831.8h0M604.7 806.4h0M605.3 832.5h0M576.7 824.0h0M598.8 808.4h0M592.3 836.1h0M593.3 840.9h0M613.6 821.5h0M593.0 841.7h0M578.2 826.6h0M584.8 814.1h0M585.6 810.2h0M592.8 831.7h0M614.5 828.4h0M611.8 833.4h0M614.6 819.7h0M601.7 839.1h0M579.8 834.4h0M586.3 817.5h0M614.0 829.6h0M611.2 827.9h0M574.9 824.4h0M593.1 835.9h0M605.5 836.0h0M604.0 831.8h0M597.7 808.3h0M611.3 810.7h0M593.0 802.8h0M588.6 812.2h0M616.3 810.8h0M610.4 835.2h0M603.2 806.0h0M608.4 838.1h0M605.4 831.7h0M617.8 820.2h0M600.1 833.1h0M591.0 830.5h0M605.5 806.3h0M596.1 808.3h0M616.2 829.6h0M601.9 840.9h0M608.8 810.9h0M578.0 816.1h0M586.6 827.4h0M600.4 807.6h0M573.7 824.9h0M590.3 810.1h0M594.6 807.7h0M613.3 821.1h0M581.7 831.8h0M584.0 836.0h0M601.1 837.5h0M593.6 834.7h0M589.4 812.6h0M599.1 837.0h0M586.4 830.6h0M586.9 826.2h0M612.3 807.1h0M584.5 812.9h0M613.2 815.1h0M596.4 834.9h0M604.5 805.7h0M610.5 811.1h0M581.7 829.6h0M613.2 818.6h0M589.7 833.2h0M612.6 807.2h0M606.2 806.3h0M582.9 812.7h0M618.4 822.3h0M611.5 807.7h0M573.0 818.4h0M598.0 801.0h0M611.1 812.5h0M604.6 833.5h0M602.9 834.6h0M586.9 828.7h0M603.8 835.0h0M589.7 808.5h0M583.6 821.8h0M585.6 826.4h0M607.9 798.8h0M609.0 830.2h0M615.3 818.7h0M607.5 806.9h0M586.7 814.3h0M595.5 838.0h0M614.6 817.5h0M583.7 832.1h0M607.7 833.2h0M606.3 808.5h0M605.1 833.8h0M610.0 828.4h0M600.0 833.5h0M610.8 811.6h0M616.9 814.6h0M597.6 833.1h0M612.6 826.8h0M594.3 804.4h0M617.8 821.0h0M577.7 814.5h0M615.3 817.8h0M597.1 833.4h0M603.3 835.4h0M620.5 816.7h0M602.6 807.0h0M617.4 822.8h0M608.5 808.3h0M584.1 816.1h0M616.2 818.7h0M602.0 803.6h0M615.1 834.3h0M594.5 807.3h0M609.0 807.9h0M581.4 823.5h0M614.7 814.3h0M613.5 814.7h0M584.0 814.9h0M618.4 825.0h0M593.4 809.4h0M605.5 808.8h0M582.8 802.6h0M596.0 807.2h0M614.8 832.8h0M581.9 818.7h0M611.9 832.0h0M620.3 826.8h0M619.7 829.8h0M617.6 822.7h0M603.5 834.4h0M595.3 833.4h0M613.3 820.5h0M585.8 819.6h0M585.8 822.7h0M580.5 827.8h0M590.4 810.3h0M582.2 812.5h0M599.7 833.5h0M613.1 825.1h0M588.8 828.5h0M583.1 820.7h0M618.0 819.7h0M582.0 823.5h0M582.0 814.7h0M615.5 822.8h0M589.3 810.9h0M586.8 831.6h0M587.2 834.3h0M585.6 816.9h0M580.1 837.7h0M590.8 836.4h0M594.7 835.4h0M591.0 838.7h0M601.5 833.3h0M622.1 818.8h0M587.9 828.2h0M580.9 821.8h0M600.2 840.4h0M594.1 806.4h0M591.5 806.5h0M573.7 820.5h0M601.3 832.8h0M593.7 834.2h0M599.7 797.2h0M602.1 832.4h0M614.4 825.7h0M586.8 808.5h0M604.5 800.3h0M614.3 831.0h0M602.5 832.7h0M614.9 825.3h0M620.8 828.2h0M593.9 832.7h0M614.9 813.4h0M590.0 808.4h0M593.4 805.6h0M618.2 831.6h0M611.8 814.7h0M618.7 820.9h0M584.0 829.7h0M601.8 840.1h0M610.4 805.1h0M612.6 826.4h0M615.1 812.2h0M584.7 829.7h0M584.1 801.6h0M609.1 808.2h0M585.2 832.1h0M585.4 823.8h0M611.8 812.1h0M597.6 804.3h0M580.9 811.4h0M614.0 810.4h0M592.3 832.1h0M613.2 823.4h0M587.2 813.8h0M615.1 821.5h0M587.8 829.1h0M616.0 803.7h0M588.5 806.8h0M619.6 810.3h0M581.0 832.7h0M599.6 804.5h0M610.2 804.3h0M615.6 817.5h0M614.7 831.9h0M592.3 807.7h0M616.5 823.5h0M613.4 817.0h0M606.6 809.6h0M582.2 818.2h0M589.7 803.8h0M618.9 825.7h0M583.0 828.6h0M583.4 814.2h0M584.3 823.2h0M585.6 812.6h0M589.1 831.4h0M619.2 831.7h0M607.6 835.5h0M585.8 825.3h0M579.0 807.0h0M600.9 833.0h0M592.2 834.8h0M615.6 829.4h0M589.4 830.5h0M582.3 820.2h0M577.7 818.9h0M591.4 799.4h0M587.4 800.2h0M589.2 829.6h0M614.6 828.6h0M592.2 810.5h0M599.3 835.3h0M585.7 819.2h0M589.4 808.9h0M616.0 825.2h0M583.0 826.8h0M584.0 808.3h0M612.5 827.4h0M594.7 832.4h0M605.5 806.1h0M579.4 824.4h0M593.8 809.5h0M581.0 822.8h0M580.4 820.6h0M587.1 816.2h0M585.9 832.5h0M616.6 824.7h0M608.0 829.9h0M586.7 828.4h0M600.9 832.8h0M592.7 804.5h0M589.0 801.2h0M611.7 835.1h0M604.2 807.9h0M614.7 819.6h0M588.7 838.8h0M583.6 811.3h0M613.8 817.4h0M606.3 806.2h0M607.4 809.1h0M579.0 822.7h0M595.3 841.1h0M578.1 829.6h0M588.1 832.6h0M591.3 809.8h0M614.7 813.4h0M609.3 832.0h0M612.9 831.8h0M582.8 818.3h0M612.4 809.7h0M609.6 829.5h0M586.4 832.6h0M600.2 837.0h0M615.9 820.8h0M613.3 808.7h0M613.6 827.0h0M582.8 817.3h0M583.9 811.2h0M586.9 826.6h0M596.8 835.9h0M606.9 809.7h0M601.7 803.3h0M602.8 835.8h0M584.4 820.5h0M619.5 814.2h0M597.8 833.6h0M590.7 839.7h0M612.6 828.3h0M602.3 800.3h0M599.7 832.6h0M622.7 807.6h0M592.1 809.5h0M614.2 826.1h0M597.6 836.8h0M600.1 835.3h0M615.1 817.4h0M587.9 830.1h0M597.9 806.1h0M604.6 838.4h0M607.2 810.0h0M589.8 809.9h0M589.1 843.7h0M596.7 833.0h0M591.4 834.3h0M585.2 820.4h0M587.7 828.1h0M609.3 804.8h0M615.0 824.8h0M589.9 811.1h0M588.7 830.3h0M589.5 812.1h0M578.6 829.3h0M603.8 840.4h0M586.4 830.4h0M584.3 808.9h0M585.4 815.8h0M588.8 806.8h0M616.2 822.0h0M613.0 828.4h0M595.8 837.3h0M579.7 826.5h0M613.0 833.4h0M583.8 830.1h0M615.3 820.1h0M608.6 836.8h0M617.6 809.4h0M609.1 831.7h0M610.5 812.0h0M618.5 826.3h0M596.0 837.9h0M586.0 819.0h0M606.2 808.5h0M611.6 810.4h0M583.2 810.6h0M617.7 813.8h0M620.7 824.2h0M616.8 827.8h0M617.9 823.5h0M612.6 832.7h0M603.2 805.8h0M601.6 806.6h0M611.4 808.4h0M615.6 825.2h0M616.6 807.4h0M586.4 811.8h0M583.9 824.7h0M589.8 809.7h0M583.4 820.7h0M613.2 812.8h0M585.4 829.8h0M580.4 807.7h0M610.9 826.9h0M596.1 833.9h0M591.6 809.0h0M584.2 812.0h0M586.0 822.6h0M622.0 816.0h0M587.3 813.6h0M584.9 809.5h0M591.3 806.4h0M617.6 828.3h0M601.8 839.9h0M581.3 823.1h0M613.6 826.0h0M603.6 832.4h0M608.4 833.6h0M613.2 814.5h0M595.9 806.6h0M585.6 810.2h0M614.9 819.5h0M595.1 832.6h0M617.2 810.1h0M592.9 832.7h0M596.9 803.2h0M609.0 829.4h0M595.8 802.8h0M597.1 833.9h0M605.7 807.0h0M621.7 820.9h0M612.3 806.2h0M583.8 824.2h0M582.7 825.5h0M592.4 808.5h0M586.0 811.7h0M594.5 804.5h0M608.9 809.4h0M612.4 827.4h0M584.9 812.8h0M588.6 830.3h0M592.2 831.5h0M610.8 805.3h0M578.9 819.4h0M602.7 807.2h0M589.7 806.2h0M584.7 812.9h0M616.8 811.6h0M602.8 832.3h0M610.7 812.9h0M613.8 824.7h0M596.9 832.7h0M586.4 812.1h0M600.2 801.8h0M615.3 821.7h0M614.0 802.0h0M611.1 840.0h0M587.7 828.2h0M580.4 818.2h0M611.8 802.2h0M595.6 835.8h0M593.5 837.0h0M592.0 810.4h0M612.7 811.3h0M580.9 812.5h0M576.1 814.9h0M585.1 813.2h0M615.1 812.0h0M617.8 816.4h0M573.3 825.2h0M596.2 800.9h0M605.4 808.9h0M600.0 835.7h0M617.7 816.3h0M608.4 830.3h0M589.2 802.0h0M601.6 840.3h0M608.1 810.0h0M609.6 831.2h0M582.3 814.0h0M589.8 840.6h0M591.9 831.5h0M617.8 829.5h0M609.9 804.9h0M606.5 804.4h0M591.3 832.9h0M614.6 808.1h0M617.9 810.7h0M585.0 831.6h0M601.0 834.1h0M590.2 833.0h0M581.8 824.8h0M611.8 810.5h0M601.4 832.9h0M602.8 833.1h0M601.3 839.1h0M590.7 802.5h0M617.7 828.7h0M613.2 808.1h0M594.8 832.6h0M614.4 826.3h0M603.3 805.0h0M613.9 807.5h0M577.2 819.9h0M585.5 820.1h0M592.1 831.6h0M613.3 835.9h0M605.1 837.8h0M582.9 805.3h0M585.2 832.1h0M583.2 823.0h0M587.3 811.0h0M617.0 806.3h0M594.4 840.7h0M586.2 813.6h0M618.4 823.5h0M584.4 820.1h0M610.2 832.2h0M603.8 803.2h0M585.1 819.6h0M613.8 819.6h0M584.9 822.7h0M591.5 834.2h0M615.1 813.0h0M592.8 831.4h0M592.6 806.0h0M581.2 816.2h0M614.1 820.6h0M584.6 827.8h0M577.6 821.8h0M616.5 830.3h0M614.7 830.0h0M611.3 827.1h0M600.2 804.2h0M580.3 830.4h0M578.5 824.9h0M602.7 832.2h0M595.5 807.5h0M585.6 824.4h0M584.3 812.9h0M593.8 831.6h0M620.8 822.7h0M580.9 812.3h0M598.4 807.4h0M587.3 813.9h0M612.9 822.6h0M594.0 837.4h0M592.1 834.5h0M592.4 809.7h0M594.8 835.2h0M579.0 825.4h0M593.3 806.9h0M614.8 814.8h0M601.0 806.4h0M614.9 829.0h0M602.8 803.8h0M592.6 809.8h0M615.2 815.3h0M615.0 826.9h0M590.8 835.0h0M611.7 810.8h0M594.0 834.5h0M590.0 808.5h0M611.3 809.0h0M611.6 808.4h0M593.0 809.1h0M589.7 812.5h0M619.6 817.8h0M611.8 835.8h0M621.9 825.7h0M609.6 838.6h0M589.3 834.5h0M622.8 811.2h0M588.1 831.9h0M600.8 839.7h0M594.6 834.3h0M608.6 802.9h0M591.3 830.4h0M590.8 806.0h0M612.2 813.0h0M623.2 820.1h0M575.9 831.6h0M582.5 821.7h0M617.6 822.3h0M613.0 804.5h0M622.8 820.0h0M584.0 817.9h0M611.3 808.0h0M591.7 810.3h0M623.1 824.2h0M587.0 827.2h0M595.0 802.8h0M602.5 806.0h0M616.8 821.9h0M593.4 807.0h0M606.1 807.9h0M608.4 832.4h0M591.3 834.6h0M592.2 836.6h0M605.2 808.2h0M583.7 818.1h0M589.1 812.8h0M591.2 811.3h0M612.6 808.9h0M596.6 832.6h0M595.1 807.4h0M587.9 813.6h0M582.8 822.6h0M611.7 831.3h0M614.3 815.8h0M588.4 809.9h0M641.1 817.8h0M671.3 815.6h0M645.5 810.7h0M639.9 811.0h0M668.4 829.3h0M640.5 824.0h0M669.2 816.9h0M643.6 812.2h0M667.7 829.5h0M641.0 831.7h0M673.8 817.8h0M674.6 820.0h0M637.9 805.9h0M670.1 827.6h0M664.0 833.9h0M644.7 830.6h0M634.6 832.5h0M662.5 804.8h0M655.9 834.3h0M678.1 817.1h0M647.5 832.3h0M650.9 834.3h0M638.4 828.1h0M653.8 808.3h0M656.3 835.2h0M659.7 807.0h0M633.5 830.7h0M663.3 833.3h0M642.0 807.4h0M655.8 835.5h0M654.5 805.4h0M640.8 833.7h0M658.0 805.4h0M666.8 817.7h0M649.1 806.7h0M667.7 820.1h0M651.2 806.2h0M635.9 817.1h0M637.9 820.6h0M659.0 805.9h0M641.0 827.1h0M650.7 808.8h0M636.2 831.7h0M668.4 824.1h0M644.6 809.7h0M668.7 808.4h0M641.7 833.6h0M639.1 803.7h0M674.4 821.1h0M644.1 810.0h0M640.3 831.4h0M650.6 801.9h0M667.6 820.3h0M660.9 806.9h0M648.8 807.5h0M638.4 826.6h0M668.7 817.2h0M650.4 803.6h0M633.1 835.2h0M643.0 810.1h0M653.9 838.2h0M666.6 827.8h0M637.0 838.0h0M633.3 832.7h0M667.1 806.5h0M641.7 813.4h0M669.6 814.7h0M640.6 822.6h0M648.1 833.9h0M672.0 802.7h0M661.0 842.6h0M660.3 808.4h0M655.3 837.7h0M668.5 830.5h0M663.4 832.0h0M671.4 834.6h0M662.7 837.7h0M649.6 798.5h0M656.7 797.4h0M664.9 810.6h0M649.5 837.0h0M678.2 831.3h0M668.4 818.8h0M672.8 822.0h0M665.7 827.4h0M638.9 809.9h0M643.0 810.1h0M652.8 805.5h0M640.7 815.1h0M666.9 818.9h0M639.5 818.8h0M641.1 802.9h0M666.8 814.7h0M652.6 806.2h0M666.4 827.4h0M642.7 808.3h0M640.6 822.3h0M641.0 818.1h0M667.6 828.7h0M670.5 820.6h0M661.2 841.1h0M652.7 808.1h0M661.6 835.5h0M640.4 814.8h0M634.6 838.0h0M636.9 827.7h0M651.3 835.6h0M663.9 831.5h0M644.6 839.3h0M644.3 837.3h0M647.5 805.9h0M636.1 828.3h0M636.7 827.1h0M636.8 816.7h0M668.1 820.9h0M647.4 805.5h0M654.0 805.9h0M647.1 804.9h0M650.0 834.8h0M638.5 829.7h0M672.2 822.9h0M646.0 843.2h0M650.0 836.9h0M664.9 814.1h0M661.1 839.8h0M655.0 834.7h0M666.5 825.4h0M667.8 822.9h0M667.2 817.0h0M656.1 836.3h0M643.9 808.0h0M638.0 826.0h0M653.7 835.5h0M641.4 833.0h0M663.4 837.5h0M640.4 834.0h0M650.0 804.1h0M667.6 829.1h0M642.0 802.4h0M668.3 825.9h0M671.7 816.9h0M666.2 830.1h0M638.3 839.3h0M672.0 818.9h0M667.6 822.2h0M662.0 808.5h0M668.7 818.2h0M652.7 834.3h0M652.9 805.1h0M644.8 842.6h0M651.9 806.1h0M651.4 835.9h0M642.6 799.9h0M656.1 807.0h0M666.1 828.4h0M662.2 806.8h0M666.8 830.4h0M668.6 836.1h0M670.6 818.1h0M640.9 822.7h0M672.4 832.5h0M655.1 806.4h0M657.2 808.2h0M649.6 835.2h0M640.6 826.3h0M660.1 837.9h0M640.5 823.9h0M666.3 817.5h0M666.0 829.2h0M642.6 809.4h0M648.4 808.6h0M673.5 814.4h0M647.9 806.6h0M672.3 809.1h0M642.0 828.4h0M650.5 802.7h0M640.2 814.8h0M648.2 834.1h0M639.1 829.1h0M648.5 834.9h0M674.9 822.0h0M667.0 836.4h0M655.3 835.0h0M634.2 818.8h0M629.2 816.3h0M660.3 807.1h0M636.7 816.8h0M644.9 834.8h0M643.8 835.5h0M640.1 824.7h0M662.1 807.2h0M666.0 815.9h0M642.8 811.4h0M644.7 809.2h0M672.2 829.8h0M655.7 841.6h0M659.7 808.2h0M677.6 830.1h0M650.8 834.2h0M645.4 835.8h0M670.0 819.2h0M644.9 811.4h0M670.9 801.4h0M649.8 808.2h0M644.6 829.7h0M640.7 824.4h0M666.8 810.9h0M642.0 803.9h0M664.7 811.5h0M645.5 806.9h0M635.8 830.3h0M636.1 811.8h0M663.5 807.1h0M639.1 816.7h0M665.7 812.5h0M672.0 833.0h0M655.0 839.6h0M664.4 829.2h0M638.0 826.9h0M656.9 808.2h0M648.7 839.1h0M649.9 804.8h0M642.2 809.7h0M652.0 803.9h0M662.5 833.2h0M668.6 816.5h0M669.7 824.5h0M656.5 808.3h0M649.0 838.0h0M650.5 836.2h0M638.6 827.0h0M654.9 806.5h0M640.8 822.0h0M652.5 835.1h0M651.8 834.6h0M641.6 835.7h0M639.6 815.2h0M665.6 811.2h0M672.6 812.1h0M641.5 810.0h0M669.0 824.1h0M661.6 834.6h0M640.8 821.3h0M636.5 802.8h0M651.1 808.7h0M670.0 819.1h0M670.2 830.5h0M667.5 818.7h0M652.5 837.3h0M657.8 807.4h0M648.0 833.2h0M656.7 806.6h0M642.7 812.2h0M638.7 830.6h0M633.0 825.9h0M667.9 833.9h0M638.5 818.2h0M636.0 816.2h0M650.8 800.7h0M640.4 813.9h0M657.3 805.1h0M657.7 805.4h0M646.9 808.9h0M636.8 835.1h0M640.9 812.5h0M663.1 835.3h0M645.2 810.9h0M660.1 809.7h0M662.7 810.3h0M638.8 815.2h0M650.9 838.7h0M647.9 842.9h0M642.9 837.3h0M646.0 804.7h0M670.5 831.3h0M670.3 821.1h0M649.3 835.3h0M660.3 803.7h0M638.9 837.9h0M662.8 843.4h0M677.1 820.3h0M644.6 838.7h0M650.8 837.2h0M636.5 815.9h0M670.8 827.1h0M669.8 829.6h0M638.6 820.4h0M640.9 821.4h0M636.5 821.8h0M654.1 838.0h0M664.3 810.7h0M649.8 808.0h0M640.8 807.9h0M667.1 824.3h0M643.6 828.7h0M655.2 837.1h0M670.4 819.5h0M653.3 804.9h0M638.4 824.0h0M670.0 821.9h0M662.7 808.2h0M660.4 834.0h0M668.2 825.9h0M663.0 800.4h0M664.4 830.0h0M646.9 833.1h0M668.4 824.4h0M665.4 810.2h0M664.1 812.7h0M660.1 807.7h0M675.6 830.8h0M666.2 831.6h0M636.7 829.6h0M630.6 821.4h0M659.9 807.7h0M666.3 809.1h0M647.6 805.3h0M661.0 805.7h0M641.8 816.5h0M667.7 811.8h0M640.1 823.7h0M637.3 831.9h0M654.7 838.9h0M654.3 840.8h0M639.5 818.0h0M665.1 838.8h0M652.7 835.9h0M648.5 833.2h0M642.9 828.0h0M667.9 817.4h0M644.4 811.2h0M665.5 830.0h0M651.5 841.0h0M661.1 807.6h0M672.1 816.5h0M640.7 835.4h0M643.8 808.6h0M639.1 815.4h0M665.4 836.4h0M668.0 830.5h0M648.0 832.8h0M643.0 804.4h0M677.1 818.9h0M660.6 807.3h0M647.0 834.0h0M639.8 817.7h0M655.8 806.8h0M665.6 811.9h0M663.4 809.3h0M636.3 806.3h0M652.9 835.1h0M637.5 822.1h0M662.7 808.3h0M669.8 827.7h0M672.7 817.0h0M659.7 833.1h0M670.1 828.6h0M655.2 798.7h0M644.7 810.9h0M633.4 828.5h0M674.1 817.2h0M669.4 831.5h0M640.0 820.1h0M667.9 829.7h0M644.3 833.9h0M659.6 837.1h0M651.7 842.3h0M651.3 807.4h0M632.7 816.4h0M659.3 834.9h0M650.8 834.5h0M652.5 839.1h0M639.7 818.1h0M664.8 812.8h0M664.2 800.0h0M665.4 798.6h0M658.9 809.2h0M658.4 833.5h0M653.6 835.7h0M666.7 816.7h0M657.7 834.6h0M674.3 816.9h0M653.9 807.0h0M662.0 835.1h0M641.2 832.3h0M669.4 817.2h0M641.3 828.6h0M668.7 821.2h0M670.2 836.6h0M643.2 829.8h0M680.4 824.4h0M676.5 822.4h0M672.7 821.9h0M636.6 812.1h0M641.8 838.2h0M674.4 818.8h0M642.1 813.7h0M649.2 837.7h0M641.1 819.1h0M651.4 806.7h0M675.0 814.8h0M672.1 814.6h0M665.7 800.3h0M642.8 831.9h0M661.2 837.3h0M643.3 813.1h0M667.8 819.8h0M662.4 807.4h0M664.4 830.7h0M655.7 835.3h0M653.7 800.8h0M642.6 812.6h0M661.2 809.1h0M648.4 806.5h0M670.1 832.7h0M636.3 816.2h0M638.7 812.4h0M652.3 836.9h0M652.9 806.4h0M665.5 827.8h0M666.7 817.7h0M641.1 805.2h0M661.9 832.3h0M653.6 806.7h0M669.2 817.1h0M649.3 807.4h0M664.5 801.6h0M668.3 824.1h0M661.4 809.4h0M667.2 817.8h0M639.8 825.4h0M647.2 810.2h0M637.8 819.9h0M673.9 833.9h0M647.0 810.4h0M651.2 800.7h0M648.9 836.1h0M647.2 833.6h0M661.8 809.5h0M675.3 816.1h0M641.7 829.1h0M636.5 819.2h0M669.4 815.3h0M671.6 814.2h0M661.6 835.6h0M643.8 812.8h0M664.9 829.7h0M671.2 825.9h0M663.7 812.5h0M639.0 830.0h0M666.4 817.1h0M650.0 803.1h0M638.1 825.4h0M657.5 836.3h0M650.0 808.4h0M642.7 832.4h0M645.4 810.3h0M662.7 810.5h0M662.6 807.1h0M642.2 829.9h0M659.9 833.1h0M651.1 802.8h0M634.6 812.0h0M643.8 830.5h0M670.2 832.3h0M646.5 833.4h0M643.6 835.3h0M662.7 811.1h0M665.7 810.3h0M635.4 835.3h0M661.8 803.4h0M658.6 833.3h0M641.6 815.2h0M655.9 837.8h0M669.4 818.1h0M640.9 831.8h0M668.8 831.4h0M666.3 817.5h0M644.5 840.0h0M659.2 834.2h0M633.3 827.4h0M667.2 804.9h0M641.5 810.9h0M649.4 807.1h0M645.5 832.4h0M668.6 823.3h0M666.7 829.1h0M642.0 808.0h0M653.9 835.8h0M638.9 817.0h0M648.7 807.1h0M638.2 822.9h0M668.5 816.3h0M646.2 843.8h0M671.1 818.4h0M629.4 829.9h0M638.6 816.1h0M654.8 807.6h0M647.2 837.2h0M671.8 830.4h0M637.4 833.6h0M667.4 830.9h0M670.6 827.7h0M659.5 833.6h0M642.5 814.5h0M632.5 829.6h0M643.2 811.5h0M658.7 807.3h0M671.1 808.4h0M646.9 833.9h0M641.4 810.2h0M670.9 811.3h0M675.2 828.5h0M658.2 797.3h0M654.0 840.2h0M670.5 818.6h0M657.5 808.9h0M660.5 805.0h0M660.1 836.1h0M652.0 807.0h0M642.0 832.0h0M648.9 803.9h0M639.7 820.7h0M665.4 809.7h0M652.2 838.5h0M638.2 824.3h0M644.1 829.8h0M641.7 811.9h0M661.2 810.3h0M644.8 800.1h0M670.7 829.1h0M639.5 829.9h0M657.6 804.8h0M644.5 830.1h0M645.0 831.0h0M656.2 804.9h0M640.0 824.6h0M649.7 806.7h0M636.8 835.4h0M660.1 834.4h0M644.8 830.1h0M658.9 836.4h0M657.7 842.0h0M669.3 822.5h0M641.1 827.8h0M674.1 828.4h0M655.6 834.5h0M646.5 839.2h0M639.5 806.5h0M656.7 836.8h0M676.8 828.4h0M663.9 836.1h0M672.1 830.4h0M664.8 831.4h0M640.6 810.8h0M671.5 817.8h0M651.7 835.7h0M651.6 837.6h0M643.9 813.2h0M648.7 841.9h0M645.4 802.8h0M644.0 832.8h0M668.1 814.3h0M650.3 835.5h0M639.7 827.8h0M662.3 836.5h0M644.2 809.7h0M634.5 831.4h0M669.3 813.4h0M659.7 809.7h0M659.7 805.4h0M654.6 837.5h0M664.7 829.7h0M660.0 837.1h0M669.1 822.0h0M652.8 808.3h0M657.8 808.7h0M654.4 807.8h0M639.3 838.8h0M641.3 841.6h0M668.7 825.1h0M641.4 830.8h0M667.6 834.2h0M668.0 804.5h0M650.0 801.2h0M639.6 826.0h0M661.2 833.8h0M661.4 835.0h0M648.3 839.6h0M662.1 839.1h0M665.9 815.3h0M659.9 807.0h0M648.1 838.1h0M671.3 829.3h0M646.4 804.5h0M649.4 805.0h0M661.5 835.4h0M658.8 834.4h0M648.3 836.7h0M669.7 821.2h0M640.7 826.1h0M644.0 801.6h0M668.1 828.5h0M646.8 806.2h0M647.0 834.3h0M641.4 810.0h0M658.7 802.9h0M643.5 828.5h0M665.1 842.2h0M641.7 837.4h0M655.6 834.0h0M667.3 833.6h0M637.8 819.3h0M660.5 834.4h0M653.5 808.0h0M641.2 817.9h0M660.7 809.6h0M640.0 825.2h0M663.4 811.5h0M656.2 840.5h0M644.7 807.1h0M642.0 816.0h0M673.7 818.3h0M646.4 834.1h0M667.0 823.1h0M669.6 816.5h0M640.9 823.2h0M671.7 822.2h0M645.8 831.3h0M656.5 808.0h0M641.2 815.7h0M669.9 824.7h0M658.5 834.5h0M647.2 806.0h0M654.3 840.9h0M647.0 834.6h0M667.7 841.4h0M664.9 810.3h0M663.1 838.3h0M652.9 805.8h0M656.0 837.4h0M656.4 807.6h0M645.8 810.4h0M642.8 830.6h0M642.0 809.7h0M665.0 828.9h0M641.5 830.3h0M667.0 829.6h0M642.3 812.0h0M651.2 806.6h0M655.3 838.1h0M642.6 835.1h0M650.2 803.7h0M648.8 844.0h0M632.4 811.3h0M642.3 813.2h0M651.7 805.9h0M637.1 817.2h0M632.4 832.9h0M644.9 807.2h0M640.1 828.1h0M650.9 834.7h0M659.7 804.4h0M650.7 807.7h0M670.7 824.7h0M678.1 819.1h0M662.0 833.9h0M672.4 836.9h0M637.6 815.8h0M668.3 812.1h0M667.5 813.4h0M664.9 832.4h0M665.1 837.0h0M671.6 815.8h0M651.1 806.4h0M645.5 840.4h0M661.6 808.7h0M641.3 818.7h0M663.2 804.2h0M676.0 819.2h0M658.2 834.7h0M650.5 834.9h0M640.0 811.7h0M655.7 834.1h0M643.5 813.7h0M667.3 813.4h0M648.7 833.3h0M648.8 806.7h0M662.8 807.6h0M637.5 834.0h0M662.6 834.4h0M656.1 801.4h0M631.3 818.9h0M634.9 811.2h0M660.9 809.7h0M637.7 815.0h0M665.3 832.4h0M649.8 836.1h0M661.2 834.5h0M664.8 831.7h0M648.5 800.7h0M656.1 837.0h0M633.7 814.4h0M667.3 823.9h0M671.2 818.1h0M652.5 806.1h0M650.1 807.2h0M652.9 838.5h0M639.5 818.7h0M662.1 831.7h0M674.8 814.2h0M654.3 804.3h0M668.2 815.5h0M663.8 806.4h0M639.5 830.2h0M666.5 813.7h0M645.0 830.3h0M642.8 814.7h0M644.2 805.6h0M657.3 835.7h0M652.5 835.8h0M642.2 828.1h0M646.3 796.4h0M641.8 812.7h0M664.5 832.0h0M639.0 813.5h0M644.0 831.4h0M657.8 809.1h0M667.2 813.0h0M667.9 826.1h0M664.2 811.7h0M641.7 814.9h0M647.8 836.0h0M662.1 810.4h0M641.5 805.3h0M638.4 819.9h0M638.4 821.6h0M637.6 822.6h0M669.6 805.9h0M648.0 802.2h0M638.5 823.5h0M640.3 825.8h0M656.4 843.5h0M633.2 835.2h0M643.6 830.7h0M665.3 807.8h0M669.4 824.8h0M652.2 802.6h0M658.2 836.0h0M663.0 834.2h0M640.9 814.8h0M657.4 806.2h0M643.7 839.6h0M675.0 806.3h0M666.6 815.3h0M638.3 833.8h0M658.6 806.8h0M640.5 805.5h0M642.2 813.7h0M640.9 821.1h0M666.0 826.7h0M669.5 827.9h0M647.4 841.1h0M647.7 803.5h0M639.1 830.5h0M673.2 837.9h0M666.3 830.0h0M636.0 810.4h0M665.0 838.5h0M647.2 836.8h0M654.7 804.5h0M661.7 807.8h0M666.5 827.9h0M641.5 829.1h0M660.5 835.7h0M640.2 819.5h0M663.2 838.2h0M640.2 827.0h0M652.0 807.9h0M664.2 808.6h0M644.5 831.1h0M654.5 834.4h0M665.2 806.5h0M661.1 803.5h0M664.9 801.2h0M663.9 833.8h0M643.3 840.7h0M631.9 810.7h0M636.0 829.6h0M647.7 832.9h0M647.2 810.1h0M666.4 811.9h0M669.2 817.7h0M638.1 822.3h0M651.0 838.2h0M646.7 806.9h0M651.1 834.8h0M639.8 828.1h0M648.2 832.6h0M651.8 837.1h0M665.5 834.6h0M667.9 814.2h0M636.0 828.0h0M665.5 815.4h0M658.3 834.9h0M635.1 822.4h0M644.5 810.3h0M642.8 807.7h0M641.5 827.7h0M663.0 811.5h0M653.7 841.3h0M640.8 842.9h0M662.6 810.5h0M640.5 814.3h0M666.6 825.3h0M652.1 808.4h0M644.3 804.5h0M642.3 835.4h0M672.0 817.0h0M668.6 833.8h0M667.1 813.6h0M655.4 835.6h0M635.5 821.4h0M667.7 821.5h0M670.2 807.2h0M672.3 815.5h0M640.2 811.8h0M640.7 827.9h0M661.5 804.2h0M657.2 808.6h0M655.6 801.7h0M628.9 820.7h0M645.0 805.5h0M645.3 832.2h0M668.2 822.8h0M655.2 836.2h0M668.3 831.6h0M664.0 831.4h0M655.0 807.9h0M667.0 814.8h0M642.3 805.6h0M656.6 801.2h0M668.8 814.1h0M641.7 813.1h0M646.1 808.2h0M643.8 832.4h0M643.3 805.7h0M664.4 812.6h0M648.0 840.5h0M665.0 809.3h0M667.6 822.9h0M654.4 838.6h0M650.1 834.1h0M640.7 835.5h0M643.1 813.6h0M648.8 808.7h0M642.2 830.6h0M637.5 816.0h0M676.1 823.0h0M650.5 807.7h0M640.6 838.6h0M666.9 823.4h0M659.5 808.2h0M639.1 818.2h0M664.3 805.6h0M655.6 840.0h0M642.1 814.3h0M639.2 827.3h0M667.2 814.5h0M669.2 817.9h0M641.3 828.8h0M649.7 834.4h0M643.3 811.9h0M644.0 829.0h0M647.9 802.2h0M670.5 811.3h0M670.4 819.9h0M643.7 808.7h0M649.4 845.7h0M660.6 833.9h0M648.5 835.5h0M640.9 822.1h0M642.0 814.2h0M658.5 834.5h0M673.6 810.6h0M656.4 807.6h0M641.4 817.3h0M647.5 804.2h0M646.3 808.2h0M641.3 830.4h0M639.4 820.5h0M670.2 802.9h0M639.8 819.6h0M664.7 813.9h0M648.8 836.6h0M666.9 813.6h0M643.6 811.2h0M664.5 830.0h0M645.8 800.8h0M642.3 834.1h0M648.4 837.2h0M668.0 832.2h0M647.7 836.7h0M662.4 838.1h0M668.1 826.1h0M661.7 834.7h0M648.4 843.4h0M642.8 827.5h0M661.2 807.9h0M644.4 830.0h0M631.4 822.8h0M676.1 823.2h0M650.2 804.8h0M646.1 837.5h0M651.5 837.8h0M636.8 808.7h0M672.5 832.2h0M667.2 806.4h0M635.9 834.0h0M669.5 824.8h0M638.1 824.5h0M671.3 831.8h0M640.6 822.3h0M642.9 829.7h0M666.8 826.0h0M661.3 802.6h0M646.1 808.2h0M666.7 829.9h0M669.7 822.8h0M640.3 824.2h0M661.8 805.6h0M644.0 811.4h0M642.5 802.5h0M668.7 815.7h0M657.0 840.3h0M638.2 817.2h0M662.0 836.2h0M665.2 828.2h0M660.7 810.2h0M669.5 814.4h0M662.4 809.8h0M673.5 813.8h0M667.5 807.9h0M649.2 798.0h0M664.4 812.5h0M656.3 808.3h0M660.8 843.0h0M634.7 822.2h0M639.6 826.5h0M639.9 824.5h0M663.9 813.1h0M675.3 808.5h0M666.2 836.3h0M667.2 827.1h0M663.4 834.3h0M670.1 817.7h0M648.4 833.1h0M638.7 811.3h0M661.6 810.3h0M655.9 838.3h0M661.6 810.9h0M663.2 833.8h0M637.7 806.3h0M638.0 822.6h0M666.5 829.2h0M663.9 832.9h0M667.5 835.3h0M649.6 835.5h0M654.0 807.0h0M668.7 820.9h0M643.3 830.1h0M668.0 839.7h0M674.4 824.4h0M657.6 835.6h0M638.9 825.7h0M648.5 833.5h0M668.4 833.7h0M645.6 810.0h0M642.6 832.0h0M665.3 809.9h0M661.7 807.1h0M648.7 809.5h0M648.8 832.9h0M676.0 816.7h0M668.5 823.6h0M655.8 841.6h0M632.1 822.3h0M656.5 807.0h0M669.1 822.4h0M637.7 835.4h0M642.2 827.8h0M640.0 824.0h0M645.4 833.6h0M638.7 812.9h0M666.6 832.5h0M647.7 799.8h0M671.8 830.0h0M671.0 828.9h0M666.1 842.1h0M678.2 822.5h0M656.1 840.4h0M648.4 836.0h0M657.7 835.6h0M666.3 830.2h0M666.5 839.2h0M667.1 808.4h0M660.5 801.9h0M638.5 821.9h0M642.1 828.9h0M658.3 837.2h0M648.2 844.7h0M646.3 806.1h0M642.4 807.3h0M663.6 837.3h0M648.0 832.9h0M667.4 814.2h0M666.7 809.6h0M640.7 823.8h0M650.2 836.5h0M640.9 819.5h0M666.4 816.3h0M664.9 806.3h0M664.0 808.1h0M639.0 829.4h0M670.9 829.5h0M643.8 831.3h0M639.6 819.4h0M670.8 828.6h0M669.7 816.7h0M677.0 822.4h0M638.8 807.0h0M636.8 805.2h0M667.5 827.0h0M646.7 833.4h0M661.3 834.3h0M667.4 831.1h0M639.2 822.6h0M665.5 828.1h0M658.5 837.7h0M663.0 808.3h0M638.0 818.8h0M673.2 815.7h0M644.0 829.9h0M644.8 809.1h0M666.3 798.7h0M663.9 805.7h0M653.2 804.9h0M634.9 813.1h0M673.8 818.7h0M651.4 834.2h0M649.7 833.8h0M674.3 814.4h0M668.2 818.0h0M636.4 815.3h0M653.9 839.9h0M643.2 830.7h0M659.8 841.6h0M638.6 814.3h0M644.6 832.4h0M665.6 834.0h0M668.1 830.2h0M639.7 822.5h0M646.9 806.0h0M643.0 833.9h0M651.1 834.2h0M667.7 842.4h0M647.2 805.4h0M648.1 836.8h0M641.6 826.9h0M642.7 802.7h0M652.9 837.1h0M661.9 834.4h0M667.0 812.6h0M668.7 824.2h0M652.2 807.6h0M632.8 835.5h0M660.0 837.3h0M657.0 800.6h0M663.6 832.3h0M671.4 814.6h0M653.1 797.4h0M655.3 802.4h0M659.8 834.9h0M668.6 813.6h0M655.2 803.4h0M653.5 806.7h0M632.2 826.9h0M656.5 805.6h0M641.6 811.3h0M675.7 816.7h0M669.5 838.8h0M655.1 838.7h0M663.1 807.3h0M652.7 802.9h0M661.7 837.9h0M640.7 819.6h0M660.4 799.5h0M636.1 815.3h0M643.4 829.7h0M646.0 810.0h0M638.7 824.6h0M637.6 821.8h0M637.3 812.4h0M667.6 826.0h0M641.2 825.3h0M643.2 808.5h0M659.9 833.2h0M664.3 812.6h0M656.7 837.1h0M654.9 805.7h0M669.7 820.1h0M638.8 823.7h0M646.9 842.2h0M669.7 820.1h0M658.8 807.2h0M644.4 810.8h0M661.0 806.3h0M666.9 823.2h0M664.8 844.0h0M665.4 808.9h0M644.8 809.8h0M645.1 811.4h0M662.3 836.9h0M640.6 818.5h0M639.6 820.4h0M649.4 806.9h0M632.0 815.1h0M647.5 800.8h0M638.8 811.4h0M654.2 807.9h0M660.1 803.7h0M646.3 833.6h0M658.7 802.7h0M651.5 834.1h0M662.7 835.9h0M663.7 834.4h0M633.2 826.4h0M638.2 823.5h0M669.9 828.2h0M664.0 808.0h0M641.0 826.2h0M640.2 810.0h0M656.5 803.1h0M666.1 831.5h0M661.5 807.0h0M628.5 815.0h0M643.4 810.1h0M659.9 809.2h0M636.6 835.3h0M668.6 824.3h0M653.7 807.3h0M658.7 841.8h0M641.9 827.0h0M648.6 836.6h0M648.4 837.8h0M662.7 808.9h0M646.5 832.3h0M655.2 802.1h0M668.3 833.1h0M663.8 811.6h0M647.2 809.5h0M646.5 831.7h0M636.5 824.5h0M653.2 802.7h0M634.3 822.7h0M645.4 804.5h0M671.3 822.3h0M668.6 828.9h0M666.5 826.0h0M666.9 812.8h0M637.0 818.4h0M628.3 823.9h0M659.9 840.8h0M661.8 809.2h0M630.8 820.1h0M644.5 833.8h0M662.8 835.2h0M668.9 815.2h0M650.1 843.4h0M649.7 807.0h0M663.7 833.4h0M641.6 836.9h0M640.6 813.7h0M655.0 838.2h0M643.2 802.4h0M659.7 843.2h0M640.2 815.6h0M649.2 833.2h0M655.7 837.6h0M670.0 824.1h0M641.2 831.2h0M655.1 806.8h0M642.4 839.9h0M667.6 814.4h0M643.8 840.3h0M639.9 838.3h0M648.8 841.0h0M640.8 824.2h0M674.3 817.7h0M666.9 826.8h0M650.6 837.4h0M668.4 826.3h0M638.6 817.6h0M655.9 808.6h0M640.8 808.6h0M641.8 840.7h0M636.2 815.2h0M670.8 810.5h0M666.1 808.3h0M650.3 835.3h0M665.7 832.0h0M662.1 810.4h0M652.4 839.5h0M654.1 800.5h0M652.5 842.7h0M648.6 807.3h0M664.9 811.6h0M642.3 813.9h0M667.2 828.4h0M670.0 822.1h0M645.2 836.0h0M676.9 832.7h0M665.6 830.6h0M641.4 829.6h0M660.2 810.2h0M658.0 800.8h0M657.7 808.0h0M664.5 813.8h0M655.8 846.7h0M644.7 839.2h0M634.5 805.8h0M670.2 824.3h0M668.5 832.9h0M639.1 808.7h0M656.8 805.1h0M649.3 808.7h0M663.5 806.6h0M665.7 814.8h0M666.8 836.2h0M663.8 834.8h0M670.2 833.7h0M658.0 808.0h0M659.0 797.7h0M650.1 846.0h0M656.1 837.1h0M659.8 833.9h0M672.9 825.6h0M648.5 835.7h0M666.0 805.9h0M650.4 802.3h0M661.7 800.4h0M672.5 819.6h0M645.5 811.1h0M635.4 827.2h0M636.4 832.7h0M641.1 820.8h0M667.0 811.7h0M673.3 831.0h0M673.2 813.2h0M666.8 827.3h0M656.6 803.0h0M670.8 810.4h0M653.9 801.3h0M656.2 843.0h0M653.4 804.6h0M636.6 824.3h0M661.0 804.6h0M658.6 841.3h0M640.4 818.7h0M670.7 803.0h0M666.9 827.3h0M645.5 833.3h0M643.4 833.1h0M663.5 811.7h0M643.0 829.3h0M643.5 811.4h0M655.3 798.1h0M659.3 806.5h0M656.0 835.3h0M651.7 843.7h0M637.0 813.0h0M654.5 799.9h0M649.0 808.5h0M661.1 834.1h0M648.2 809.7h0M656.1 837.8h0M641.2 825.1h0M652.6 837.9h0M643.7 804.8h0M668.5 824.6h0M668.3 816.2h0M667.2 828.4h0M634.9 824.8h0M651.6 804.6h0M644.3 810.4h0M646.0 809.7h0M666.5 837.1h0M665.1 812.7h0M672.5 838.4h0M642.7 828.6h0M645.9 807.0h0M639.8 824.0h0M640.9 823.2h0M643.9 831.5h0M660.0 809.3h0M656.1 804.7h0M649.7 833.9h0M649.9 839.5h0M661.5 834.6h0M650.1 844.3h0M660.6 837.2h0M666.9 823.1h0M645.3 832.4h0M644.8 838.6h0M669.7 824.9h0M669.3 805.3h0M637.5 827.7h0M658.6 801.2h0M643.6 802.2h0M669.0 806.8h0M673.2 825.0h0M669.2 817.0h0M667.5 835.6h0M656.4 834.8h0M661.0 836.8h0M674.4 832.3h0M674.8 814.2h0M670.5 819.1h0M669.3 825.9h0M669.9 822.1h0M662.8 834.2h0M673.0 826.0h0M659.1 834.9h0M641.6 832.3h0M663.6 839.9h0M640.4 840.3h0M657.5 807.0h0M669.4 822.5h0M641.3 809.3h0M644.7 830.3h0M643.6 833.9h0M667.6 809.7h0M666.9 828.8h0M650.8 808.4h0M649.2 809.2h0M640.9 835.9h0M642.2 831.1h0M638.1 822.4h0M671.5 815.2h0M668.6 831.7h0M660.5 807.4h0M636.4 814.5h0M668.3 832.5h0M638.8 818.6h0M675.2 821.2h0M654.5 803.1h0M666.6 817.3h0M667.9 835.9h0M666.7 814.8h0M641.7 827.8h0M639.0 832.1h0M667.3 813.7h0M639.0 826.0h0M650.3 805.9h0M644.4 812.6h0M639.3 814.0h0M663.6 831.2h0M664.6 838.8h0M643.5 811.7h0M652.5 835.0h0M660.3 801.5h0M644.8 830.8h0M676.5 831.8h0M650.4 807.2h0M642.0 836.9h0M660.7 840.6h0M668.8 822.4h0M640.3 811.7h0M652.1 840.0h0M666.0 813.2h0M668.6 810.4h0M656.0 834.7h0M659.6 835.2h0M642.6 840.0h0M653.3 807.6h0M671.3 819.3h0M642.5 811.9h0M655.0 836.4h0M664.3 830.7h0M641.9 805.3h0M634.2 816.9h0M645.4 809.8h0M655.0 840.5h0M644.2 832.7h0M644.2 830.7h0M642.5 838.9h0M661.1 802.6h0M652.4 807.5h0M656.0 806.1h0M669.9 822.4h0M639.1 819.9h0M632.6 821.5h0M662.3 809.6h0M668.9 827.3h0M636.9 834.3h0M664.7 838.5h0M655.4 805.2h0M640.8 819.5h0M667.5 813.3h0M631.5 828.6h0M640.8 826.1h0M660.9 806.7h0M665.3 832.5h0M631.6 819.4h0M635.8 820.6h0M644.8 804.4h0M651.1 837.8h0M674.9 820.3h0M646.1 837.7h0M656.8 840.1h0M666.2 826.5h0M650.2 834.6h0M667.6 830.5h0M667.5 814.2h0M665.3 809.7h0M631.6 832.8h0M645.2 836.7h0M645.8 810.3h0M673.3 817.7h0M674.4 810.6h0M644.5 834.7h0M671.4 808.1h0M632.2 818.3h0M638.0 802.1h0M669.1 827.7h0M643.6 812.2h0M668.0 823.6h0M666.9 824.0h0M646.4 832.7h0M666.2 813.9h0M651.9 835.8h0M653.1 836.6h0M634.4 812.5h0M651.8 807.7h0M636.1 815.0h0M633.9 820.9h0M647.7 809.7h0M667.1 836.2h0M639.0 817.0h0M652.6 805.9h0M667.0 819.3h0M670.8 828.2h0M640.2 817.3h0M639.9 827.2h0M644.0 808.6h0M651.0 841.8h0M667.7 817.8h0M666.5 829.2h0M643.9 837.8h0M664.1 832.1h0M641.4 818.4h0M641.2 823.6h0M666.1 826.9h0M659.0 806.7h0M654.0 808.3h0M653.3 837.1h0M648.9 834.2h0M651.6 838.3h0M654.8 838.5h0M650.7 805.1h0M676.1 823.0h0M639.8 819.9h0M632.1 822.9h0M637.5 833.6h0M672.8 814.9h0M643.6 813.0h0M663.8 809.0h0M649.1 802.6h0M652.0 834.5h0M667.3 824.8h0M669.9 820.0h0M648.4 840.9h0M654.2 837.7h0M639.7 813.6h0M637.3 820.4h0M641.4 828.3h0M666.4 811.2h0M677.4 816.4h0M637.2 829.4h0M639.0 812.3h0M662.1 808.7h0M658.7 838.7h0M646.1 834.1h0M640.8 831.7h0M648.9 840.4h0M667.6 820.4h0M677.7 820.2h0M647.7 804.9h0M669.5 837.0h0M668.5 804.0h0M655.2 805.5h0M633.9 816.3h0M663.8 840.0h0M658.2 802.9h0M654.0 806.9h0M666.7 832.9h0M647.7 834.8h0M636.9 831.9h0M670.0 822.5h0M652.1 840.6h0M644.4 810.7h0M646.7 834.0h0M640.6 830.5h0M648.2 835.1h0M632.9 829.0h0M642.4 812.7h0M647.1 808.4h0M670.4 827.1h0M671.1 839.2h0M653.0 836.0h0M657.1 808.1h0M641.2 822.4h0M656.0 808.2h0M663.8 844.9h0M641.1 823.3h0M654.0 840.9h0M654.8 835.0h0M641.7 809.7h0M635.9 814.6h0M658.6 809.4h0M670.9 825.7h0M657.2 836.5h0M672.4 821.9h0M640.5 812.3h0M654.6 840.7h0M658.9 838.0h0M642.6 828.9h0M644.6 831.7h0M660.6 837.3h0M645.9 809.7h0M641.3 826.7h0M658.0 799.8h0M664.2 807.7h0M634.8 825.0h0M656.5 834.7h0M640.2 809.2h0M667.3 818.2h0M645.1 811.5h0M657.4 838.3h0M664.8 808.7h0M656.9 808.9h0M667.3 804.7h0M669.6 822.9h0M646.9 796.9h0M641.6 834.4h0M637.4 819.6h0M653.5 836.2h0M672.2 820.3h0M663.2 808.4h0M659.9 834.2h0M637.2 813.5h0M662.8 833.3h0M647.7 832.6h0M655.9 844.0h0M636.8 827.6h0M646.5 837.5h0M669.2 820.1h0M653.8 844.4h0M668.1 815.5h0M646.7 836.3h0M663.6 810.7h0M640.6 816.9h0M654.4 844.8h0M673.2 811.3h0M656.6 807.8h0M643.6 832.5h0M654.4 838.6h0M637.7 818.4h0M669.3 822.3h0M660.1 833.7h0M653.8 806.9h0M657.6 837.6h0M655.9 804.1h0M653.1 834.0h0M654.2 806.0h0M641.2 813.1h0M659.8 833.2h0M669.8 814.1h0M653.0 839.8h0M671.5 826.7h0M662.6 835.1h0M640.8 807.5h0M652.6 807.4h0M637.5 818.9h0M659.9 804.8h0M638.0 825.2h0M637.7 824.1h0M642.9 828.4h0M642.3 811.4h0M654.2 836.3h0M649.4 800.1h0M647.0 833.9h0M643.5 802.3h0M648.5 835.3h0M643.2 803.3h0M661.9 837.1h0M664.6 803.8h0M653.9 841.3h0M668.1 825.4h0M667.4 825.5h0M670.6 831.1h0M674.5 825.7h0M634.0 821.7h0M641.1 830.4h0M647.9 833.3h0M644.8 810.9h0M663.5 807.0h0M664.4 809.7h0M671.4 815.6h0M667.2 826.4h0M655.5 807.0h0M657.4 804.7h0M650.1 836.4h0M661.9 810.8h0M656.2 834.2h0M641.6 826.3h0M665.5 813.5h0M659.4 805.8h0M639.5 804.1h0M658.6 833.8h0M674.0 818.9h0M663.5 808.9h0M666.8 829.7h0M639.6 814.7h0M646.6 834.7h0M666.4 814.2h0M669.1 818.6h0M650.0 834.8h0M673.2 834.4h0M670.0 826.4h0M649.9 808.9h0M658.8 835.2h0M639.3 804.6h0M663.8 834.7h0M653.2 835.0h0M666.8 837.3h0M642.3 810.9h0M643.7 812.5h0M650.1 808.2h0M655.0 804.0h0M646.8 840.5h0M677.6 815.0h0M644.1 804.3h0M654.9 806.4h0M643.1 810.2h0M637.1 814.1h0M651.5 801.9h0M670.3 824.2h0M665.5 835.8h0M669.5 821.1h0M645.4 811.1h0M664.4 805.6h0M657.4 807.3h0M638.7 827.3h0M662.0 834.0h0M638.4 811.5h0M637.8 821.2h0M670.6 835.3h0M664.8 804.3h0M661.7 835.5h0M639.3 823.2h0M636.4 821.6h0M641.0 828.4h0M641.5 817.2h0M661.8 809.8h0M642.1 811.8h0M668.7 832.0h0M671.1 815.5h0M644.6 805.2h0M633.9 819.1h0M665.5 841.3h0M643.9 811.5h0M667.0 827.8h0M668.3 820.2h0M665.7 830.0h0M653.9 805.7h0M657.0 807.5h0M643.2 831.2h0M669.0 826.4h0M662.5 810.1h0M670.5 814.2h0M649.3 803.1h0M668.2 816.0h0M655.8 803.2h0M668.2 808.5h0M634.1 826.0h0M641.5 823.8h0M661.3 803.2h0M652.4 804.9h0M657.3 838.4h0M654.5 806.6h0M670.5 818.9h0M669.4 829.7h0M634.0 818.3h0M640.7 821.2h0M648.4 805.0h0M666.2 816.0h0M668.6 823.1h0M637.6 806.7h0M640.6 809.1h0M665.4 810.3h0M645.5 804.8h0M633.7 828.8h0M643.1 828.2h0M640.0 820.7h0M647.1 832.5h0M667.7 830.9h0M662.2 805.6h0M668.2 833.0h0M671.5 815.7h0M655.3 836.0h0M647.3 837.6h0M651.2 841.3h0M648.4 800.0h0M650.0 800.0h0M632.9 824.0h0M656.3 805.5h0M667.6 824.3h0M660.0 796.4h0M659.2 806.6h0M668.8 810.9h0M640.1 816.0h0M669.2 814.7h0M666.9 819.3h0M644.6 831.3h0M643.9 810.3h0M670.9 814.4h0M640.7 819.2h0M634.9 819.4h0M662.4 811.6h0M655.7 835.2h0M656.4 807.3h0M630.9 819.5h0M663.7 839.3h0M663.6 834.6h0M643.1 831.3h0M650.2 796.9h0M643.8 806.6h0M644.8 834.8h0M645.1 830.6h0M665.4 832.4h0M628.6 820.4h0M643.1 812.1h0M648.8 806.2h0M637.0 812.0h0M646.6 810.8h0M644.6 808.6h0M663.5 834.5h0M670.2 828.2h0M666.8 812.0h0M635.5 832.0h0M658.3 799.6h0M650.6 805.7h0M654.2 808.6h0M642.4 804.7h0M644.9 809.0h0M640.6 809.5h0M639.4 831.6h0M669.6 820.0h0M654.8 834.7h0M645.4 835.9h0M636.7 821.7h0M671.8 815.6h0M638.1 826.6h0M639.3 830.7h0M646.5 810.4h0M656.2 838.5h0M640.1 830.3h0M648.4 839.7h0M640.2 821.3h0M639.9 824.9h0M666.9 825.3h0M659.5 835.8h0M664.2 808.0h0M659.1 801.2h0M662.8 831.6h0M648.1 833.3h0M649.7 834.7h0M636.0 827.2h0M643.1 799.2h0M666.2 813.3h0M658.2 837.1h0M653.6 836.3h0M641.5 813.7h0M652.0 835.8h0M651.7 834.4h0M646.6 804.3h0M665.1 800.9h0M662.4 806.4h0M668.1 836.1h0M672.1 814.2h0M651.0 836.1h0M644.5 830.3h0M668.7 837.9h0M663.0 833.0h0M657.9 806.9h0M650.2 840.2h0M643.6 830.4h0M656.0 835.9h0M654.8 835.2h0M673.8 834.7h0M674.0 828.0h0M643.6 804.3h0M634.5 819.5h0M669.8 815.8h0M666.0 837.5h0M667.5 835.1h0M670.8 820.5h0M663.4 808.6h0M647.7 804.3h0M671.7 818.3h0M655.3 807.4h0M665.8 834.5h0M669.6 812.4h0M666.8 809.9h0M648.5 799.9h0M671.7 828.6h0M635.0 805.7h0M665.5 831.5h0M672.3 829.2h0M660.2 809.2h0M667.1 831.7h0M670.7 817.3h0M643.4 840.0h0M665.3 828.2h0M655.3 835.8h0M647.9 809.2h0M638.7 819.5h0M638.7 828.3h0M639.1 823.9h0M666.2 835.8h0M651.6 835.1h0M645.1 836.3h0M665.9 814.1h0M668.6 821.6h0M657.5 834.2h0M665.3 836.1h0M653.1 801.6h0M666.3 837.1h0M632.5 817.2h0M661.5 802.4h0M664.8 830.1h0M654.7 834.5h0M645.8 832.8h0M646.6 810.3h0M641.0 825.0h0M637.2 802.4h0M640.9 833.2h0M641.4 817.4h0M659.9 805.8h0M666.6 814.7h0M641.9 827.0h0M640.9 833.7h0M642.3 804.9h0M669.4 824.0h0M668.1 805.0h0M655.2 835.3h0M666.3 815.4h0M649.7 802.6h0M669.3 811.0h0M663.5 834.9h0M644.5 811.1h0M640.4 819.2h0M670.2 841.9h0M661.8 831.8h0M667.5 825.1h0M644.8 807.7h0M642.6 811.7h0M671.4 837.7h0M674.7 827.7h0M639.5 824.3h0M635.0 819.0h0M640.1 806.1h0M652.5 835.2h0M668.4 816.3h0M636.2 815.5h0M642.1 833.0h0M642.0 828.4h0M668.2 821.3h0M665.0 835.8h0M675.2 834.1h0M668.7 830.1h0M643.7 836.5h0M644.4 833.2h0M644.6 810.0h0M650.2 835.5h0M639.3 816.6h0M661.2 833.8h0M650.7 837.1h0M666.1 832.5h0M664.9 814.3h0M663.9 809.3h0M657.3 834.0h0M646.7 799.6h0M657.5 839.3h0M661.1 834.4h0M639.7 824.0h0M667.9 817.5h0M671.6 820.1h0M668.6 821.7h0M669.4 811.7h0M649.6 835.2h0M657.4 808.8h0M663.6 809.7h0M635.9 812.1h0M674.3 822.4h0M655.4 838.2h0M671.3 825.4h0M632.3 819.1h0M651.2 833.9h0M635.4 830.8h0M664.1 831.2h0M658.8 807.9h0M656.4 835.3h0M671.7 819.6h0M651.7 837.9h0M639.8 820.4h0M634.6 821.6h0M675.6 831.4h0M654.4 834.8h0M665.8 812.3h0M640.7 830.6h0M660.6 809.0h0M657.1 837.1h0M664.5 836.8h0M670.6 818.5h0M668.0 810.7h0M655.5 805.8h0M655.4 838.1h0M661.7 843.1h0M667.6 826.8h0M658.0 837.2h0M642.9 827.5h0M662.5 807.5h0M655.5 807.0h0M668.0 816.1h0M641.4 813.2h0M640.4 814.0h0M633.9 818.2h0M666.0 809.5h0M661.3 838.1h0M655.2 801.8h0M646.2 808.1h0M666.0 812.4h0M667.6 829.2h0M667.2 824.3h0M667.8 831.2h0M662.7 832.0h0M644.6 812.2h0M641.1 812.5h0M645.5 806.0h0M667.0 803.4h0M640.4 826.9h0M659.9 834.6h0M662.7 798.8h0M640.3 831.8h0M667.4 814.7h0M666.6 815.3h0M669.1 813.4h0M641.1 818.8h0M667.5 828.6h0M645.1 811.7h0M659.5 806.1h0M643.5 832.4h0M649.7 808.2h0M665.5 810.8h0M662.1 832.8h0M659.3 834.5h0M667.3 827.8h0M640.2 820.9h0M677.4 818.6h0M642.2 807.2h0M642.9 831.9h0M634.1 819.9h0M668.6 826.1h0M644.5 810.4h0M645.2 840.4h0M640.7 819.9h0M648.9 807.7h0M658.2 805.4h0M667.0 820.9h0M649.8 836.6h0M661.1 808.3h0M661.0 835.1h0M639.6 824.1h0M644.4 806.6h0M666.3 829.7h0M643.9 804.6h0M666.6 809.2h0M642.8 812.3h0M659.4 835.6h0M645.2 831.1h0M648.9 802.2h0M637.1 829.1h0M672.0 819.7h0M651.3 840.0h0M661.1 810.7h0M655.4 802.7h0M668.2 815.6h0M668.0 830.0h0M661.4 834.2h0M667.6 826.7h0M665.7 815.3h0M647.8 839.0h0M642.9 827.6h0M647.8 804.1h0M659.7 805.5h0M638.5 826.1h0M669.5 821.5h0M673.0 823.5h0M650.4 835.8h0M670.2 830.9h0M661.5 800.6h0M656.7 798.7h0M641.6 843.4h0M643.8 803.6h0M637.9 812.9h0M641.6 826.0h0M642.1 829.1h0M651.5 841.7h0M637.0 823.4h0M669.2 822.8h0M654.8 838.8h0M653.5 834.4h0M642.5 835.1h0M643.4 834.7h0M665.6 811.4h0M662.1 804.7h0M662.7 832.8h0M644.7 802.0h0M667.2 827.8h0M664.7 812.6h0M671.5 814.7h0M652.1 802.4h0M641.1 825.0h0M659.0 833.6h0M665.9 842.1h0M639.8 813.3h0M638.5 816.6h0M657.5 839.1h0M652.2 836.2h0M667.2 824.4h0M663.7 811.8h0M654.5 836.0h0M664.8 829.2h0M651.5 804.9h0M670.2 833.9h0M669.8 813.6h0M653.5 834.0h0M639.7 810.5h0M637.1 821.7h0M642.8 831.7h0M645.2 809.8h0M667.8 820.5h0M644.3 808.2h0M638.8 806.5h0M638.9 813.1h0M638.8 813.0h0M666.6 829.1h0M658.4 808.0h0M669.9 828.0h0M654.7 836.3h0M667.8 825.8h0M646.6 832.6h0M664.4 800.8h0M643.7 812.9h0M637.4 828.1h0M657.8 834.4h0M645.6 831.1h0M637.1 817.8h0M638.3 825.2h0M648.4 808.6h0M666.2 816.6h0M667.6 825.1h0M668.7 829.6h0M667.1 827.1h0M665.4 813.2h0M666.0 827.6h0M641.8 806.3h0M640.8 817.5h0M640.3 810.3h0M651.7 835.3h0M637.9 836.1h0M663.3 812.5h0M637.5 826.3h0M636.3 810.9h0M642.6 814.8h0M668.6 821.9h0M636.3 815.9h0M659.6 839.2h0M637.2 813.5h0M647.7 833.9h0M649.3 839.9h0M672.0 808.1h0M636.8 833.9h0M635.0 818.7h0M650.5 808.1h0M662.8 831.0h0M646.9 832.6h0M651.3 805.1h0M645.5 809.3h0M658.0 833.9h0M639.5 822.3h0M664.5 808.6h0M667.7 821.8h0M641.3 798.3h0M589.0 882.1h0M587.2 876.0h0M584.5 861.9h0M585.5 872.0h0M613.5 861.6h0M610.6 854.2h0M611.5 871.5h0M622.7 866.1h0M585.8 879.9h0M603.3 852.6h0M617.6 875.9h0M618.6 857.5h0M595.3 844.8h0M585.2 859.8h0M600.5 879.9h0M595.0 842.8h0M580.0 862.4h0M578.2 871.7h0M574.6 860.9h0M587.8 877.3h0M588.1 880.2h0M616.7 881.2h0M608.7 871.4h0M608.0 877.1h0M600.1 879.5h0M607.0 886.4h0M607.6 881.1h0M583.2 873.3h0M611.9 858.6h0M601.0 851.1h0M597.8 847.8h0M604.3 877.4h0M584.3 863.4h0M599.9 851.1h0M613.2 857.5h0M596.6 877.6h0M589.4 874.3h0M612.7 861.9h0M607.3 877.0h0M602.5 845.9h0M615.0 874.4h0M601.2 886.6h0M609.8 869.4h0M603.4 878.5h0M595.0 876.8h0M579.9 861.8h0M607.3 881.2h0M608.3 872.5h0M608.9 876.3h0M614.3 867.2h0M606.6 840.9h0M611.8 864.6h0M584.9 848.2h0M575.5 863.0h0M581.9 862.1h0M595.4 878.3h0M585.0 855.3h0M600.5 851.5h0M602.2 849.1h0M587.7 846.1h0M591.1 877.9h0M597.5 851.4h0M578.4 863.4h0M584.6 866.6h0M585.2 870.8h0M606.2 850.9h0M584.1 870.7h0M612.4 869.4h0M611.1 867.1h0M589.7 849.4h0M595.6 848.3h0M610.5 867.5h0M584.5 854.4h0M605.3 852.4h0M607.7 851.0h0M584.7 849.9h0M584.2 878.5h0M587.3 879.1h0M601.1 851.6h0M583.1 862.1h0M614.7 851.1h0M603.9 879.3h0M605.9 875.0h0M612.8 868.2h0M611.3 842.7h0M611.1 857.1h0M596.4 845.1h0M610.1 854.3h0M606.6 850.8h0M580.0 867.0h0M605.5 879.0h0M603.9 845.1h0M611.4 868.6h0M599.1 850.2h0M581.5 865.2h0M606.7 848.8h0M608.8 856.8h0M609.9 843.6h0M611.7 872.3h0M607.2 874.1h0M582.9 859.9h0M609.3 884.0h0M579.2 865.5h0M614.2 864.8h0M583.9 859.7h0M579.8 871.6h0M591.9 852.2h0M589.4 852.3h0M588.4 879.8h0M599.6 878.4h0M613.3 863.2h0M594.9 881.1h0M592.7 849.9h0M611.4 872.7h0M586.3 856.6h0M595.0 878.0h0M591.2 880.7h0M615.7 864.5h0M613.0 869.1h0M602.0 846.1h0M603.8 878.7h0M599.7 876.8h0M596.6 846.7h0M615.1 857.0h0M598.8 883.6h0M583.6 862.3h0M591.9 875.1h0M596.7 879.1h0M597.9 843.3h0M600.5 887.8h0M576.8 858.5h0M582.9 868.1h0M594.1 881.2h0M591.1 875.2h0M584.6 864.8h0M610.2 877.0h0M580.3 860.1h0M593.9 877.2h0M603.5 852.5h0M598.0 881.4h0M604.4 844.2h0M604.8 852.3h0M576.9 866.0h0M610.3 862.3h0M578.5 865.8h0M596.0 839.1h0M610.2 853.1h0M582.5 866.2h0M603.8 848.7h0M595.9 876.9h0M609.6 881.3h0M612.7 856.6h0M615.7 867.0h0M579.8 867.0h0M594.5 876.4h0M610.2 866.8h0M600.6 849.8h0M584.4 857.1h0M609.0 855.1h0M582.6 876.6h0M584.0 862.3h0M583.0 865.7h0M606.5 879.2h0M610.8 856.1h0M591.3 880.3h0M576.8 858.5h0M594.5 883.6h0M588.7 849.1h0M606.8 874.8h0M604.1 875.2h0M597.7 879.9h0M582.6 868.6h0M584.8 852.2h0M603.8 853.1h0M574.2 852.7h0M583.1 867.1h0M578.7 855.0h0M588.1 849.2h0M583.4 862.2h0M604.8 882.4h0M582.5 872.3h0M603.9 852.8h0M616.7 860.9h0M589.1 848.6h0M595.0 851.1h0M611.7 851.6h0M589.9 875.8h0M578.6 859.4h0M593.1 847.9h0M603.5 852.1h0M606.8 874.1h0M616.6 870.4h0M577.9 862.0h0M602.2 878.4h0M578.5 872.3h0M608.6 874.3h0M614.0 864.0h0M585.8 875.2h0M596.3 881.3h0M608.8 852.3h0M616.1 855.4h0M609.5 855.2h0M583.6 866.9h0M590.8 849.6h0M619.6 857.5h0M585.5 857.7h0M583.6 858.6h0M579.4 863.6h0M581.1 864.0h0M589.7 851.7h0M589.3 854.0h0M583.9 865.2h0M616.8 863.9h0M595.0 851.1h0M578.7 867.5h0M596.3 878.7h0M610.1 869.5h0M594.5 877.5h0M608.9 876.7h0M604.0 850.5h0M588.5 872.5h0M584.4 874.8h0M612.9 864.7h0M584.9 859.5h0M587.7 875.2h0M590.6 877.8h0M592.1 851.6h0M601.8 845.9h0M599.1 885.7h0M588.7 875.2h0M610.0 855.9h0M584.8 855.1h0M599.4 847.2h0M589.4 876.0h0M583.2 878.8h0M596.8 876.8h0M614.2 877.4h0M598.2 848.0h0M580.2 876.7h0M584.3 876.7h0M586.3 874.3h0M585.7 870.0h0M609.2 855.7h0M608.4 874.8h0M593.9 879.0h0M585.3 860.6h0M594.2 844.9h0M610.9 863.5h0M597.6 877.2h0M608.9 856.2h0M580.8 869.9h0M586.0 858.1h0M590.2 851.2h0M597.7 885.7h0M612.5 861.4h0M593.1 878.6h0M589.4 883.7h0M613.4 868.2h0M597.1 881.3h0M587.8 877.3h0M612.4 862.5h0M590.4 853.1h0M617.2 868.2h0M611.3 874.1h0M580.1 857.3h0M603.5 846.8h0M584.1 868.4h0M609.3 882.3h0M587.5 855.4h0M611.8 864.2h0M608.4 856.8h0M582.4 869.7h0M583.9 860.3h0M610.0 868.7h0M601.8 878.1h0M601.4 879.5h0M595.6 877.0h0M617.4 855.7h0M613.2 866.5h0M583.8 854.3h0M584.8 866.7h0M608.6 871.6h0M614.7 871.1h0M604.2 853.4h0M604.9 877.7h0M614.7 859.2h0M607.4 852.3h0M584.9 878.2h0M611.4 852.3h0M615.6 858.8h0M608.5 856.6h0M604.1 847.9h0M603.7 852.0h0M620.4 868.9h0M605.3 850.9h0M609.1 872.8h0M613.4 864.3h0M581.2 868.5h0M582.1 857.6h0M604.1 849.4h0M600.3 846.4h0M589.8 847.7h0M583.3 862.5h0M613.4 859.4h0M597.9 847.3h0M593.1 851.4h0M611.2 864.3h0M594.0 879.0h0M587.7 855.9h0M584.3 875.4h0M595.0 879.6h0M597.0 879.4h0M607.9 853.3h0M617.1 854.6h0M610.4 860.3h0M603.2 878.2h0M614.5 866.8h0M594.7 876.8h0M589.9 874.4h0M597.6 877.2h0M612.8 857.4h0M603.9 875.8h0M583.0 863.5h0M583.6 858.0h0M610.5 860.4h0M604.0 877.8h0M580.4 850.2h0M593.3 876.6h0M576.3 862.5h0M594.7 842.6h0M600.3 879.6h0M602.8 877.5h0M580.6 868.7h0M590.1 879.8h0M604.6 853.5h0M605.9 877.0h0M583.3 850.7h0M582.2 858.8h0M610.5 863.1h0M610.8 871.9h0M613.0 867.3h0M605.0 849.5h0M588.2 872.5h0M585.8 875.5h0M590.7 852.7h0M585.2 867.6h0M596.0 878.3h0M610.4 861.1h0M619.0 866.8h0M610.0 877.3h0M580.3 849.3h0M589.8 852.4h0M607.4 854.0h0M617.3 866.1h0M612.5 845.7h0M578.9 861.9h0M581.3 871.2h0M577.4 865.7h0M613.8 855.6h0M595.4 850.7h0M596.5 849.6h0M616.3 859.8h0M609.8 850.6h0M584.3 853.0h0M583.0 859.8h0M609.6 857.4h0M610.2 860.4h0M584.8 862.9h0M612.8 861.0h0M600.1 850.8h0M612.3 861.1h0M610.9 851.0h0M593.1 886.2h0M611.0 866.8h0M596.0 881.5h0M595.2 876.9h0M582.7 859.8h0M614.9 872.5h0M611.8 859.4h0M616.3 859.0h0M594.0 877.0h0M593.4 851.1h0M587.3 880.5h0M608.7 880.5h0M582.8 856.7h0M604.6 853.2h0M607.2 878.0h0M610.6 870.8h0M596.3 848.2h0M591.9 852.5h0M582.4 865.8h0M595.2 850.1h0M583.2 863.4h0M588.8 878.2h0M578.7 868.1h0M592.3 843.3h0M618.1 870.1h0M582.7 865.5h0M607.5 884.5h0M605.0 852.4h0M596.8 879.9h0M591.2 882.6h0M603.5 881.7h0M609.1 883.6h0M607.8 872.2h0M581.9 868.5h0M614.2 868.7h0M602.1 852.2h0M583.2 860.8h0M607.9 887.5h0M609.2 856.7h0M584.3 860.5h0M585.3 857.5h0M591.8 882.8h0M587.9 876.4h0M598.9 881.5h0M614.2 863.3h0M616.1 864.5h0M586.7 853.3h0M603.4 850.3h0M611.3 858.8h0M610.3 877.1h0M573.8 854.5h0M584.3 872.0h0M610.9 871.2h0M616.1 867.8h0M608.6 871.0h0M610.5 864.9h0M614.6 858.7h0M582.7 869.9h0M588.1 843.0h0M581.8 857.5h0M591.5 850.6h0M609.7 850.3h0M611.0 864.9h0M604.7 876.5h0M583.6 876.1h0M611.9 865.2h0M579.7 863.3h0M594.6 876.8h0M588.7 876.0h0M590.8 846.6h0M585.8 857.2h0M610.1 858.6h0M584.6 859.1h0M609.7 853.4h0M617.1 866.0h0M597.5 850.8h0M614.3 860.8h0M610.8 861.1h0M610.9 846.5h0M583.1 859.8h0M582.6 870.3h0M592.8 852.3h0M588.8 848.2h0M584.6 879.8h0M609.9 860.2h0M604.6 853.7h0M583.4 858.6h0M607.7 878.2h0M590.4 877.4h0M596.2 847.3h0M599.7 850.0h0M607.6 874.5h0M604.4 880.5h0M590.9 877.3h0M578.0 856.7h0M612.6 857.5h0M605.8 874.6h0M596.7 851.7h0M615.1 881.4h0M620.2 867.1h0M585.4 858.0h0M607.5 856.4h0M609.5 857.2h0M611.8 870.8h0M591.6 852.2h0M591.7 850.2h0M591.1 875.0h0M608.8 872.2h0M585.6 857.0h0M616.0 871.4h0M600.6 848.0h0M585.7 870.0h0M602.0 841.9h0M590.9 851.2h0M608.4 852.4h0M597.9 850.5h0M597.9 850.5h0M597.3 876.9h0M589.6 846.2h0M614.6 856.2h0M606.1 873.9h0M588.1 887.1h0M586.4 853.0h0M579.8 859.6h0M583.8 873.9h0M597.4 877.8h0M595.4 850.3h0M611.4 859.0h0M610.3 868.8h0M584.9 864.5h0M582.6 863.2h0M590.4 876.5h0M585.4 867.7h0M584.2 862.7h0M606.1 878.3h0M614.1 872.7h0M614.2 867.1h0M614.6 871.2h0M619.2 860.8h0M609.4 858.6h0M616.4 873.5h0M603.7 880.4h0M613.9 859.1h0M580.4 855.9h0M593.1 852.2h0M581.0 872.9h0M615.9 872.7h0M585.8 856.1h0M592.8 849.6h0M584.6 869.4h0M610.4 873.3h0M586.1 858.4h0M588.7 873.4h0M599.2 849.1h0M584.2 864.1h0M593.4 849.3h0M587.4 855.9h0M601.1 851.5h0M613.5 859.2h0M602.4 841.3h0M610.3 854.4h0M605.5 876.5h0M609.7 856.9h0M581.8 859.4h0M607.0 873.2h0M591.4 849.6h0M586.8 857.4h0M587.7 875.6h0M584.8 857.1h0M579.9 853.6h0M595.5 884.8h0M613.8 863.0h0M608.6 874.3h0M613.9 875.6h0M615.3 869.1h0M602.5 879.2h0M620.0 869.6h0M579.1 859.9h0M603.8 885.5h0M609.4 857.1h0M604.0 876.7h0M583.8 864.1h0M598.9 849.0h0M612.2 870.8h0M582.1 866.1h0M615.2 862.6h0M596.9 849.8h0M584.2 865.0h0M591.8 877.4h0M614.5 879.4h0M585.0 867.2h0M598.8 884.4h0M610.3 860.7h0M602.4 877.1h0M610.9 863.4h0M586.7 855.4h0M603.7 852.2h0M587.8 878.1h0M593.6 849.6h0M591.0 850.6h0M587.1 877.9h0M607.4 872.9h0M589.9 850.6h0M610.7 855.9h0M596.0 850.9h0M605.9 877.4h0M590.9 875.0h0M577.1 861.2h0M611.4 858.8h0M591.7 846.7h0M590.1 880.1h0M605.4 874.8h0M598.2 850.2h0M581.2 869.7h0M588.3 873.9h0M610.2 872.9h0M589.6 879.6h0M594.5 877.4h0M583.3 860.7h0M582.8 869.4h0M610.4 877.9h0M610.9 851.8h0M584.1 864.5h0M588.7 844.4h0M614.8 859.7h0M584.0 863.4h0M583.7 873.6h0M589.9 879.0h0M585.2 860.1h0M600.8 879.9h0M611.5 864.7h0M578.2 855.2h0M599.9 878.2h0M582.2 855.1h0M595.7 884.5h0M590.1 875.1h0M589.5 873.6h0M603.7 877.0h0M617.0 859.2h0M602.7 848.2h0M589.9 875.3h0M585.2 879.4h0M575.4 876.5h0M585.8 873.1h0M589.9 874.2h0M583.0 879.0h0M581.1 853.7h0M588.3 875.6h0M614.2 873.9h0M588.6 853.2h0M611.1 875.9h0M591.1 846.8h0M586.4 875.0h0M590.9 850.9h0M611.5 863.0h0M591.5 877.3h0M588.8 852.9h0M578.2 868.3h0M596.7 880.1h0M614.9 874.1h0M615.2 882.3h0M612.6 867.3h0M604.0 880.3h0M591.5 875.8h0M607.2 855.1h0M622.4 870.0h0M612.1 863.3h0M581.6 864.4h0M600.2 876.5h0M583.9 855.4h0M616.6 853.7h0M620.1 857.5h0M600.2 850.9h0M606.6 879.4h0M590.9 852.3h0M598.9 877.7h0M608.2 887.9h0M614.3 871.5h0M587.4 848.0h0M605.1 852.2h0M584.3 872.6h0M598.2 885.5h0M601.3 841.6h0M611.6 866.3h0M584.8 869.1h0M596.9 847.6h0M607.7 876.8h0M605.4 875.0h0M583.8 849.6h0M610.5 860.8h0M591.1 845.9h0M614.4 863.3h0M584.7 870.2h0M608.3 874.0h0M609.9 882.2h0M590.1 874.3h0M602.8 849.8h0M587.4 873.7h0M607.4 855.9h0M581.9 866.3h0M614.4 863.3h0M606.9 852.1h0M582.8 869.9h0M592.4 850.4h0M585.3 868.0h0M588.8 874.1h0M609.9 860.8h0M592.3 843.0h0M608.0 850.3h0M610.5 867.4h0M609.4 875.3h0M610.3 857.7h0M610.9 861.4h0M584.7 861.8h0M593.4 880.0h0M610.8 859.6h0M611.0 847.6h0M593.7 880.1h0M615.8 868.6h0M617.6 857.0h0M583.4 871.4h0M610.1 879.2h0M598.4 883.0h0M606.5 855.5h0M618.0 859.2h0M607.5 877.5h0M610.7 869.9h0M603.5 852.2h0M575.0 857.9h0M604.5 852.5h0M614.5 871.7h0M584.6 877.7h0M604.7 879.4h0M589.1 853.7h0M606.7 851.3h0M577.1 858.7h0M577.0 855.6h0M588.8 852.3h0M581.5 876.5h0M604.2 875.3h0M583.8 878.2h0M611.7 864.6h0M589.2 874.9h0M592.8 881.6h0M612.6 873.9h0M612.0 871.6h0M606.6 884.6h0M611.2 882.1h0M599.8 885.0h0M607.8 853.2h0M581.1 864.5h0M593.8 877.5h0M599.6 883.1h0M585.6 870.4h0M616.3 862.2h0M589.1 877.7h0M581.6 872.7h0M582.9 857.8h0M592.5 878.2h0M600.4 877.9h0M612.5 852.6h0M608.6 871.6h0M611.9 854.0h0M603.7 852.4h0M608.7 873.5h0M600.6 849.4h0M609.2 870.7h0M611.5 869.7h0M585.5 853.7h0M589.2 846.1h0M620.5 862.2h0M584.5 863.7h0M578.6 879.6h0M609.5 856.0h0M586.1 858.6h0M577.2 862.6h0M610.9 867.4h0M582.1 855.9h0M606.7 845.3h0M609.4 858.6h0M595.6 848.6h0M616.7 869.0h0M588.1 873.9h0M598.0 880.5h0M586.1 875.3h0M605.3 851.3h0M620.6 870.9h0M608.9 856.1h0M612.0 856.1h0M598.9 877.6h0M611.5 872.8h0M580.1 874.9h0M614.7 860.0h0M594.4 850.0h0M603.0 885.2h0M602.8 876.5h0M590.7 876.6h0M580.6 845.7h0M591.7 876.0h0M578.8 871.2h0M601.9 888.3h0M595.4 877.9h0M596.4 876.6h0M575.2 853.3h0M620.3 868.8h0M604.7 850.8h0M585.1 855.4h0M588.9 851.0h0M583.8 860.3h0M584.3 870.4h0M581.3 878.7h0M579.1 852.7h0M585.7 875.5h0M576.7 868.3h0M606.5 854.0h0M594.1 846.5h0M615.2 855.5h0M583.8 853.7h0M603.3 875.6h0M609.5 873.2h0M585.1 854.2h0M599.4 878.5h0M610.5 871.6h0M577.6 850.7h0M614.8 852.8h0M608.0 854.1h0M588.4 878.0h0M615.1 872.5h0M613.0 865.2h0M587.2 844.2h0M584.7 867.6h0M594.6 882.4h0M602.2 850.1h0M603.1 879.4h0M580.3 862.3h0M611.5 877.3h0M596.1 850.9h0M584.0 850.0h0M617.5 871.0h0M588.7 873.6h0M610.8 868.0h0M592.5 847.3h0M584.4 871.1h0M613.7 864.9h0M604.7 875.0h0M577.8 871.1h0M582.6 861.4h0M607.2 848.6h0M580.2 865.3h0M591.1 875.2h0M592.3 851.5h0M589.5 847.7h0M594.5 880.3h0M596.2 850.8h0M595.9 851.8h0M611.9 869.5h0M604.3 875.7h0M585.3 871.1h0M613.4 863.7h0M600.7 877.0h0M602.3 852.6h0M596.2 848.4h0M581.1 862.5h0M587.1 853.1h0M604.0 850.1h0M606.7 850.0h0M596.7 880.0h0M592.3 884.2h0M577.4 848.3h0M574.4 853.6h0M584.7 859.2h0M593.0 851.2h0M589.0 853.1h0M585.3 877.6h0M601.9 848.5h0M619.5 864.7h0M603.1 883.8h0M584.6 871.6h0M608.6 873.7h0M589.8 874.3h0M587.3 851.6h0M586.0 869.3h0M608.4 854.4h0M607.9 854.6h0M579.9 875.9h0M583.6 867.8h0M602.7 877.2h0M597.0 846.3h0M598.4 850.7h0M609.2 870.9h0M599.9 850.5h0M610.0 870.1h0M575.5 856.1h0M609.9 869.2h0M611.8 864.7h0M583.9 861.1h0M603.6 849.2h0M585.7 878.9h0M611.6 866.8h0M585.7 846.9h0M582.6 867.7h0M586.2 856.2h0M607.8 856.1h0M611.4 860.1h0M595.3 847.3h0M578.7 855.1h0M590.1 876.9h0M618.0 864.0h0M610.1 857.8h0M609.9 860.6h0M579.6 874.0h0M582.3 863.5h0M606.8 852.7h0M575.3 859.7h0M596.7 877.6h0M584.2 863.1h0M583.6 858.8h0M596.5 846.2h0M614.1 863.2h0M587.3 842.9h0M581.1 873.2h0M587.9 851.6h0M614.2 857.8h0M597.0 878.8h0M610.5 873.3h0M611.6 857.0h0M604.5 887.8h0M596.0 877.6h0M583.0 862.4h0M585.8 876.5h0M611.7 859.3h0M578.5 868.7h0M609.1 858.4h0M610.4 871.0h0M584.6 867.8h0M592.7 850.4h0M575.4 869.8h0M611.7 876.6h0M603.0 848.2h0M582.9 860.4h0M608.1 875.9h0M575.9 873.4h0M594.8 851.6h0M608.2 872.7h0M579.6 858.2h0M584.3 876.9h0M574.6 863.2h0M586.2 874.8h0M608.7 874.3h0M591.9 880.6h0M582.7 859.1h0M610.9 858.8h0M590.9 852.6h0M608.0 876.2h0M584.2 856.6h0M584.5 864.7h0M594.8 851.3h0M613.3 855.3h0M589.5 878.5h0M573.1 856.2h0M613.3 869.8h0M612.2 864.4h0M580.6 858.5h0M578.4 867.7h0M579.1 876.9h0M613.3 872.3h0M593.4 851.6h0M590.0 847.3h0M613.1 858.7h0M579.9 874.1h0M586.9 878.5h0M613.7 876.4h0M583.9 855.0h0M588.3 840.5h0M596.0 885.0h0M587.4 854.3h0M606.3 853.8h0M613.3 863.3h0M585.7 846.6h0M609.3 849.8h0M607.4 853.9h0M596.4 847.8h0M583.4 859.6h0M610.3 877.7h0M589.3 879.1h0M598.7 851.8h0M606.4 852.2h0M603.1 876.0h0M583.8 873.1h0M609.4 869.6h0M615.6 866.4h0M608.1 856.8h0M603.6 846.7h0M611.6 882.1h0M596.7 850.1h0M590.3 852.6h0M602.7 851.9h0M578.7 858.4h0M609.1 855.7h0M595.1 881.6h0M582.4 857.8h0M588.6 881.4h0M605.9 846.1h0M589.9 874.8h0M595.5 848.5h0M605.5 882.4h0M604.0 879.2h0M582.5 865.5h0M585.5 859.7h0M581.6 856.7h0M593.0 846.4h0M609.9 870.3h0M576.0 855.3h0M600.4 847.5h0M581.8 875.6h0M594.6 851.4h0M584.7 873.8h0M591.9 852.2h0M611.4 859.5h0M601.7 849.0h0M589.8 874.5h0M599.9 849.9h0M583.2 868.9h0M585.1 872.8h0M611.9 865.3h0M607.3 850.3h0M582.2 873.2h0M587.6 873.1h0M612.7 869.7h0M615.8 865.2h0M591.1 851.8h0M611.9 865.6h0M589.5 852.3h0M591.1 875.7h0M603.4 877.5h0M618.8 861.0h0M606.9 853.2h0M581.0 853.2h0M611.4 859.1h0M607.4 874.5h0M608.9 880.1h0M587.9 885.2h0M608.9 847.8h0M612.1 870.5h0M614.1 870.5h0M611.6 867.4h0M615.1 873.5h0M587.7 855.2h0M601.0 847.9h0M581.7 871.2h0M612.8 858.9h0M576.4 866.7h0M603.0 883.4h0M589.3 875.8h0M608.0 853.6h0M609.6 857.1h0M584.5 865.1h0M601.7 887.2h0M614.3 859.4h0M590.0 851.3h0M596.3 880.5h0M592.1 851.2h0M591.5 843.3h0M599.6 849.1h0M571.9 862.9h0M586.4 875.2h0M581.5 856.2h0M601.8 877.6h0M600.5 880.9h0M599.3 849.6h0M602.3 877.6h0M588.0 874.8h0M585.5 874.4h0M582.2 867.7h0M609.8 872.1h0M581.5 860.6h0M607.2 876.5h0M589.6 874.0h0M600.7 878.7h0M595.5 878.3h0M591.0 876.1h0M614.8 872.7h0M613.0 861.0h0M589.4 851.4h0M603.5 849.9h0M594.5 877.1h0M582.5 863.1h0M588.4 874.2h0M583.9 869.1h0M577.1 867.1h0M573.3 871.0h0M598.1 885.2h0M580.2 862.6h0M593.4 877.3h0M611.9 866.5h0M610.1 852.3h0M606.6 874.0h0M608.3 876.7h0M581.5 848.0h0M607.0 875.3h0M586.0 845.7h0M611.5 864.3h0M590.4 875.6h0M593.3 876.9h0M582.5 865.1h0M583.0 859.3h0M610.2 867.6h0M580.8 859.0h0M594.3 851.5h0M615.3 854.2h0M586.1 850.9h0M586.5 855.8h0M582.7 872.9h0M595.3 877.1h0M609.1 857.7h0M603.3 881.6h0M611.3 844.6h0M615.5 851.3h0M585.6 859.5h0M585.9 877.7h0M579.8 861.8h0M598.7 851.0h0M608.8 857.8h0M597.2 844.9h0M606.2 883.5h0M583.1 865.1h0M595.5 876.8h0M586.4 869.9h0M579.4 848.5h0M609.0 881.9h0M607.5 854.6h0M616.6 875.8h0M585.2 856.0h0M610.0 875.0h0M585.3 860.8h0M598.7 877.6h0M593.7 876.9h0M610.7 851.7h0M584.3 867.9h0M590.4 878.4h0M609.9 871.6h0M605.8 877.8h0M610.3 851.8h0M579.1 868.7h0M590.1 881.2h0M617.6 857.6h0M591.0 874.9h0M584.5 865.3h0M590.3 842.5h0M583.3 874.1h0M582.1 869.0h0M608.3 874.5h0M604.3 853.3h0M574.7 854.3h0M596.8 878.7h0M592.5 877.6h0M583.7 874.8h0M585.0 861.8h0M585.9 855.7h0M614.2 871.3h0M592.7 851.7h0M597.9 850.9h0M584.3 854.9h0M591.4 879.0h0M611.9 863.7h0M591.2 850.3h0M613.1 871.4h0M582.9 865.2h0M606.2 874.0h0M582.0 857.0h0M609.7 871.6h0M611.8 865.6h0M583.1 866.4h0M579.8 866.2h0M603.5 885.9h0M605.8 878.8h0M599.8 878.8h0M605.3 878.2h0M604.8 876.2h0M598.1 851.2h0M594.2 841.5h0M583.6 862.8h0M610.9 870.8h0M595.7 876.6h0M600.2 887.4h0M601.7 878.5h0M606.0 882.4h0M610.4 867.4h0M595.5 881.6h0M591.0 851.6h0M612.4 850.5h0M608.3 853.7h0M590.5 849.4h0M609.3 876.5h0M580.4 876.9h0M603.4 851.9h0M597.5 850.7h0M597.2 848.9h0M609.0 871.2h0M607.7 854.8h0M602.2 883.8h0M590.2 849.2h0M613.0 877.4h0M580.8 867.9h0M591.3 882.5h0M591.8 851.5h0M573.1 869.9h0M597.3 886.2h0M585.8 855.3h0M601.5 881.9h0M584.5 857.9h0M600.8 848.0h0M615.9 867.3h0M602.2 843.2h0M602.7 850.5h0M603.5 876.7h0M602.6 876.9h0M606.9 855.8h0M600.5 848.8h0M603.0 852.2h0M615.4 860.2h0M590.4 875.1h0M604.8 876.9h0M611.3 870.9h0M582.5 867.7h0M609.3 873.3h0M607.0 882.5h0M613.0 863.8h0M586.5 871.0h0M580.9 844.3h0M611.0 857.1h0M603.8 852.3h0M605.8 853.8h0M587.4 851.1h0M608.5 871.9h0M586.5 871.6h0M598.0 878.2h0M610.7 867.5h0M594.8 850.8h0M607.0 851.2h0M578.0 868.8h0M606.1 850.1h0M604.3 876.2h0M577.8 857.6h0M590.0 851.6h0M591.7 845.7h0M602.3 876.5h0M593.2 876.1h0M595.9 851.6h0M606.4 876.2h0M616.4 867.9h0M609.0 874.6h0M585.2 868.5h0M589.5 874.7h0M596.3 876.7h0M613.0 853.9h0M585.8 870.3h0M595.4 851.1h0M605.2 851.5h0M607.5 856.6h0M587.8 847.2h0M608.4 855.1h0M575.9 863.7h0M598.5 849.3h0M611.4 856.8h0M584.7 868.4h0M611.7 867.3h0M614.7 865.7h0M585.0 870.4h0M598.3 879.4h0M585.2 848.5h0M617.2 868.0h0M589.6 882.0h0M583.8 874.5h0M585.0 864.0h0M601.7 883.3h0M610.7 869.7h0M586.4 856.3h0M593.3 879.6h0M596.7 877.0h0M597.1 845.9h0M585.2 874.9h0M606.3 854.1h0M587.2 849.3h0M597.1 848.3h0M595.6 841.1h0M611.2 862.7h0M591.4 852.1h0M577.5 858.5h0M607.5 853.6h0M601.7 880.5h0M615.7 863.6h0M587.1 852.3h0M607.9 873.8h0M606.6 876.7h0M593.3 878.1h0M606.5 877.3h0M600.7 876.9h0M612.6 867.0h0M587.8 849.0h0M584.4 868.1h0M604.0 876.9h0M579.3 871.5h0M598.6 881.9h0M611.6 861.0h0M593.9 850.2h0M583.2 861.1h0M598.9 850.0h0M604.7 852.3h0M590.5 844.0h0M613.3 876.9h0M582.8 851.9h0M608.0 855.0h0M589.0 853.7h0M588.6 879.1h0M611.8 863.3h0M613.9 871.0h0M583.0 869.3h0M589.9 850.6h0M583.3 864.5h0M611.5 856.6h0M606.0 850.4h0M615.5 858.9h0M601.0 882.6h0M585.2 872.3h0M611.1 880.0h0M613.9 863.9h0M612.6 861.2h0M609.5 859.6h0M590.7 874.8h0M613.8 861.9h0M581.8 857.7h0M617.9 861.4h0M614.0 879.4h0M584.3 863.1h0M604.9 882.9h0M582.2 869.5h0M579.5 872.7h0M591.9 849.5h0M608.3 873.4h0M594.1 876.6h0M595.7 876.6h0M588.1 853.2h0M587.4 875.6h0M583.7 875.3h0M578.4 864.1h0M594.5 878.8h0M613.0 863.0h0M589.5 845.9h0M603.1 851.1h0M607.9 872.7h0M608.5 875.1h0M611.2 874.2h0M581.6 852.1h0M610.1 860.3h0M612.9 859.8h0M596.4 850.2h0M586.6 857.8h0M573.4 863.3h0M598.0 883.3h0M610.5 861.1h0M593.4 878.4h0M596.4 847.0h0M601.2 877.3h0M591.6 875.6h0M583.6 856.8h0M591.3 879.1h0M589.6 873.8h0M595.2 877.8h0M594.6 876.5h0M587.9 872.6h0M587.9 875.9h0M587.9 853.9h0M597.9 851.7h0M594.5 876.3h0M582.4 855.1h0M615.2 867.8h0M579.8 866.5h0M582.8 856.9h0M580.3 866.9h0M582.4 867.8h0M608.9 853.8h0M583.9 860.1h0M598.7 851.3h0M577.3 859.1h0M593.4 879.1h0M586.0 857.9h0M585.1 867.0h0M604.4 883.9h0M612.1 855.8h0M616.6 869.1h0M614.6 861.6h0M587.1 873.3h0M620.9 864.6h0M606.4 848.5h0M599.5 881.6h0M599.3 876.6h0M585.1 861.1h0M587.6 855.3h0M584.1 870.6h0M596.6 850.0h0M586.8 849.9h0M580.2 865.1h0M584.5 882.8h0M612.7 853.5h0M577.0 871.9h0M597.3 878.4h0M603.5 848.9h0M606.9 875.4h0M599.8 844.7h0M587.9 877.5h0M585.9 852.0h0M610.6 862.1h0M589.3 876.6h0M608.5 852.7h0M594.5 844.3h0M584.1 862.9h0M613.3 859.3h0M608.1 874.4h0M591.8 878.9h0M609.0 857.4h0M585.6 857.3h0M612.4 866.9h0M597.5 881.2h0M581.8 876.8h0M581.4 877.4h0M612.3 879.4h0M609.1 844.8h0M589.2 854.3h0M585.0 856.1h0M616.6 871.3h0M594.3 850.3h0M580.2 869.3h0M601.9 876.2h0M597.4 878.8h0M608.8 856.9h0M618.3 859.3h0M601.1 850.0h0M590.1 876.3h0M591.8 877.6h0M596.4 879.2h0M580.8 871.4h0M583.4 862.9h0M600.4 850.6h0M602.7 877.7h0M588.3 848.1h0M592.3 851.4h0M576.3 865.2h0M597.5 879.3h0M589.0 842.5h0M586.2 848.5h0M611.0 870.0h0M597.5 878.8h0M588.5 845.8h0M605.9 852.4h0M612.0 846.0h0M584.8 862.3h0M611.5 868.8h0M579.3 864.7h0M615.1 864.7h0M584.4 871.7h0M602.6 849.4h0M606.4 850.7h0M592.6 876.6h0M590.4 841.6h0M592.1 852.7h0M584.3 871.1h0M579.4 868.3h0M615.0 853.3h0M611.1 859.9h0M611.0 866.3h0M608.8 886.1h0M611.9 873.6h0M610.8 862.0h0M603.0 851.0h0M611.3 863.2h0M586.2 857.1h0M609.0 855.9h0M610.2 873.5h0M584.6 860.0h0M589.7 874.2h0M607.8 879.5h0M593.3 876.9h0M610.3 878.5h0M612.1 865.1h0M590.2 875.2h0M611.8 856.8h0M586.1 870.2h0M601.2 851.0h0M581.9 873.3h0M586.6 870.2h0M595.6 877.0h0M598.5 850.6h0M615.2 871.9h0M606.8 887.1h0M609.4 859.2h0M604.3 875.4h0M611.2 855.6h0M602.5 850.2h0M598.4 878.2h0M599.6 849.4h0M604.4 875.0h0M584.0 856.4h0M600.8 878.6h0M595.0 844.7h0M586.0 849.4h0M600.0 877.8h0M608.2 853.7h0M607.0 854.5h0M612.2 854.5h0M600.6 876.5h0M585.1 858.4h0M615.5 863.8h0M587.5 876.4h0M604.9 852.1h0M602.2 884.0h0M608.7 885.2h0M588.0 873.6h0M597.4 850.3h0M579.9 849.3h0M610.3 861.8h0M584.9 872.4h0M617.5 869.0h0M592.8 878.8h0M600.2 877.9h0M610.8 857.5h0M605.1 883.3h0M596.9 877.6h0M583.5 873.2h0M586.9 874.8h0M596.6 879.0h0M588.6 854.2h0M583.2 873.3h0M605.8 852.7h0M607.8 854.5h0M581.5 867.4h0M611.2 878.7h0M614.0 880.0h0M597.3 847.0h0M587.3 853.4h0M600.2 851.4h0M586.3 877.7h0M602.6 881.3h0M603.7 879.7h0M618.3 878.9h0M607.3 872.9h0M595.4 848.1h0M584.3 873.3h0M605.3 849.6h0M589.5 875.9h0M604.3 852.3h0M576.9 859.1h0M611.2 870.7h0M610.6 861.8h0M596.6 850.4h0M594.0 879.7h0M604.6 877.2h0M583.3 853.7h0M593.0 876.2h0M584.2 858.0h0M589.7 874.6h0M588.9 878.1h0M579.9 859.9h0M598.0 848.6h0M602.0 850.9h0M604.0 847.0h0M611.6 870.8h0M580.6 864.3h0M611.2 867.4h0M604.5 875.1h0M615.1 869.2h0M592.1 878.7h0M609.8 857.2h0M611.8 859.9h0M584.7 861.8h0M586.9 873.0h0M593.6 843.6h0M585.5 854.1h0M612.7 856.4h0M583.6 875.0h0M611.6 867.4h0M595.8 849.9h0M587.6 871.5h0M592.6 877.9h0M587.6 872.0h0M611.1 866.7h0M579.9 854.5h0M613.3 870.8h0M583.7 862.4h0M582.2 852.1h0M617.3 869.3h0M606.6 850.2h0M615.4 860.9h0M610.5 881.4h0M584.2 846.4h0M592.0 851.2h0M579.4 878.7h0M598.9 847.8h0M620.4 876.5h0M618.1 858.8h0M608.2 854.6h0M608.4 851.5h0M588.3 874.7h0M591.9 846.3h0M612.3 867.9h0M585.7 878.1h0M577.9 854.9h0M614.0 860.7h0M580.3 851.2h0M608.9 874.0h0M589.3 847.9h0M585.3 869.7h0M587.5 848.8h0M603.9 875.7h0M610.8 864.3h0M616.5 881.0h0M591.0 875.2h0M585.7 869.3h0M588.8 853.8h0M611.5 853.6h0M604.3 878.8h0M615.6 865.4h0M572.8 861.8h0M612.9 872.8h0M581.5 864.6h0M605.0 882.2h0M584.3 861.9h0M586.9 842.6h0M583.3 857.4h0M600.6 841.4h0M583.4 863.3h0M614.3 872.6h0M589.3 854.2h0M600.5 848.5h0M587.1 855.1h0M610.6 851.4h0M604.7 880.4h0M583.5 868.3h0M577.1 853.7h0M585.3 859.3h0M593.0 879.3h0M608.2 874.5h0M586.8 851.9h0M595.8 881.3h0M600.8 852.2h0M601.3 878.7h0M583.7 853.3h0M583.3 878.9h0M587.0 874.8h0M605.2 878.5h0M612.5 871.6h0M612.7 850.7h0M583.5 868.4h0M606.5 873.5h0M614.6 880.2h0M595.8 877.5h0M618.8 870.8h0M582.5 862.4h0M603.7 876.4h0M614.8 861.3h0M588.7 881.4h0M609.5 851.2h0M584.8 867.6h0M588.4 872.9h0M593.4 880.2h0M609.6 869.0h0M585.1 866.0h0M588.0 872.1h0M612.4 850.2h0M595.5 851.3h0M594.5 886.6h0M585.2 850.9h0M602.0 881.7h0M600.0 845.1h0M585.4 855.0h0M600.6 851.8h0M608.7 853.8h0M579.9 867.5h0M597.6 850.7h0M585.6 870.9h0M597.0 847.0h0M610.3 848.6h0M612.5 875.6h0M610.8 866.3h0M580.3 864.6h0M610.3 860.5h0M601.3 876.5h0M609.7 854.6h0M620.0 872.0h0M586.0 852.1h0M583.7 851.8h0M617.7 857.5h0M615.2 863.1h0M620.1 864.1h0M594.0 851.7h0M591.9 844.9h0M591.4 839.8h0M586.2 849.7h0M602.4 846.9h0M600.4 848.1h0M608.4 874.1h0M617.1 866.1h0M587.6 872.6h0M621.6 871.6h0M581.9 868.4h0M584.1 880.2h0M605.7 843.0h0M586.4 876.9h0M611.0 864.6h0M574.0 871.0h0M617.0 871.2h0M602.4 877.3h0M597.7 848.8h0M607.1 856.1h0M585.0 870.7h0M581.1 883.2h0M587.4 873.8h0M596.7 881.7h0M588.6 853.9h0M610.0 867.9h0M588.3 882.2h0M588.5 876.1h0M602.9 879.1h0M589.2 853.9h0M615.9 871.1h0M593.9 876.3h0M607.5 880.3h0M608.7 854.2h0M605.2 878.4h0M616.9 863.1h0M588.1 850.9h0M579.9 866.1h0M585.5 883.5h0M585.0 876.4h0M609.3 859.5h0M612.6 867.2h0M597.1 845.2h0M600.2 851.8h0M577.3 862.8h0M595.9 878.2h0M591.4 878.4h0M583.0 855.3h0M613.0 882.3h0M600.6 845.0h0M618.9 854.9h0M616.9 861.2h0M610.9 861.0h0M581.4 865.8h0M579.7 859.3h0M604.3 875.1h0M580.8 858.2h0M589.9 887.9h0M614.6 863.3h0M617.6 863.3h0M580.7 860.6h0M578.4 863.9h0M589.1 873.5h0M588.6 874.7h0M595.2 848.1h0M582.0 855.2h0M585.9 870.5h0M583.1 867.9h0M612.9 873.8h0M616.7 857.1h0M623.1 861.4h0M597.0 847.8h0M608.5 857.3h0M581.1 870.0h0M593.1 848.9h0M601.3 878.0h0M581.6 875.8h0M583.5 855.6h0M582.9 865.1h0M607.3 848.8h0M604.4 876.6h0M613.6 859.6h0M609.1 858.6h0M587.5 855.8h0M609.3 850.4h0M588.9 875.7h0M586.3 847.5h0M586.6 871.0h0M616.5 859.1h0M602.1 849.4h0M614.0 872.0h0M610.6 885.7h0M614.7 852.4h0M604.2 880.6h0M613.0 868.4h0M614.1 872.6h0M577.2 859.8h0M596.0 885.5h0M577.1 860.9h0M611.8 857.7h0M597.7 880.1h0M587.1 883.4h0M582.7 858.7h0M603.5 879.9h0M609.5 874.4h0M588.6 851.5h0M590.7 874.4h0M581.9 866.9h0M585.8 871.2h0M604.5 878.0h0M582.5 880.5h0M578.4 854.3h0M604.5 877.7h0M595.6 878.7h0M594.8 851.9h0M611.4 857.3h0M577.4 876.9h0M613.8 877.8h0M585.4 846.6h0M602.6 878.6h0M586.3 847.3h0M609.3 852.3h0M590.1 850.6h0M616.6 871.9h0M613.0 881.3h0M584.5 856.6h0M594.4 849.7h0M585.0 875.9h0M579.8 845.1h0M615.7 880.2h0M606.4 885.0h0M592.8 878.3h0M607.8 856.9h0M614.2 855.3h0M604.7 852.3h0M582.8 879.5h0M591.8 875.5h0M590.1 874.4h0M581.2 858.5h0M588.9 846.1h0M607.5 856.3h0M587.4 850.6h0M585.6 873.2h0M585.3 870.5h0M611.3 877.7h0M611.0 864.2h0M602.9 852.5h0M599.1 851.0h0M611.6 872.0h0M595.6 851.5h0M603.5 851.3h0M586.9 872.6h0M610.0 873.4h0M600.0 882.7h0M611.5 866.4h0M584.4 854.9h0M590.7 876.1h0M588.8 875.3h0M585.5 859.7h0M607.9 857.0h0M576.0 865.9h0M613.7 871.0h0M600.4 880.2h0M585.1 880.5h0M604.3 878.7h0M575.1 866.6h0M606.1 851.4h0M618.5 864.7h0M609.5 869.5h0M613.6 856.7h0M576.9 873.1h0M595.6 877.5h0M581.7 879.1h0M605.9 877.5h0M582.4 864.5h0M609.1 854.0h0M590.1 874.2h0M596.0 879.1h0M602.8 851.6h0M610.2 848.5h0M606.5 873.6h0M594.6 842.9h0M614.9 865.2h0M584.1 852.4h0M591.2 849.4h0M587.2 850.4h0M572.3 863.5h0M582.8 862.0h0M586.6 853.8h0M596.0 848.4h0M580.9 865.2h0M594.8 876.3h0M614.0 879.0h0M613.7 868.1h0M589.3 845.0h0M619.0 873.3h0M609.9 858.8h0M582.7 857.8h0M607.3 848.4h0M585.0 856.2h0M604.5 845.4h0M609.1 879.1h0M607.8 852.2h0M585.6 869.0h0M606.1 852.8h0M583.9 855.7h0M594.4 877.1h0M608.3 871.7h0M579.5 868.7h0M597.9 877.7h0M586.9 873.9h0M584.7 877.9h0M577.1 865.6h0M585.8 868.5h0M579.6 859.4h0M594.2 851.4h0M607.9 856.8h0M602.7 876.4h0M606.3 855.1h0M593.7 877.4h0M612.4 862.6h0M615.2 873.0h0M611.5 863.5h0M582.8 865.4h0M584.6 850.6h0M614.2 867.2h0M581.9 870.3h0M596.5 880.9h0M584.4 866.7h0M588.7 846.7h0M616.5 848.9h0M608.8 852.2h0M611.9 871.1h0M582.0 864.8h0M612.3 865.9h0M583.7 862.4h0M593.8 850.8h0M595.9 850.1h0M582.8 862.5h0M582.1 863.8h0M611.1 870.0h0M587.9 875.3h0M579.0 855.5h0M611.0 858.8h0M612.6 860.5h0M594.3 877.8h0M584.1 858.5h0M608.4 851.3h0M607.2 854.8h0M575.6 858.2h0M587.6 854.1h0M588.0 881.3h0M587.4 855.7h0M615.8 868.9h0M584.1 860.0h0M604.4 879.3h0M592.9 882.3h0M599.4 882.1h0M600.8 880.9h0M610.5 857.9h0M610.7 848.3h0M582.1 869.2h0M613.1 847.4h0M589.5 874.6h0M605.9 849.9h0M596.0 881.8h0M604.4 875.4h0M584.4 875.9h0M594.4 844.3h0M596.8 848.6h0M611.7 862.2h0M614.2 875.1h0M584.9 845.4h0M612.0 879.8h0M614.3 860.2h0M586.2 870.2h0M608.1 848.2h0M601.0 846.9h0M606.5 880.9h0M610.8 862.9h0M591.3 875.5h0M588.7 875.9h0M615.2 869.8h0M583.3 862.9h0M579.6 874.3h0M579.6 866.8h0M607.2 874.1h0M585.9 855.7h0M576.2 860.7h0M612.5 846.1h0M620.3 860.7h0M612.3 846.7h0M610.5 868.2h0M613.7 873.9h0M613.1 869.9h0M601.2 851.4h0M600.8 849.6h0M611.1 864.8h0M603.2 881.9h0M580.1 860.8h0M610.8 862.3h0M585.7 869.5h0M587.9 872.8h0M610.5 858.9h0M591.4 851.5h0M599.9 848.2h0M585.2 875.0h0M611.0 872.3h0M579.7 857.7h0M610.9 867.6h0M587.6 853.6h0M588.9 853.3h0M585.2 860.4h0M592.0 852.0h0M587.9 879.9h0M595.6 850.1h0M594.0 878.3h0M597.9 884.7h0M585.3 871.8h0M607.7 853.2h0M604.1 851.1h0M586.5 872.6h0M591.2 853.0h0M602.9 876.2h0M579.0 853.2h0M610.6 871.5h0M613.0 858.2h0M585.1 861.4h0M601.8 877.6h0M611.9 854.9h0M605.1 853.5h0M583.4 871.3h0M583.0 871.8h0M605.3 878.6h0M589.9 884.5h0M597.2 877.1h0M584.1 859.8h0M609.4 871.8h0M591.0 878.3h0M600.5 878.4h0M608.7 886.5h0M595.7 851.2h0M607.2 847.0h0M584.8 862.7h0M600.1 851.2h0M612.1 860.9h0M578.3 852.9h0M582.6 859.4h0M588.5 849.7h0M585.2 853.3h0M599.9 850.1h0M589.8 849.7h0M616.5 862.1h0M587.1 856.3h0M612.3 863.6h0M581.9 861.8h0M584.0 862.4h0M615.3 859.7h0M596.4 850.3h0M613.7 868.7h0M584.1 856.9h0M585.0 872.9h0M597.3 878.0h0M585.4 853.0h0M588.2 872.3h0M607.7 843.5h0M606.0 886.0h0M588.8 874.5h0M614.3 860.4h0M580.0 864.8h0M587.0 853.4h0M615.4 858.1h0M602.2 851.9h0M609.5 871.3h0M602.1 876.5h0M583.5 869.3h0M573.1 863.7h0M598.8 878.6h0M579.2 860.8h0M600.7 851.2h0M611.5 863.2h0M585.7 870.3h0M605.7 881.7h0M611.7 882.5h0M620.1 870.0h0M608.7 872.1h0M610.5 861.0h0M607.3 875.2h0M593.8 847.0h0M585.9 880.8h0M592.2 875.4h0M577.3 853.6h0M588.3 885.0h0M582.7 878.2h0M613.3 861.0h0M613.4 868.2h0M585.8 871.4h0M582.6 871.9h0M609.4 883.4h0M585.0 858.5h0M613.0 853.5h0M615.7 863.4h0M581.2 875.7h0M607.9 884.2h0M612.9 862.5h0M598.0 845.4h0M610.6 853.2h0M583.1 867.3h0M584.4 847.6h0M607.5 855.3h0M584.2 865.6h0M597.3 878.4h0M613.3 855.4h0M611.3 855.0h0M583.7 856.2h0M580.8 868.4h0M582.6 867.2h0M572.1 863.2h0M614.2 866.6h0M588.2 877.2h0M611.6 864.3h0M581.8 858.1h0M587.0 850.5h0M620.6 874.0h0M610.8 851.0h0M607.7 856.5h0M611.6 870.4h0M610.0 873.8h0M589.8 843.5h0M584.9 863.2h0M607.7 855.5h0M609.1 881.0h0M581.1 851.9h0M589.7 876.8h0M611.9 871.2h0M610.4 855.0h0M600.4 880.2h0M583.7 855.7h0M603.8 851.6h0M603.9 876.3h0M611.7 859.6h0M612.5 863.2h0M585.9 856.8h0M608.3 878.4h0M608.7 875.1h0M579.9 863.6h0M609.6 857.5h0M602.5 876.0h0M614.9 867.2h0M585.5 849.9h0M585.2 866.8h0M606.1 874.8h0M597.3 877.1h0M582.3 849.0h0M603.6 849.6h0M580.3 859.3h0M579.3 866.0h0M611.1 864.6h0M578.1 874.0h0M609.7 870.0h0M579.0 862.3h0M584.9 874.4h0M585.0 860.8h0M615.3 868.0h0M585.4 846.6h0M610.1 861.3h0M581.0 864.5h0M616.6 868.4h0M608.3 852.2h0M582.0 866.8h0M586.5 847.4h0M596.3 876.9h0M602.2 848.3h0M599.4 850.9h0M595.1 883.4h0M583.7 874.1h0M604.6 853.9h0M582.5 861.0h0M584.7 864.1h0M618.7 865.0h0M585.0 858.9h0M590.5 850.7h0M589.2 883.9h0M595.3 848.3h0M619.6 872.4h0M618.2 854.2h0M578.3 861.9h0M588.9 852.2h0M599.3 878.5h0M575.1 866.4h0M613.3 857.6h0M584.4 863.7h0M578.8 873.1h0M601.6 844.1h0M610.3 858.9h0M578.6 861.5h0M577.6 871.5h0M579.9 864.7h0M595.7 880.0h0M582.6 856.3h0M608.7 857.0h0M610.2 859.9h0M604.1 875.3h0M578.8 860.9h0M587.1 872.9h0M615.4 861.9h0M605.9 848.3h0M586.1 876.2h0M603.0 879.4h0M594.6 847.8h0M583.4 849.5h0M611.7 852.0h0M592.8 880.7h0M591.8 878.0h0M613.0 863.3h0M590.9 880.6h0M604.4 879.3h0M594.6 878.5h0M609.7 847.2h0M616.2 879.2h0M580.7 868.3h0M590.0 853.3h0M580.6 848.9h0M588.3 876.5h0M592.9 876.9h0M582.2 876.0h0M584.1 854.4h0M574.5 860.1h0M601.8 844.2h0M587.2 854.6h0M621.7 862.2h0M666.8 865.7h0M641.1 855.8h0M638.9 856.0h0M636.9 847.9h0M663.8 874.5h0M657.2 883.1h0M658.9 877.5h0M656.9 881.2h0M643.4 845.1h0M631.8 856.8h0M646.8 883.2h0M631.8 856.7h0M659.9 852.0h0M669.0 860.1h0M641.7 858.2h0M636.2 865.6h0M637.6 880.9h0M660.5 855.6h0M651.1 879.7h0M643.0 857.0h0M654.5 881.9h0M655.2 884.2h0M642.4 856.4h0M661.7 877.5h0M639.9 858.8h0M659.9 880.4h0M669.1 865.1h0M676.0 862.1h0M634.8 864.8h0M648.8 854.6h0M630.5 871.2h0M653.7 852.8h0M641.3 874.2h0M650.0 879.7h0M664.6 875.2h0M651.1 850.8h0M645.6 880.2h0M642.3 853.1h0M664.3 857.9h0M635.1 865.7h0M645.1 886.9h0M634.4 865.8h0M652.2 878.2h0M669.7 868.5h0M659.8 853.0h0M660.7 875.1h0M664.5 855.0h0M648.5 880.2h0M659.4 878.9h0M646.3 851.7h0M654.6 849.7h0M656.8 853.7h0M639.6 872.6h0M629.0 870.7h0M657.2 876.9h0M674.5 857.2h0M663.5 853.7h0M644.3 850.0h0M656.6 883.8h0M634.8 852.9h0M632.6 858.0h0M644.2 855.7h0M667.8 871.2h0M649.8 845.6h0M641.5 877.8h0M669.2 878.9h0M647.0 854.6h0M649.5 854.3h0M663.7 855.0h0M664.0 874.1h0M661.1 847.0h0M637.9 869.2h0M638.4 878.2h0M648.3 853.2h0M668.7 873.1h0M666.3 861.8h0M648.8 853.2h0M635.2 861.9h0M651.4 853.5h0M663.3 856.6h0M652.1 854.2h0M666.5 864.8h0M642.3 878.5h0M634.0 866.4h0M647.4 879.9h0M669.6 866.5h0M661.8 852.0h0M669.8 864.8h0M661.9 887.7h0M675.0 861.4h0M641.4 852.7h0M653.2 854.2h0M641.6 874.8h0M662.4 877.7h0M655.8 853.0h0M660.9 855.4h0M653.6 880.3h0M637.3 863.0h0M645.7 876.9h0M664.5 856.5h0M665.6 860.4h0M666.9 855.1h0M639.9 882.2h0M655.7 880.3h0M663.2 882.1h0M662.1 853.7h0M654.9 850.4h0M644.3 876.9h0M667.2 876.5h0M654.6 879.4h0M648.1 882.9h0M665.0 860.0h0M656.1 851.8h0M651.0 854.0h0M639.7 873.1h0M663.5 873.6h0M642.4 878.6h0M653.8 878.3h0M668.8 851.6h0M640.0 872.6h0M636.5 869.4h0M670.7 867.1h0M662.2 852.4h0M662.0 879.2h0M672.2 849.1h0M660.0 878.0h0M658.8 850.6h0M652.9 853.8h0M670.1 847.1h0M647.3 877.4h0M641.0 879.4h0M638.0 865.8h0M649.8 852.6h0M644.8 852.3h0M667.5 876.3h0M647.7 878.3h0M665.6 871.1h0M667.6 860.3h0M669.3 869.1h0M643.4 876.3h0M636.6 859.1h0M666.0 862.4h0M668.5 867.5h0M669.4 869.0h0M626.2 867.1h0M637.5 872.1h0M660.8 856.4h0M652.8 853.1h0M633.7 867.3h0M666.1 858.3h0M650.3 854.4h0M637.3 873.3h0M663.9 873.5h0M659.8 878.6h0M652.0 851.8h0M639.8 849.2h0M666.6 873.1h0M637.8 872.6h0M665.9 857.1h0M634.0 874.1h0M634.1 868.6h0M647.0 881.5h0M643.6 877.9h0M636.2 869.3h0M670.4 861.1h0M637.2 869.1h0M653.9 878.1h0M657.1 878.3h0M672.3 877.0h0M645.9 855.5h0M645.0 881.3h0M654.0 881.9h0M648.0 849.8h0M646.3 888.4h0M638.4 856.7h0M675.8 871.0h0M633.6 872.3h0M642.1 875.4h0M665.8 876.0h0M669.4 878.3h0M635.7 870.4h0M637.3 870.6h0M640.3 858.3h0M668.1 854.0h0M636.6 869.5h0M667.6 877.7h0M647.7 845.7h0M633.8 860.2h0M637.5 866.5h0M650.4 878.7h0M637.2 867.6h0M666.0 859.2h0M662.3 876.5h0M631.6 864.0h0M661.3 855.4h0M667.0 874.5h0M647.7 888.1h0M646.6 878.1h0M669.6 869.3h0M636.2 857.0h0M646.7 881.4h0M666.2 866.2h0M665.6 861.9h0M630.5 868.0h0M648.2 879.6h0M672.3 878.4h0M666.6 873.1h0M638.2 872.1h0M636.4 864.4h0M657.0 850.4h0M636.3 867.9h0M639.1 872.3h0M666.2 867.5h0M674.9 861.6h0M656.3 882.3h0M635.1 853.1h0M667.5 874.4h0M673.6 855.4h0M668.0 881.5h0M625.1 864.5h0M670.1 867.5h0M651.2 850.2h0M646.1 844.4h0M656.6 853.8h0M667.0 861.0h0M642.0 875.2h0M641.8 875.5h0M643.2 880.5h0M650.1 880.0h0M641.3 857.7h0M645.0 849.3h0M645.0 877.2h0M658.6 881.5h0M666.1 862.9h0M657.3 882.1h0M630.4 859.3h0M640.1 851.4h0M663.7 875.6h0M674.0 865.9h0M639.5 876.3h0M671.4 870.9h0M626.9 875.7h0M638.1 870.6h0M668.3 869.3h0M637.4 862.4h0M647.9 882.8h0M668.1 872.5h0M670.3 862.6h0M669.5 868.6h0M664.2 855.7h0M636.5 868.0h0M632.0 872.0h0M654.3 844.9h0M650.6 848.9h0M643.9 876.6h0M635.6 875.4h0M651.5 886.1h0M641.6 854.2h0M641.9 856.4h0M645.0 852.1h0M657.7 853.7h0M635.7 860.1h0M663.7 854.4h0M642.1 877.9h0M652.0 883.7h0M639.6 857.4h0M636.7 871.8h0M668.6 869.5h0M670.3 868.4h0M666.7 871.4h0M660.3 855.8h0M636.4 855.0h0M647.6 878.2h0M640.2 882.9h0M672.0 876.0h0M632.8 877.1h0M666.5 861.7h0M630.6 873.0h0M640.0 876.1h0M656.1 852.9h0M644.3 876.4h0M646.6 879.9h0M652.4 849.7h0M667.6 869.5h0M644.6 882.7h0M646.3 880.6h0M633.4 870.0h0M669.6 867.1h0M639.2 876.4h0M643.5 854.8h0M638.8 873.3h0M633.8 881.6h0M657.0 852.5h0M663.9 874.6h0M664.0 873.2h0M668.7 857.5h0M656.6 851.8h0M656.8 877.3h0M641.6 876.4h0M648.6 880.8h0M647.8 853.3h0M655.6 885.3h0M664.0 857.1h0M659.2 849.0h0M640.8 874.8h0M667.4 860.8h0M646.3 877.4h0M665.5 869.2h0M648.4 878.3h0M667.6 868.6h0M638.6 869.8h0M640.5 881.5h0M667.4 866.4h0M647.5 852.2h0M652.5 878.0h0M670.8 870.7h0M640.0 860.3h0M661.2 851.3h0M674.3 860.0h0M645.9 852.1h0M664.1 856.6h0M636.8 875.6h0M661.1 847.2h0M656.4 886.7h0M637.8 872.4h0M632.2 866.7h0M637.8 866.7h0M671.7 858.8h0M633.6 872.8h0M636.4 865.3h0M649.4 849.5h0M644.2 879.2h0M667.4 876.4h0M646.5 853.1h0M667.7 867.2h0M638.8 849.5h0M650.3 851.8h0M653.4 879.4h0M632.6 858.6h0M635.1 871.1h0M637.2 856.0h0M638.8 850.7h0M653.8 882.7h0M667.5 877.9h0M665.9 875.5h0M632.6 863.8h0M630.2 878.1h0M667.4 863.7h0M665.4 858.6h0M665.5 853.6h0M642.5 879.4h0M669.0 865.7h0M667.1 867.6h0M656.6 851.3h0M675.7 860.5h0M660.4 855.1h0M650.2 850.1h0M643.2 848.3h0M656.4 854.2h0M630.6 871.0h0M665.7 853.9h0M662.2 874.6h0M669.2 867.1h0M658.5 845.8h0M656.1 885.9h0M663.1 853.7h0M659.8 877.8h0M666.8 871.8h0M641.2 853.2h0M664.7 849.9h0M661.6 852.6h0M641.0 856.5h0M637.2 870.5h0M667.4 867.9h0M666.9 868.5h0M669.6 879.0h0M653.2 884.3h0M649.9 853.4h0M671.4 855.3h0M637.1 859.8h0M660.2 850.5h0M638.9 855.5h0M635.9 884.6h0M653.8 850.9h0M660.4 876.9h0M633.9 861.5h0M659.9 878.7h0M646.7 853.4h0M635.4 876.2h0M656.7 854.0h0M665.5 869.4h0M668.2 866.6h0M667.0 859.1h0M630.2 864.6h0M637.5 864.9h0M640.2 873.2h0M661.0 875.9h0M665.9 872.4h0M633.4 869.8h0M638.0 870.4h0M655.1 882.2h0M647.6 879.3h0M653.1 882.4h0M637.8 870.5h0M651.7 852.1h0M631.1 870.1h0M665.9 874.4h0M656.8 852.2h0M667.4 871.7h0M668.2 846.9h0M669.4 868.7h0M639.4 877.1h0M661.0 855.4h0M636.4 869.5h0M649.6 879.8h0M674.7 865.1h0M656.7 879.5h0M669.9 851.1h0M666.7 856.7h0M655.7 850.5h0M646.2 855.1h0M660.2 850.0h0M667.1 868.5h0M666.4 866.3h0M649.0 854.0h0M636.4 873.2h0M658.9 854.9h0M667.1 858.8h0M658.0 847.6h0M629.6 871.2h0M664.6 875.2h0M639.1 875.7h0M669.0 861.5h0M661.3 856.2h0M634.0 856.7h0M652.9 849.9h0M669.8 865.5h0M661.3 856.0h0M671.9 863.6h0M632.0 850.9h0M654.6 878.2h0M644.8 878.2h0M634.0 872.9h0M664.6 874.8h0M635.8 858.3h0M644.6 876.8h0M652.3 845.7h0M655.3 880.3h0M641.8 853.2h0M635.6 870.2h0M663.3 851.0h0M645.4 878.5h0M645.7 851.4h0M647.8 880.3h0M659.7 848.7h0M663.3 851.3h0M663.2 857.4h0M632.0 858.5h0M637.6 877.6h0M663.9 854.5h0M647.1 853.6h0M641.5 852.4h0M651.3 850.4h0M663.6 875.0h0M634.0 882.7h0M656.4 854.0h0M656.3 884.6h0M656.3 852.5h0M640.1 859.8h0M656.9 882.1h0M634.0 881.2h0M671.3 869.7h0M649.5 880.9h0M672.6 868.0h0M661.0 855.8h0M663.2 873.4h0M655.8 879.1h0M648.8 877.6h0M651.6 878.1h0M652.5 853.2h0M666.1 856.7h0M666.8 864.7h0M638.3 863.6h0M670.4 871.4h0M666.8 868.5h0M645.4 879.2h0M676.4 861.3h0M671.4 862.3h0M663.4 856.6h0M666.3 859.1h0M641.7 876.9h0M635.9 864.8h0M663.8 851.4h0M654.1 854.2h0M651.2 853.5h0M659.1 854.1h0M667.5 884.4h0M652.9 883.7h0M652.5 882.7h0M636.3 870.9h0M654.7 851.3h0M635.7 857.7h0M656.7 853.8h0M636.9 876.8h0M667.1 858.6h0M662.7 875.3h0M645.8 855.6h0M657.7 851.6h0M666.6 860.9h0M666.3 868.2h0M641.3 879.0h0M664.7 874.1h0M660.0 853.5h0M658.3 880.2h0M637.1 867.8h0M666.5 862.5h0M646.2 878.8h0M669.5 859.3h0M638.5 870.2h0M670.8 874.1h0M658.8 850.9h0M634.4 871.9h0M670.0 867.7h0M648.5 879.7h0M667.9 857.2h0M668.3 855.6h0M643.0 875.4h0M638.5 880.2h0M646.7 883.1h0M646.0 849.3h0M638.2 861.1h0M657.8 847.8h0M631.8 861.2h0M643.6 853.6h0M640.9 880.7h0M652.3 849.9h0M639.8 857.5h0M634.3 864.2h0M654.8 881.6h0M674.5 869.7h0M636.2 873.0h0M643.1 857.6h0M666.2 885.3h0M640.4 855.3h0M639.3 879.4h0M678.6 872.2h0M654.5 849.8h0M636.1 877.3h0M651.0 888.1h0M658.0 880.9h0M659.5 847.4h0M635.1 867.6h0M665.6 868.6h0M635.6 861.6h0M658.8 851.5h0M642.7 857.8h0M641.3 879.4h0M670.7 870.6h0M668.9 880.7h0M671.2 882.4h0M657.6 846.8h0M652.3 879.6h0M633.4 863.0h0M637.3 877.2h0M632.5 869.5h0M644.7 851.9h0M652.0 880.0h0M665.1 884.9h0M634.4 860.6h0M635.3 860.3h0M666.6 852.8h0M629.1 869.9h0M666.1 872.4h0M637.7 859.3h0M658.9 854.5h0M635.8 867.5h0M630.9 867.8h0M654.7 879.4h0M654.7 882.9h0M667.6 863.4h0M654.0 881.7h0M648.5 878.8h0M641.0 857.9h0M659.3 854.7h0M634.8 867.6h0M656.3 877.3h0M669.0 853.0h0M669.8 850.9h0M645.6 877.6h0M663.5 854.8h0M629.4 875.8h0M631.1 863.4h0M650.5 883.6h0M630.5 863.4h0M660.8 876.4h0M668.4 868.7h0M630.0 869.3h0M650.0 852.5h0M668.9 861.5h0M641.2 876.8h0M643.7 876.7h0M664.6 875.8h0M646.9 878.6h0M667.1 858.0h0M675.8 869.3h0M662.8 877.8h0M666.7 864.3h0M662.3 857.2h0M635.6 864.9h0M637.1 864.5h0M646.7 851.3h0M664.9 860.8h0M627.3 869.3h0M658.8 880.6h0M641.2 886.1h0M635.6 869.3h0M665.4 870.4h0M665.3 871.0h0M626.2 859.7h0M657.4 881.4h0M637.4 859.5h0M669.9 866.8h0M638.2 871.9h0M641.5 855.5h0M674.6 870.3h0M661.1 876.7h0M650.6 852.3h0M661.5 849.1h0M666.0 878.4h0M666.3 864.2h0M659.3 877.4h0M653.6 881.1h0M657.3 877.1h0M636.6 867.9h0M649.9 854.5h0M626.7 859.9h0M634.9 860.1h0M655.0 877.5h0M649.5 881.2h0M642.7 854.7h0M635.0 871.4h0M647.3 883.2h0M633.1 865.7h0M661.1 879.4h0M637.5 863.1h0M644.9 854.9h0M639.8 857.3h0M666.0 864.5h0M666.2 874.7h0M630.5 880.2h0M645.1 877.0h0M639.4 872.2h0M656.0 881.3h0M675.6 857.6h0M664.2 872.6h0M652.9 853.0h0M647.5 852.3h0M666.5 869.6h0M667.0 858.3h0M639.3 860.8h0M630.1 863.8h0M663.3 878.5h0M645.3 855.2h0M628.3 869.4h0M642.4 857.4h0M663.5 885.3h0M647.1 851.6h0M650.3 881.1h0M667.3 872.9h0M655.6 853.7h0M648.8 854.8h0M665.6 876.8h0M666.0 872.3h0M650.2 885.6h0M646.6 878.0h0M664.9 876.6h0M671.0 878.3h0M644.5 844.0h0M658.9 855.4h0M669.2 881.6h0M661.3 853.0h0M643.3 876.0h0M637.9 856.8h0M663.6 855.4h0M659.7 876.2h0M639.6 872.4h0M653.0 881.4h0M659.5 876.9h0M661.1 882.4h0M635.8 852.4h0M645.5 876.9h0M663.0 875.7h0M668.2 859.5h0M631.3 864.5h0M664.6 874.2h0M666.8 857.5h0M647.5 883.2h0M643.9 877.9h0M658.6 849.2h0M643.9 877.9h0M672.8 867.8h0M637.2 866.4h0M668.2 868.5h0M667.2 856.9h0M654.9 852.8h0M663.0 850.0h0M637.2 870.2h0M648.2 879.2h0M654.2 849.1h0M666.0 863.2h0M632.8 856.3h0M663.0 856.9h0M656.2 849.2h0M654.5 848.3h0M669.4 869.6h0M648.5 848.2h0M672.6 860.1h0M656.5 853.9h0M636.4 874.2h0M653.8 880.0h0M638.3 873.1h0M646.1 879.9h0M670.4 851.2h0M643.7 883.4h0M664.2 847.9h0M636.4 872.6h0M667.2 873.9h0M655.1 881.6h0M634.1 863.3h0M656.9 853.9h0M668.9 872.7h0M662.2 853.4h0M668.1 863.1h0M648.3 879.6h0M644.6 856.2h0M666.6 868.8h0M648.8 846.4h0M651.6 878.2h0M632.6 872.0h0M662.1 852.4h0M638.7 861.2h0M655.5 853.2h0M635.7 862.0h0M659.9 879.4h0M661.5 849.6h0M657.6 851.5h0M642.0 883.3h0M643.8 855.4h0M634.9 868.7h0M657.4 883.1h0M662.6 874.9h0M664.7 854.2h0M638.0 867.7h0M652.0 845.1h0M663.7 856.0h0M638.7 873.3h0M661.4 854.5h0M660.0 880.3h0M636.7 862.5h0M658.7 877.1h0M657.0 850.0h0M638.6 876.2h0M632.1 862.2h0M667.5 871.7h0M668.6 854.3h0M642.3 858.1h0M671.8 864.0h0M647.7 878.2h0M635.2 871.3h0M640.6 878.3h0M641.7 858.0h0M666.6 853.5h0M664.6 872.2h0M640.5 860.1h0M665.4 872.0h0M653.7 881.1h0M657.6 853.1h0M666.0 878.2h0M664.0 872.7h0M647.4 882.2h0M639.7 856.3h0M655.5 878.9h0M634.0 864.6h0M653.2 877.8h0M658.8 876.3h0M668.5 848.5h0M641.7 877.4h0M660.4 878.9h0M642.8 856.4h0M647.2 851.2h0M635.7 869.3h0M633.9 868.4h0M637.3 867.3h0M639.3 881.1h0M668.6 853.8h0M676.1 870.0h0M645.7 854.4h0M655.5 850.3h0M668.7 862.3h0M664.5 852.6h0M640.9 873.6h0M657.4 878.7h0M676.7 866.2h0M657.1 880.4h0M646.4 884.1h0M641.0 875.2h0M645.2 853.6h0M637.8 860.6h0M660.6 852.8h0M656.7 877.5h0M675.2 853.7h0M646.7 885.1h0M646.3 879.4h0M674.8 874.6h0M651.2 851.4h0M660.3 854.5h0M659.8 885.8h0M647.9 878.6h0M651.2 883.6h0M654.2 879.1h0M667.9 871.7h0M656.1 877.5h0M665.3 878.3h0M649.4 879.2h0M633.7 852.8h0M658.0 843.5h0M648.0 851.3h0M660.1 877.5h0M662.8 856.6h0M635.3 854.5h0M642.4 855.0h0M648.5 846.8h0M670.1 870.7h0M637.9 847.6h0M672.0 869.0h0M640.4 877.0h0M662.8 855.9h0M633.6 866.5h0M645.0 881.0h0M656.9 883.9h0M648.1 848.3h0M667.8 860.7h0M631.7 861.7h0M635.7 853.6h0M634.5 867.2h0M644.2 879.0h0M671.7 852.4h0M667.5 867.6h0M636.5 883.3h0M628.6 868.3h0M638.9 871.0h0M659.5 878.1h0M651.9 878.7h0M672.6 874.0h0M636.4 874.7h0M636.5 853.5h0M640.0 881.4h0M660.4 882.6h0M666.9 868.5h0M655.3 852.4h0M667.3 867.2h0M664.2 873.5h0M656.6 854.6h0M632.8 862.3h0M653.2 852.5h0M632.9 861.8h0M639.7 858.3h0M665.4 872.0h0M666.3 844.7h0M638.8 862.0h0M639.0 872.6h0M642.7 856.5h0M633.0 872.0h0M637.0 862.3h0M668.5 859.6h0M634.1 875.7h0M662.7 854.6h0M638.4 869.9h0M638.1 856.9h0M653.8 849.7h0M640.7 857.5h0M667.6 870.5h0M643.9 876.4h0M636.7 860.8h0M633.1 876.6h0M670.3 862.6h0M674.9 865.7h0M663.1 877.3h0M645.7 853.6h0M661.0 852.6h0M669.1 867.7h0M672.1 851.6h0M637.3 864.0h0M648.6 853.4h0M639.0 871.3h0M666.0 861.1h0M637.6 874.1h0M638.1 869.0h0M655.5 878.9h0M652.2 850.9h0M669.1 860.0h0M663.5 873.3h0M633.0 861.8h0M631.3 855.9h0M650.4 879.5h0M627.9 874.4h0M634.3 869.7h0M626.3 871.4h0M638.5 854.2h0M657.8 879.4h0M644.7 880.9h0M625.8 865.0h0M663.7 880.9h0M638.9 858.2h0M632.7 870.1h0M633.9 870.7h0M661.6 876.5h0M655.3 852.8h0M650.6 850.6h0M636.0 850.4h0M670.9 873.3h0M666.6 860.8h0M639.9 852.5h0M640.2 874.8h0M662.5 877.1h0M641.6 876.6h0M665.4 860.6h0M632.1 859.2h0M670.7 867.0h0M638.4 849.0h0M661.3 855.7h0M664.6 852.0h0M639.0 871.2h0M643.5 877.9h0M651.9 854.4h0M631.4 875.2h0M649.4 853.6h0M627.7 864.4h0M661.3 879.4h0M661.5 876.1h0M649.5 850.0h0M638.9 873.0h0M630.3 858.1h0M649.8 851.1h0M666.0 867.7h0M636.1 865.3h0M638.4 871.0h0M638.6 877.0h0M670.9 862.6h0M665.2 872.3h0M662.5 875.7h0M664.5 871.2h0M658.6 882.2h0M664.2 872.5h0M678.0 859.2h0M655.9 878.3h0M666.7 877.0h0M635.8 872.4h0M659.3 876.7h0M641.6 882.6h0M656.5 853.6h0M628.1 861.2h0M640.1 879.4h0M635.9 859.9h0M649.2 884.6h0M646.4 877.7h0M673.6 860.2h0M655.1 849.1h0M651.4 881.1h0M667.4 855.5h0M655.6 877.8h0M637.8 878.3h0M647.7 877.6h0M632.9 873.0h0M658.3 878.6h0M649.0 852.7h0M672.4 868.9h0M639.5 858.8h0M648.8 879.1h0M643.0 883.0h0M651.7 882.4h0M642.1 858.3h0M647.1 880.1h0M646.5 849.1h0M652.1 882.4h0M652.1 885.7h0M666.4 859.3h0M655.1 878.2h0M635.1 863.6h0M636.2 876.0h0M630.6 853.5h0M635.4 860.1h0M666.7 860.4h0M635.3 867.5h0M637.3 870.8h0M648.2 881.3h0M660.1 879.5h0M654.9 848.8h0M630.2 867.4h0M641.8 874.5h0M649.9 882.9h0M666.8 862.7h0M637.3 861.3h0M667.8 873.5h0M663.9 856.4h0M645.9 850.4h0M647.6 878.3h0M666.3 866.8h0M643.0 854.9h0M667.6 852.8h0M664.6 859.5h0M640.4 879.9h0M635.8 864.4h0M666.6 873.0h0M638.3 869.8h0M637.1 868.3h0M630.7 854.8h0M628.4 854.7h0M655.1 854.2h0M636.6 856.8h0M664.3 873.9h0M656.4 853.1h0M637.8 882.1h0M662.9 873.3h0M651.6 850.9h0M657.0 847.0h0M670.5 860.6h0M638.2 863.7h0M646.9 845.4h0M641.4 874.0h0M664.9 854.4h0M634.0 852.0h0M670.7 852.8h0M641.4 874.0h0M669.5 850.6h0M656.3 885.5h0M634.8 869.7h0M667.2 873.3h0M664.0 878.2h0M639.4 860.5h0M648.2 852.0h0M659.6 875.8h0M675.9 869.8h0M638.3 865.0h0M658.6 853.5h0M649.7 847.9h0M665.0 875.6h0M674.3 874.6h0M646.5 883.4h0M677.2 861.3h0M667.5 871.4h0M668.9 856.1h0M647.4 854.3h0M666.4 868.0h0M637.9 866.5h0M666.4 870.5h0M663.3 857.7h0M655.6 847.0h0M666.4 859.4h0M635.2 863.4h0M635.7 872.0h0M635.0 869.8h0M653.6 847.5h0M653.6 879.0h0M651.3 877.9h0M636.6 860.0h0M627.0 858.5h0M655.0 878.4h0M653.0 845.4h0M659.4 852.3h0M666.2 882.4h0M638.6 869.9h0M644.3 884.9h0M661.2 887.1h0M650.1 883.4h0M669.0 864.0h0M644.5 851.6h0M667.5 862.6h0M633.8 861.0h0M631.6 864.7h0M665.0 856.6h0M665.9 862.9h0M631.2 858.2h0M673.9 858.1h0M647.5 877.7h0M661.7 855.3h0M636.0 867.5h0M651.3 854.4h0M673.6 854.7h0M632.8 859.4h0M669.6 866.3h0M651.8 853.5h0M653.7 851.5h0M653.4 881.0h0M641.3 856.1h0M647.5 853.4h0M660.4 849.8h0M636.0 865.8h0M660.1 855.0h0M661.0 877.5h0M638.1 868.7h0M650.6 878.8h0M663.1 876.6h0M639.6 883.0h0M666.2 867.0h0M638.6 855.7h0M669.6 875.3h0M661.6 877.4h0M630.7 864.0h0M661.5 875.5h0M656.4 879.0h0M635.0 873.6h0M651.9 850.4h0M679.0 869.5h0M663.9 884.3h0M651.5 847.2h0M632.0 874.5h0M672.6 860.7h0M636.9 865.8h0M648.7 888.3h0M627.1 859.4h0M640.2 882.9h0M639.5 861.2h0M633.1 858.2h0M662.3 857.4h0M652.0 881.3h0M632.5 862.7h0M652.0 878.1h0M649.9 880.7h0M666.5 866.7h0M658.5 883.0h0M649.1 878.3h0M673.7 868.2h0M661.8 853.0h0M635.2 880.7h0M641.0 888.2h0M635.2 867.8h0M647.8 855.1h0M637.7 863.1h0M670.1 872.1h0M665.0 872.7h0M666.7 851.4h0M667.7 855.6h0M657.5 880.1h0M669.4 873.5h0M672.7 868.3h0M674.1 858.7h0M634.2 869.5h0M647.0 878.2h0M642.7 883.3h0M649.3 853.6h0M670.7 856.1h0M627.4 871.2h0M645.4 877.2h0M664.3 874.0h0M642.6 876.7h0M672.0 863.1h0M636.4 862.6h0M631.3 863.1h0M666.8 857.2h0M649.5 843.8h0M635.5 872.9h0M642.2 849.8h0M660.2 881.1h0M664.5 874.1h0M656.4 850.1h0M637.1 870.9h0M666.5 873.0h0M659.3 881.6h0M643.4 851.2h0M648.4 885.0h0M648.7 877.8h0M639.2 856.5h0M665.3 872.3h0M631.2 878.2h0M670.3 867.6h0M665.2 873.1h0M671.1 857.5h0M665.8 852.7h0M637.6 861.9h0M649.0 850.1h0M657.1 850.0h0M648.3 878.6h0M652.6 878.1h0M643.3 856.4h0M648.6 853.7h0M650.4 850.1h0M639.7 855.7h0M650.2 848.9h0M648.5 853.0h0M631.7 877.2h0M672.3 860.3h0M658.6 881.3h0M638.1 861.0h0M668.3 869.2h0M648.7 878.1h0M648.5 881.7h0M635.2 865.2h0M636.8 872.8h0M634.1 871.4h0M647.6 853.6h0M662.7 874.4h0M663.4 856.7h0M656.4 878.9h0M647.5 851.4h0M640.2 846.9h0M633.6 874.8h0M666.7 870.0h0M670.1 874.8h0M671.3 865.4h0M648.1 880.4h0M654.9 882.1h0M638.7 857.3h0M635.7 871.1h0M664.7 849.8h0M631.3 861.3h0M639.6 853.6h0M638.3 868.7h0M660.2 848.3h0M637.5 872.5h0M636.0 873.9h0M661.1 843.1h0M667.1 861.6h0M666.1 865.7h0M645.9 876.9h0M639.7 874.2h0M637.3 855.1h0M665.8 855.8h0M643.1 856.3h0M665.1 879.9h0M640.4 854.6h0M638.0 855.6h0M666.0 877.8h0M657.4 879.7h0M625.9 862.4h0M664.2 872.8h0M637.5 866.5h0M665.3 871.1h0M641.7 854.9h0M667.0 862.9h0M644.5 856.3h0M667.9 867.1h0M640.2 874.2h0M637.9 862.5h0M656.0 853.0h0M658.5 877.3h0M651.3 849.8h0M660.4 853.5h0M638.9 862.7h0M635.6 865.8h0M637.7 861.9h0M649.5 878.9h0M637.5 867.1h0M645.2 855.4h0M644.0 854.5h0M677.2 863.3h0M663.5 852.0h0M665.5 859.0h0M637.9 864.2h0M640.4 875.0h0M642.1 877.5h0M652.7 883.1h0M659.6 851.5h0M638.3 860.8h0M652.8 852.3h0M653.3 878.3h0M644.0 877.0h0M638.2 874.4h0M677.1 874.3h0M651.6 879.1h0M659.6 876.3h0M665.0 872.6h0M647.4 878.6h0M630.6 875.0h0M672.3 870.1h0M656.7 879.5h0M667.1 868.6h0M649.5 880.1h0M641.7 858.9h0M660.6 879.3h0M631.7 866.4h0M666.3 870.0h0M631.2 876.6h0M637.0 871.3h0M643.4 877.3h0M665.0 882.3h0M639.1 880.7h0M665.1 870.2h0M636.9 867.2h0M665.4 861.5h0M627.3 867.3h0M658.0 883.2h0M669.3 865.5h0M669.9 851.1h0M648.2 882.9h0M641.1 874.9h0M671.3 861.0h0M672.0 850.1h0M658.2 848.9h0M645.6 884.1h0M657.3 879.3h0M648.0 854.5h0M634.8 874.8h0M658.8 878.7h0M650.3 846.1h0M656.2 877.2h0M664.6 874.1h0M651.3 854.3h0M644.6 852.5h0M638.2 859.5h0M643.0 856.3h0M662.0 855.1h0M654.1 854.2h0M669.1 867.7h0M642.6 854.7h0M652.9 850.0h0M648.5 850.6h0M663.7 881.0h0M666.9 861.6h0M629.0 871.3h0M640.4 879.2h0M651.6 879.8h0M647.7 853.5h0M668.4 861.3h0M667.6 875.7h0M652.9 882.6h0M650.1 886.3h0M636.6 868.4h0M666.5 850.5h0M631.9 863.2h0M650.1 880.4h0M648.6 881.0h0M641.7 878.3h0M665.7 862.6h0M665.0 872.8h0M641.1 874.3h0M636.4 871.5h0M680.0 864.1h0M644.9 849.5h0M652.5 852.0h0M658.8 855.0h0M642.5 853.2h0M665.6 878.6h0M640.1 860.1h0M653.9 847.8h0M670.7 868.0h0M641.3 874.3h0M643.4 852.3h0M640.2 884.6h0M677.5 862.6h0M670.0 873.9h0M638.3 876.8h0M656.9 880.6h0M644.9 848.7h0M668.2 879.8h0M632.1 871.1h0M645.4 879.4h0M651.1 851.6h0M638.5 848.3h0M647.8 853.0h0M666.1 857.8h0M670.8 877.2h0M674.9 875.0h0M643.7 878.6h0M632.7 872.8h0M637.9 863.5h0M676.5 859.9h0M655.1 853.4h0M644.9 856.2h0M634.8 869.2h0M659.3 850.1h0M668.4 866.1h0M649.4 853.0h0M648.6 853.1h0M659.9 881.0h0M635.5 865.3h0M660.7 854.7h0M637.3 874.4h0M667.3 871.2h0M660.7 875.2h0M640.6 877.1h0M666.9 866.7h0M644.6 880.2h0M645.9 879.3h0M632.0 869.3h0M657.5 854.7h0M662.6 874.1h0M649.3 851.9h0M673.1 859.8h0M667.1 858.1h0M652.5 848.6h0M637.7 867.8h0M671.2 859.6h0M638.2 867.8h0M635.9 869.2h0M664.5 857.9h0M636.1 865.2h0M670.5 871.4h0M657.7 877.2h0M673.1 852.4h0M642.9 857.0h0M631.0 873.6h0M651.0 852.8h0M632.1 859.9h0M650.7 879.2h0M659.5 854.5h0M660.1 849.2h0M655.4 881.4h0M660.1 850.8h0M645.6 877.5h0M653.6 881.0h0M656.9 854.0h0M662.2 876.6h0M667.5 872.5h0M645.5 852.4h0M658.0 877.2h0M664.0 847.4h0M638.8 860.6h0M649.2 854.8h0M632.8 856.1h0M638.7 870.7h0M636.7 865.6h0M665.5 858.3h0M670.0 874.4h0M673.6 877.7h0M659.7 879.9h0M665.4 869.2h0M654.0 882.0h0M659.3 877.7h0M635.2 869.4h0M633.1 875.1h0M631.8 852.5h0M658.9 876.7h0M656.0 880.2h0M669.5 851.9h0M646.3 877.9h0M646.1 850.9h0M641.7 879.9h0M648.3 853.2h0M633.3 877.5h0M660.9 846.3h0M653.0 853.7h0M639.8 858.0h0M636.8 867.8h0M656.3 878.6h0M663.1 853.3h0M631.4 874.0h0M643.3 852.5h0M628.8 860.6h0M665.5 860.6h0M648.4 885.7h0M665.2 861.2h0M637.2 862.9h0M640.4 851.9h0M654.2 879.7h0M637.8 858.4h0M639.8 861.1h0M660.4 880.2h0M652.0 854.1h0M651.7 883.0h0M640.2 857.2h0M652.3 883.7h0M669.6 878.0h0M660.6 876.2h0M641.3 874.2h0M650.5 850.3h0M667.5 872.6h0M663.2 878.3h0M637.6 861.4h0M666.2 864.3h0M664.1 849.1h0M638.6 863.0h0M669.4 860.5h0M650.9 854.2h0M644.7 882.7h0M645.6 879.7h0M667.3 870.8h0M662.3 879.1h0M656.6 850.2h0M651.5 880.9h0M669.5 873.1h0M652.9 880.7h0M631.7 870.8h0M636.2 877.4h0M637.9 881.4h0M669.7 862.3h0M672.2 856.3h0M663.4 874.3h0M670.4 860.7h0M648.8 854.5h0M636.6 872.1h0M645.2 853.8h0M651.0 878.8h0M639.9 872.9h0M631.3 862.5h0M653.4 878.2h0M659.0 876.6h0M661.3 878.9h0M635.6 873.8h0M667.6 865.3h0M638.8 874.9h0M667.6 866.6h0M647.4 854.0h0M666.7 865.0h0M650.3 854.2h0M637.4 867.7h0M666.5 882.5h0M659.2 876.4h0M643.2 855.8h0M662.3 876.0h0M665.6 883.8h0M663.1 875.3h0M633.6 884.0h0M638.9 871.1h0M647.2 886.5h0M641.5 874.6h0M656.3 887.3h0M640.0 858.3h0M643.4 877.2h0M645.6 878.8h0M663.6 856.2h0M634.7 868.7h0M664.3 873.7h0M643.9 881.6h0M669.9 865.5h0M638.3 862.6h0M641.0 883.7h0M652.0 852.7h0M636.0 871.3h0M667.7 878.0h0M663.2 873.7h0M642.4 875.8h0M638.5 863.9h0M660.7 880.1h0M638.9 861.5h0M665.7 869.6h0M647.9 885.8h0M643.6 879.0h0M665.2 870.2h0M653.5 852.0h0M671.2 875.9h0M655.7 877.7h0M641.8 858.4h0M628.9 861.5h0M665.5 869.7h0M642.9 876.5h0M635.0 879.3h0M642.6 879.4h0M656.3 846.6h0M638.8 862.3h0M641.7 854.1h0M664.1 854.7h0M665.8 861.5h0M646.0 882.4h0M650.7 844.7h0M652.6 878.6h0M649.2 883.9h0M643.5 848.1h0M667.4 855.8h0M638.1 861.7h0M639.8 876.6h0M640.7 855.3h0M658.2 881.2h0M667.4 867.4h0M650.0 849.4h0M636.8 865.8h0M643.5 856.2h0M637.5 860.2h0M641.9 877.1h0M638.2 861.5h0M669.0 866.0h0M649.3 851.4h0M666.8 853.5h0M658.6 850.5h0M642.0 853.4h0M637.5 862.2h0M650.8 879.3h0M640.0 879.9h0M637.0 860.3h0M662.5 854.2h0M637.7 859.3h0M668.3 863.0h0M665.7 846.6h0M649.7 886.1h0M650.5 852.0h0M666.7 859.3h0M663.3 881.0h0M638.6 869.9h0M662.6 874.1h0M666.2 866.9h0M661.6 874.7h0M665.7 870.4h0M648.4 850.9h0M641.3 857.2h0M666.4 858.7h0M646.8 853.7h0M631.1 866.1h0M632.1 874.7h0M633.3 855.8h0M657.3 887.2h0M666.2 866.8h0M668.1 866.1h0M651.7 853.1h0M666.3 858.7h0M664.4 871.6h0M667.9 859.4h0M640.9 851.6h0M640.1 881.6h0M648.7 852.2h0M635.2 855.7h0M658.6 884.9h0M644.5 876.3h0M664.3 874.4h0M637.9 866.2h0M669.3 862.1h0M653.3 848.8h0M639.3 860.7h0M664.0 874.9h0M665.8 858.1h0M640.7 881.3h0M636.3 864.2h0M673.6 853.3h0M673.1 860.8h0M641.5 877.8h0M674.1 867.7h0M640.6 875.7h0M645.3 854.2h0M642.7 879.5h0M639.6 861.0h0M644.4 853.8h0M638.7 874.8h0M665.6 870.0h0M641.1 854.4h0M647.6 854.7h0M640.2 852.6h0M641.3 875.6h0M652.6 845.9h0M639.1 862.7h0M650.9 878.5h0M649.9 853.9h0M634.6 859.7h0M642.2 857.1h0M661.5 875.3h0M659.4 885.4h0M668.3 869.5h0M639.0 878.1h0M666.1 859.8h0M644.2 879.2h0M638.0 869.8h0M653.6 878.6h0M645.8 876.9h0M642.8 855.6h0M657.2 882.0h0M662.2 852.7h0M646.7 852.1h0M643.5 854.7h0M667.6 870.1h0M647.8 881.4h0M667.2 874.9h0M667.1 862.4h0M643.8 855.0h0M676.5 855.5h0M655.6 882.7h0M641.3 852.5h0M666.5 866.7h0M643.6 881.5h0M654.0 854.0h0M632.3 872.3h0M661.8 853.5h0M642.6 852.3h0M646.2 885.7h0M637.5 867.1h0M674.6 878.8h0M666.1 866.5h0M664.9 854.5h0M664.8 878.7h0M673.0 862.4h0M645.6 844.1h0M667.1 869.7h0M647.1 879.2h0M647.0 878.5h0M637.5 860.4h0M650.4 850.3h0M635.8 858.6h0M632.6 861.1h0M660.8 877.6h0M667.8 876.8h0M636.5 866.5h0M639.7 850.3h0M664.6 883.6h0M666.1 857.5h0M660.6 855.0h0M645.9 851.3h0M629.3 858.6h0M667.3 854.5h0M639.9 887.5h0M643.9 877.6h0M666.2 860.4h0M641.7 875.8h0M649.0 880.3h0M640.4 852.6h0M671.3 865.4h0M658.8 881.3h0M637.7 862.3h0M668.0 868.5h0M646.5 851.3h0M653.1 882.0h0M662.4 876.5h0M668.2 866.0h0M668.3 871.6h0M679.1 871.5h0M652.5 852.6h0M670.3 873.3h0M669.4 861.8h0M652.2 882.8h0M664.1 854.6h0M637.8 867.3h0M661.3 846.4h0M653.9 852.9h0M645.4 853.7h0M637.5 874.8h0M664.6 857.3h0M663.6 849.6h0M650.8 853.7h0M667.7 871.2h0M643.9 853.0h0M668.6 862.8h0M668.4 854.5h0M633.1 870.8h0M629.0 861.4h0M655.4 842.8h0M636.4 879.3h0M665.0 882.4h0M645.1 854.8h0M666.1 876.1h0M627.1 867.9h0M646.4 877.3h0M641.0 856.8h0M638.4 873.7h0M653.9 881.8h0M663.1 856.1h0M663.5 873.8h0M639.0 870.6h0M635.4 869.7h0M667.3 854.5h0M626.7 876.0h0M673.1 850.5h0M634.3 866.3h0M648.7 852.3h0M638.2 858.9h0M634.2 877.8h0M642.4 857.4h0M637.7 856.3h0M669.5 869.6h0M675.4 868.5h0M652.1 880.9h0M635.6 859.9h0M637.6 867.9h0M666.5 859.7h0M650.8 879.5h0M655.1 848.3h0M637.4 863.5h0M638.4 862.6h0M640.9 858.3h0M667.6 867.6h0M662.4 854.8h0M666.5 862.5h0M637.1 869.6h0M664.3 857.9h0M669.9 857.5h0M646.3 877.5h0M659.3 849.6h0M639.8 876.3h0M651.0 884.8h0M655.0 877.5h0M645.4 851.7h0M661.6 853.9h0M654.7 852.1h0M665.3 878.6h0M637.6 857.0h0M667.5 857.2h0M668.6 863.6h0M639.1 859.7h0M666.8 877.3h0M638.6 863.4h0M655.7 877.5h0M639.9 855.4h0M661.0 878.9h0M658.6 843.3h0M662.7 878.4h0M669.0 868.2h0M640.0 880.0h0M641.1 859.3h0M637.1 862.1h0M664.4 853.1h0M664.9 860.4h0M641.8 855.2h0M638.0 861.0h0M653.1 881.8h0M663.9 872.2h0M667.7 872.0h0M639.9 874.0h0M655.4 843.2h0M662.9 874.7h0M648.0 880.5h0M667.6 860.5h0M672.9 858.5h0M647.4 851.8h0M652.8 884.7h0M662.5 878.1h0M653.3 882.3h0M655.0 879.4h0M665.7 861.8h0M650.6 851.7h0M655.1 879.8h0M645.6 855.4h0M640.2 856.3h0M666.4 860.0h0M632.8 875.4h0M667.7 858.8h0M657.0 850.7h0M644.8 847.0h0M666.6 861.5h0M663.6 856.7h0M639.7 873.4h0M632.9 861.8h0M641.9 878.1h0M627.2 864.0h0M643.2 879.7h0M669.7 859.0h0M638.1 878.4h0M665.7 860.4h0M661.6 847.0h0M636.7 875.7h0M635.1 861.7h0M646.3 878.4h0M654.0 852.5h0M667.4 857.0h0M630.7 851.7h0M664.2 874.6h0M669.7 866.1h0M665.0 857.3h0M646.2 853.3h0M668.8 852.5h0M649.1 846.4h0M635.7 873.1h0M647.0 854.2h0M657.9 842.2h0M657.3 877.3h0M639.1 875.3h0M639.7 854.5h0M648.8 854.1h0M653.3 879.4h0M649.1 849.9h0M649.6 879.1h0M640.3 859.6h0M668.0 857.5h0M649.2 880.1h0M634.7 861.4h0M654.9 878.3h0M649.2 878.7h0M659.4 850.0h0M663.0 878.4h0M660.2 880.4h0M638.1 863.5h0M649.9 881.9h0M662.1 852.1h0M664.3 875.0h0M658.8 876.4h0M666.2 867.6h0M669.8 877.9h0M666.8 872.7h0M658.4 850.6h0M658.9 876.9h0M666.1 876.0h0M662.3 854.5h0M660.4 853.7h0M648.3 843.9h0M652.4 850.8h0M652.5 881.6h0M636.1 871.2h0M667.8 867.5h0M678.8 867.1h0M653.3 847.9h0M669.3 862.1h0M649.7 854.7h0M669.8 866.1h0M650.0 854.1h0M653.4 879.0h0M669.2 877.7h0M660.6 852.4h0M637.9 873.0h0M664.8 874.5h0M665.0 871.0h0M670.1 877.7h0M625.4 861.0h0M646.3 881.9h0M675.7 870.5h0M635.1 879.0h0M634.1 876.1h0M638.1 862.6h0M644.3 852.9h0M670.8 870.5h0M625.9 858.7h0M640.7 873.7h0M663.3 877.9h0M653.2 877.8h0M639.4 871.5h0M651.3 851.4h0M646.2 851.2h0M637.0 871.7h0M660.9 853.9h0M655.9 852.1h0M669.0 880.2h0M666.3 871.0h0M662.7 874.8h0M643.6 856.6h0M655.9 879.1h0M656.1 881.1h0M636.0 858.6h0M638.8 874.2h0M646.6 878.1h0M636.6 871.4h0M656.4 852.3h0M643.1 855.1h0M660.3 876.4h0M630.1 874.8h0M638.2 862.6h0M658.0 876.7h0M648.1 853.6h0M645.8 849.0h0M677.7 874.2h0M653.2 881.3h0M637.4 854.4h0M634.8 871.0h0M667.7 864.0h0M634.7 861.8h0M664.5 871.3h0M635.6 856.9h0M667.6 859.9h0M638.0 877.9h0M664.5 856.0h0M671.4 861.5h0M631.4 862.8h0M663.6 855.6h0M638.5 876.1h0M652.4 853.3h0M661.1 875.7h0M662.9 855.5h0M659.1 850.8h0M637.5 859.9h0M637.8 868.9h0M663.3 875.8h0M665.7 873.0h0M641.1 885.4h0M667.8 849.6h0M639.5 872.9h0M660.1 878.7h0M635.2 854.3h0M635.2 855.5h0M642.4 883.2h0M638.4 864.2h0M659.9 877.2h0M666.1 869.0h0M662.0 881.2h0M643.4 853.0h0M634.8 879.5h0M664.3 852.5h0M669.2 877.2h0M638.1 858.8h0M649.2 878.7h0M667.8 859.8h0M665.9 869.1h0M636.0 861.9h0M641.4 851.7h0M641.4 883.5h0M661.6 875.7h0M639.5 860.4h0M650.5 878.6h0M668.6 863.4h0M626.1 870.3h0M634.0 872.2h0M668.6 871.7h0M665.5 871.3h0M668.1 859.6h0M641.7 850.8h0M651.8 881.5h0M665.1 875.4h0M636.6 868.7h0M635.8 870.8h0M638.4 880.0h0M664.5 877.4h0M650.6 848.7h0M671.0 870.4h0M630.7 862.1h0M666.1 869.3h0M674.8 870.6h0M631.5 869.7h0M644.9 856.2h0M668.6 858.9h0M635.3 855.0h0M652.6 853.4h0M640.0 860.4h0M639.2 885.6h0M636.0 865.5h0M643.2 887.7h0M631.6 866.8h0M641.6 853.0h0M664.9 860.7h0M633.9 878.6h0M673.0 863.3h0M655.8 848.8h0M640.6 873.3h0M636.6 886.8h0M644.4 850.8h0M656.5 877.2h0M637.3 878.6h0M654.1 879.4h0M665.9 857.4h0M636.1 859.9h0M664.0 875.6h0M651.2 851.7h0M644.7 855.3h0M654.5 878.6h0M644.5 856.2h0M665.1 845.9h0M665.2 861.1h0M632.6 860.7h0M666.1 872.4h0M656.0 879.0h0M667.3 864.7h0M636.5 877.8h0M659.4 849.3h0M668.3 859.7h0M657.1 847.9h0M648.0 853.5h0M666.5 869.1h0M665.9 858.7h0M652.6 881.1h0M653.4 846.3h0M664.3 872.6h0M642.4 878.0h0M663.5 854.7h0M668.7 885.1h0M634.5 875.8h0M645.7 852.6h0M661.1 854.7h0M653.4 853.4h0M647.8 879.6h0M675.2 865.1h0M636.6 867.0h0M665.7 855.0h0M649.4 854.1h0M650.2 851.0h0M661.9 857.2h0M662.7 873.4h0M666.4 867.5h0M637.9 859.3h0M668.5 872.1h0M643.1 855.4h0M641.8 854.8h0M638.9 857.3h0M648.8 852.1h0M641.9 856.8h0M634.9 870.4h0M660.9 853.9h0M633.7 861.7h0M632.9 859.3h0M640.6 880.4h0M644.1 885.5h0M667.0 860.7h0M669.4 866.9h0M641.5 859.0h0M671.3 860.1h0M638.1 859.9h0M667.4 858.8h0M641.7 856.5h0M652.6 881.0h0M648.7 854.5h0M633.8 871.0h0M663.6 851.2h0M642.6 856.7h0M651.6 880.7h0M638.3 858.8h0M631.7 863.8h0M637.9 861.2h0M650.8 844.2h0M638.8 856.2h0M638.4 860.1h0M669.7 856.8h0M665.8 878.8h0M654.9 878.2h0M664.9 877.6h0M637.7 862.4h0M661.8 877.8h0M657.3 846.8h0M674.0 868.9h0M638.5 868.7h0M658.0 848.5h0M668.7 868.3h0M644.2 855.5h0M655.0 850.4h0M629.6 866.9h0M665.2 876.7h0M634.8 850.3h0M633.3 858.7h0M654.6 848.6h0M666.9 870.1h0M650.4 852.0h0M636.5 872.9h0M655.2 854.2h0M645.1 855.6h0M669.0 869.0h0M642.7 857.0h0M633.9 869.3h0M641.6 876.7h0M632.7 854.1h0M663.0 874.9h0M674.1 872.6h0M649.8 886.6h0M659.7 855.8h0M664.0 859.4h0M659.6 876.2h0M669.3 867.9h0M643.9 849.9h0M657.7 842.4h0M640.4 857.9h0M657.9 854.7h0M664.4 871.3h0M637.2 869.0h0M639.1 874.3h0M665.0 860.2h0M671.2 852.0h0M666.1 872.5h0M636.7 877.9h0M640.6 875.7h0M658.1 878.1h0M671.2 859.7h0M668.1 874.2h0M664.9 874.4h0M665.6 857.1h0M642.7 878.7h0M645.6 854.5h0M655.5 851.8h0M656.5 886.5h0M636.2 862.6h0M663.1 878.2h0M658.1 878.8h0M668.5 877.7h0M648.3 854.9h0M652.8 881.1h0M636.8 858.8h0M635.7 871.4h0M665.3 873.0h0M679.1 863.2h0M665.8 860.5h0M633.7 869.7h0M640.1 879.8h0M630.1 864.3h0M667.6 858.5h0M660.8 878.4h0M664.4 855.0h0M645.9 851.7h0M654.8 853.9h0M635.7 866.5h0M648.7 880.4h0M636.8 865.9h0M649.5 878.4h0M638.8 859.5h0M634.3 865.8h0M654.9 879.8h0M636.8 885.9h0M672.2 869.7h0" stroke="#2b4ea6" stroke-width="1.45" stroke-linecap="round" fill="none"/>
</g>
</svg>
</body>
</html>
